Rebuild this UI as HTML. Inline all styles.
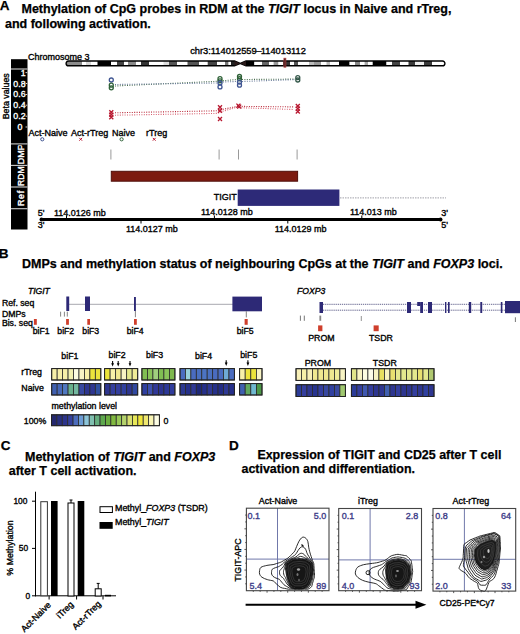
<!DOCTYPE html>
<html><head><meta charset="utf-8"><style>
html,body{margin:0;padding:0;background:#fff;}
body{width:520px;height:634px;overflow:hidden;}
svg{display:block;font-family:"Liberation Sans", sans-serif;}
</style></head><body>
<svg width="520" height="634" viewBox="0 0 520 634" font-family="Liberation Sans, sans-serif">
<rect width="520" height="634" fill="#fff"/>
<text x="-0.3" y="9.8" font-size="13.5" font-weight="bold" font-style="normal" fill="#000" stroke="#000" stroke-width="0.25" text-anchor="start" >A</text>
<text x="21.5" y="13" font-size="12.5" font-weight="bold" fill="#000" stroke="#000" stroke-width="0.25" text-anchor="start" ><tspan font-style="normal">Methylation of CpG probes in RDM at the </tspan><tspan font-style="italic">TIGIT</tspan><tspan font-style="normal"> locus in Naive and rTreg,</tspan></text>
<text x="5" y="28" font-size="12.5" font-weight="bold" font-style="normal" fill="#000" stroke="#000" stroke-width="0.25" text-anchor="start" >and following activation.</text>
<text x="28" y="59.6" font-size="9" font-weight="normal" font-style="normal" fill="#000" stroke="#000" stroke-width="0.35" text-anchor="start" >Chromosome 3</text>
<text x="190.2" y="54.3" font-size="9.3" fill="#000" stroke="#000" stroke-width="0.35">chr3:114012559<tspan dx="-0.5">–</tspan><tspan dx="-0.6">114013112</tspan></text>
<clipPath id="chr"><path d="M68.5,61.0 H234.5 L240.2,63.4 L246,61.0 H442.5 A2.4,2.4 0 0 1 442.5,65.8 H246 L240.2,63.4 L234.5,65.8 H68.5 A2.4,2.4 0 0 1 68.5,61.0 Z"/></clipPath>
<g clip-path="url(#chr)"><rect x="66" y="61.0" width="16.00" height="4.80" fill="#8c8c8c"/><rect x="82" y="61.0" width="4.00" height="4.80" fill="#fff"/><rect x="86" y="61.0" width="5.00" height="4.80" fill="#d8d8d8"/><rect x="91" y="61.0" width="6.50" height="4.80" fill="#fff"/><rect x="97.5" y="61.0" width="13.50" height="4.80" fill="#000"/><rect x="111" y="61.0" width="6.00" height="4.80" fill="#fff"/><rect x="117" y="61.0" width="7.00" height="4.80" fill="#444"/><rect x="124" y="61.0" width="4.00" height="4.80" fill="#fff"/><rect x="128" y="61.0" width="8.00" height="4.80" fill="#8a8a8a"/><rect x="136" y="61.0" width="5.00" height="4.80" fill="#fff"/><rect x="141" y="61.0" width="8.00" height="4.80" fill="#333"/><rect x="149" y="61.0" width="14.50" height="4.80" fill="#fff"/><rect x="163.5" y="61.0" width="5.50" height="4.80" fill="#ddd"/><rect x="169" y="61.0" width="8.00" height="4.80" fill="#555"/><rect x="177" y="61.0" width="10.50" height="4.80" fill="#fff"/><rect x="187.5" y="61.0" width="11.50" height="4.80" fill="#555"/><rect x="199" y="61.0" width="8.70" height="4.80" fill="#fff"/><rect x="207.7" y="61.0" width="9.30" height="4.80" fill="#444"/><rect x="217" y="61.0" width="8.00" height="4.80" fill="#fff"/><rect x="225" y="61.0" width="3.60" height="4.80" fill="#777"/><rect x="228.6" y="61.0" width="2.40" height="4.80" fill="#fff"/><rect x="231" y="61.0" width="4.00" height="4.80" fill="#222"/><rect x="246" y="61.0" width="8.40" height="4.80" fill="#000"/><rect x="254.4" y="61.0" width="7.60" height="4.80" fill="#fff"/><rect x="262" y="61.0" width="7.00" height="4.80" fill="#666"/><rect x="269" y="61.0" width="4.60" height="4.80" fill="#fff"/><rect x="273.6" y="61.0" width="4.90" height="4.80" fill="#999"/><rect x="278.5" y="61.0" width="4.50" height="4.80" fill="#fff"/><rect x="283" y="61.0" width="7.00" height="4.80" fill="#333"/><rect x="290" y="61.0" width="4.00" height="4.80" fill="#fff"/><rect x="294" y="61.0" width="4.00" height="4.80" fill="#555"/><rect x="298" y="61.0" width="11.00" height="4.80" fill="#fff"/><rect x="309" y="61.0" width="5.00" height="4.80" fill="#bbb"/><rect x="314" y="61.0" width="7.00" height="4.80" fill="#999"/><rect x="321" y="61.0" width="5.50" height="4.80" fill="#fff"/><rect x="326.5" y="61.0" width="3.50" height="4.80" fill="#bbb"/><rect x="330" y="61.0" width="9.00" height="4.80" fill="#fff"/><rect x="339" y="61.0" width="10.60" height="4.80" fill="#000"/><rect x="349.6" y="61.0" width="5.40" height="4.80" fill="#fff"/><rect x="355" y="61.0" width="5.00" height="4.80" fill="#888"/><rect x="360" y="61.0" width="4.60" height="4.80" fill="#fff"/><rect x="364.6" y="61.0" width="3.40" height="4.80" fill="#aaa"/><rect x="368" y="61.0" width="4.70" height="4.80" fill="#fff"/><rect x="372.7" y="61.0" width="13.80" height="4.80" fill="#000"/><rect x="386.5" y="61.0" width="5.50" height="4.80" fill="#fff"/><rect x="392" y="61.0" width="8.00" height="4.80" fill="#444"/><rect x="400" y="61.0" width="8.50" height="4.80" fill="#fff"/><rect x="408.5" y="61.0" width="6.50" height="4.80" fill="#3a3a3a"/><rect x="415" y="61.0" width="9.00" height="4.80" fill="#eee"/><rect x="424" y="61.0" width="8.00" height="4.80" fill="#3a3a3a"/><rect x="432" y="61.0" width="13.00" height="4.80" fill="#fff"/></g>
<path d="M68.5,61.0 H234.5 L246,65.8 H442.5 A2.4,2.4 0 0 0 442.5,61.0 H246 L234.5,65.8 H68.5 A2.4,2.4 0 0 1 68.5,61.0 Z" fill="none" stroke="#000" stroke-width="1.4"/>
<path d="M234.5,61.0 L240.2,63.4 L234.5,65.8 Z M246,61.0 L240.2,63.4 L246,65.8 Z" fill="#2a1a1a"/>
<rect x="283.9" y="58.2" width="2.0" height="9.0" fill="#4a2020" stroke="#b04040" stroke-width="0.7" />
<rect x="11" y="59.2" width="16.5" height="170.3" fill="#000" stroke="none" stroke-width="1" />
<text x="25.6" y="75.5" font-size="8.8" font-weight="normal" font-style="normal" fill="#fff" stroke="#fff" stroke-width="0.35" text-anchor="end" >1</text>
<text x="25.6" y="86.6" font-size="8.8" font-weight="normal" font-style="normal" fill="#fff" stroke="#fff" stroke-width="0.35" text-anchor="end" >0.8</text>
<text x="25.6" y="97.4" font-size="8.8" font-weight="normal" font-style="normal" fill="#fff" stroke="#fff" stroke-width="0.35" text-anchor="end" >0.6</text>
<text x="25.6" y="108.2" font-size="8.8" font-weight="normal" font-style="normal" fill="#fff" stroke="#fff" stroke-width="0.35" text-anchor="end" >0.4</text>
<text x="25.6" y="119" font-size="8.8" font-weight="normal" font-style="normal" fill="#fff" stroke="#fff" stroke-width="0.35" text-anchor="end" >0.2</text>
<text x="17.4" y="129.8" font-size="8.8" font-weight="normal" font-style="normal" fill="#fff" stroke="#fff" stroke-width="0.35" text-anchor="start" >0</text>
<line x1="25.5" y1="72.6" x2="27.2" y2="72.6" stroke="#fff" stroke-width="0.8" />
<line x1="25.5" y1="83.5" x2="27.2" y2="83.5" stroke="#fff" stroke-width="0.8" />
<line x1="25.5" y1="94.5" x2="27.2" y2="94.5" stroke="#fff" stroke-width="0.8" />
<line x1="25.5" y1="105.2" x2="27.2" y2="105.2" stroke="#fff" stroke-width="0.8" />
<line x1="25.5" y1="116.2" x2="27.2" y2="116.2" stroke="#fff" stroke-width="0.8" />
<line x1="25.5" y1="127" x2="27.2" y2="127" stroke="#fff" stroke-width="0.8" />
<clipPath id="dmpclip"><rect x="11" y="145.3" width="17" height="20"/></clipPath>
<g clip-path="url(#dmpclip)">
<text x="0" y="0" font-size="9.0" fill="#fff" font-weight="normal" stroke="#fff" stroke-width="0.35"  text-anchor="middle" transform="translate(24.4,154.2) rotate(-90)">DMP</text>
</g>
<text x="0" y="0" font-size="8.6" fill="#fff" font-weight="normal" stroke="#fff" stroke-width="0.35"  text-anchor="middle" transform="translate(24.4,176.2) rotate(-90)">RDM</text>
<text x="0" y="0" font-size="8.8" fill="#fff" font-weight="normal" stroke="#fff" stroke-width="0.35" letter-spacing="0.7" text-anchor="middle" transform="translate(24.0,198.1) rotate(-90)">Ref</text>
<text x="0" y="0" font-size="8.8" fill="#000" font-weight="normal" stroke="#000" stroke-width="0.35"  text-anchor="middle" transform="translate(9.1,96.3) rotate(-90)">Beta values</text>
<line x1="11" y1="69" x2="27.5" y2="69" stroke="#d0d0d0" stroke-width="1.1" />
<line x1="11" y1="143.9" x2="27.5" y2="143.9" stroke="#d0d0d0" stroke-width="1.1" />
<line x1="11" y1="165.4" x2="27.5" y2="165.4" stroke="#d0d0d0" stroke-width="1.1" />
<line x1="11" y1="187" x2="27.5" y2="187" stroke="#d0d0d0" stroke-width="1.1" />
<line x1="11" y1="208.7" x2="27.5" y2="208.7" stroke="#d0d0d0" stroke-width="1.1" />
<polyline points="115,86 217,81.3 222,80.8 237,79.5 242,79.5 295,79.1" fill="none" stroke="#4a6e50" stroke-width="1.1" stroke-dasharray="1 1.4"/>
<polyline points="115,84.5 217,83 222,82 237,81.5 242,81.5 295,79.6" fill="none" stroke="#6a7c9a" stroke-width="1.1" stroke-dasharray="1 1.4"/>
<polyline points="115,112.8 217,110.8 222,109.5 236,106.6 243,106.4 294,106.9" fill="none" stroke="#b82838" stroke-width="1.1" stroke-dasharray="1 1.4"/>
<polyline points="115,115.2 217,113.4 222,111.5 236,107.5 243,107.8 294,109.5" fill="none" stroke="#d86070" stroke-width="1.1" stroke-dasharray="1 1.4"/>
<circle cx="111.3" cy="80" r="2.0" fill="none" stroke="#3f5592" stroke-width="1.3"/>
<circle cx="111.3" cy="85.2" r="2.0" fill="none" stroke="#2f6238" stroke-width="1.3"/>
<circle cx="111.3" cy="87.8" r="2.0" fill="none" stroke="#2f6238" stroke-width="1.3"/>
<path d="M109.3,110.2 L113.3,114.2 M109.3,114.2 L113.3,110.2" stroke="#b81830" stroke-width="1.3" fill="none"/>
<path d="M109.3,112.6 L113.3,116.6 M109.3,116.6 L113.3,112.6" stroke="#b81830" stroke-width="1.3" fill="none"/>
<path d="M109.3,115.2 L113.3,119.2 M109.3,119.2 L113.3,115.2" stroke="#b81830" stroke-width="1.3" fill="none"/>
<circle cx="220" cy="78.7" r="2.0" fill="none" stroke="#2f6238" stroke-width="1.3"/>
<circle cx="220" cy="80.8" r="2.0" fill="none" stroke="#2f6238" stroke-width="1.3"/>
<circle cx="220" cy="83" r="2.0" fill="none" stroke="#3f5592" stroke-width="1.3"/>
<circle cx="220" cy="86.9" r="2.0" fill="none" stroke="#3f5592" stroke-width="1.3"/>
<path d="M218.0,105.3 L222.0,109.3 M218.0,109.3 L222.0,105.3" stroke="#b81830" stroke-width="1.3" fill="none"/>
<path d="M218.0,108.8 L222.0,112.8 M218.0,112.8 L222.0,108.8" stroke="#b81830" stroke-width="1.3" fill="none"/>
<path d="M218.0,117.0 L222.0,121.0 M218.0,121.0 L222.0,117.0" stroke="#b81830" stroke-width="1.3" fill="none"/>
<circle cx="239.5" cy="76.5" r="2.0" fill="none" stroke="#2f6238" stroke-width="1.3"/>
<circle cx="239.5" cy="78.7" r="2.0" fill="none" stroke="#2f6238" stroke-width="1.3"/>
<circle cx="239.5" cy="82.1" r="2.0" fill="none" stroke="#3f5592" stroke-width="1.3"/>
<circle cx="239.5" cy="85.2" r="2.0" fill="none" stroke="#3f5592" stroke-width="1.3"/>
<path d="M236.4,103.6 L240.4,107.6 M236.4,107.6 L240.4,103.6" stroke="#b81830" stroke-width="1.3" fill="none"/>
<path d="M237.2,104.6 L241.2,108.6 M237.2,108.6 L241.2,104.6" stroke="#b81830" stroke-width="1.3" fill="none"/>
<circle cx="297.8" cy="77.6" r="2.0" fill="none" stroke="#34584a" stroke-width="1.3"/>
<circle cx="297.8" cy="80" r="2.0" fill="none" stroke="#34584a" stroke-width="1.3"/>
<path d="M295.8,104.0 L299.8,108.0 M295.8,108.0 L299.8,104.0" stroke="#b81830" stroke-width="1.3" fill="none"/>
<path d="M295.8,106.6 L299.8,110.6 M295.8,110.6 L299.8,106.6" stroke="#b81830" stroke-width="1.3" fill="none"/>
<path d="M295.8,109.5 L299.8,113.5 M295.8,113.5 L299.8,109.5" stroke="#b81830" stroke-width="1.3" fill="none"/>
<text x="28.5" y="135.8" font-size="9" font-weight="normal" font-style="normal" fill="#000" stroke="#000" stroke-width="0.35" text-anchor="start" >Act-Naive</text>
<text x="71" y="135.8" font-size="9" font-weight="normal" font-style="normal" fill="#000" stroke="#000" stroke-width="0.35" text-anchor="start" >Act-rTreg</text>
<text x="112" y="135.8" font-size="9" font-weight="normal" font-style="normal" fill="#000" stroke="#000" stroke-width="0.35" text-anchor="start" >Naive</text>
<text x="146" y="135.8" font-size="9" font-weight="normal" font-style="normal" fill="#000" stroke="#000" stroke-width="0.35" text-anchor="start" >rTreg</text>
<circle cx="42.3" cy="139.3" r="1.6" fill="none" stroke="#3f5592" stroke-width="1"/>
<path d="M79.3,137.9 L82.10000000000001,140.70000000000002 M79.3,140.70000000000002 L82.10000000000001,137.9" stroke="#b81830" stroke-width="1" fill="none"/>
<circle cx="121.6" cy="139.3" r="1.6" fill="none" stroke="#2f6238" stroke-width="1"/>
<path d="M152.79999999999998,137.9 L155.6,140.70000000000002 M152.79999999999998,140.70000000000002 L155.6,137.9" stroke="#b81830" stroke-width="1" fill="none"/>
<line x1="110.9" y1="149.5" x2="110.9" y2="159.5" stroke="#999" stroke-width="1" />
<line x1="219.1" y1="149.5" x2="219.1" y2="159.5" stroke="#999" stroke-width="1" />
<line x1="238.5" y1="149.5" x2="238.5" y2="159.5" stroke="#999" stroke-width="1" />
<line x1="297.1" y1="149.5" x2="297.1" y2="159.5" stroke="#999" stroke-width="1" />
<rect x="111.3" y="171.3" width="186.3" height="9.9" fill="#7c1b10" stroke="#50100a" stroke-width="1" />
<text x="213.8" y="200.2" font-size="9" font-weight="normal" font-style="normal" fill="#000" stroke="#000" stroke-width="0.35" text-anchor="start" >TIGIT</text>
<rect x="237.7" y="189.5" width="101.7" height="16.4" fill="#2d2a78" stroke="none" stroke-width="1" />
<line x1="340" y1="197.9" x2="446" y2="197.9" stroke="#a0a0a8" stroke-width="1" stroke-dasharray="1.5 1"/>
<line x1="41" y1="219.5" x2="440.5" y2="219.5" stroke="#000" stroke-width="3" />
<circle cx="41.5" cy="219.5" r="2" fill="#000"/>
<circle cx="440.5" cy="219.5" r="2" fill="#000"/>
<line x1="66.5" y1="215.5" x2="66.5" y2="219" stroke="#000" stroke-width="1" />
<line x1="214.4" y1="215.5" x2="214.4" y2="219" stroke="#000" stroke-width="1" />
<line x1="361.8" y1="215.5" x2="361.8" y2="219" stroke="#000" stroke-width="1" />
<line x1="141" y1="220" x2="141" y2="223.5" stroke="#000" stroke-width="1" />
<line x1="287.8" y1="220" x2="287.8" y2="223.5" stroke="#000" stroke-width="1" />
<text x="37.7" y="216" font-size="9" font-weight="normal" font-style="normal" fill="#000" stroke="#000" stroke-width="0.35" text-anchor="start" >5'</text>
<text x="37.7" y="228" font-size="9" font-weight="normal" font-style="normal" fill="#000" stroke="#000" stroke-width="0.35" text-anchor="start" >3'</text>
<text x="441.2" y="216.3" font-size="9" font-weight="normal" font-style="normal" fill="#000" stroke="#000" stroke-width="0.35" text-anchor="start" >3'</text>
<text x="441.2" y="228" font-size="9" font-weight="normal" font-style="normal" fill="#000" stroke="#000" stroke-width="0.35" text-anchor="start" >5'</text>
<text x="54" y="216" font-size="9" font-weight="normal" font-style="normal" fill="#000" stroke="#000" stroke-width="0.35" text-anchor="start" >114.0126 mb</text>
<text x="201" y="214.5" font-size="9" font-weight="normal" font-style="normal" fill="#000" stroke="#000" stroke-width="0.35" text-anchor="start" >114.0128 mb</text>
<text x="350" y="214.5" font-size="9" font-weight="normal" font-style="normal" fill="#000" stroke="#000" stroke-width="0.35" text-anchor="start" >114.013 mb</text>
<text x="126" y="231.5" font-size="9" font-weight="normal" font-style="normal" fill="#000" stroke="#000" stroke-width="0.35" text-anchor="start" >114.0127 mb</text>
<text x="274.7" y="231.5" font-size="9" font-weight="normal" font-style="normal" fill="#000" stroke="#000" stroke-width="0.35" text-anchor="start" >114.0129 mb</text>
<text x="-1.2" y="258" font-size="13.5" font-weight="bold" font-style="normal" fill="#000" stroke="#000" stroke-width="0.25" text-anchor="start" >B</text>
<text x="22" y="267.5" font-size="12.5" font-weight="bold" fill="#000" stroke="#000" stroke-width="0.25" text-anchor="start" ><tspan font-style="normal">DMPs and methylation status of neighbouring CpGs at the </tspan><tspan font-style="italic">TIGIT</tspan><tspan font-style="normal"> and </tspan><tspan font-style="italic">FOXP3</tspan><tspan font-style="normal"> loci.</tspan></text>
<text x="27.9" y="293.8" font-size="8.6" font-weight="normal" font-style="italic" fill="#000" stroke="#000" stroke-width="0.35" text-anchor="start" >TIGIT</text>
<text x="1.9" y="306" font-size="8.7" font-weight="normal" font-style="normal" fill="#000" stroke="#000" stroke-width="0.35" text-anchor="start" >Ref. seq</text>
<text x="1.9" y="317" font-size="8.7" font-weight="normal" font-style="normal" fill="#000" stroke="#000" stroke-width="0.35" text-anchor="start" >DMPs</text>
<text x="1.9" y="326.2" font-size="8.7" font-weight="normal" font-style="normal" fill="#000" stroke="#000" stroke-width="0.35" text-anchor="start" >Bis. seq</text>
<line x1="68" y1="304.3" x2="233" y2="304.3" stroke="#a8a8b0" stroke-width="1" />
<rect x="66.3" y="296.5" width="2.9000000000000057" height="14.5" fill="#2d2976" stroke="none" stroke-width="1" />
<rect x="85" y="296.5" width="5" height="14.5" fill="#2d2976" stroke="none" stroke-width="1" />
<rect x="134" y="297" width="1.9000000000000057" height="14" fill="#2d2976" stroke="none" stroke-width="1" />
<rect x="232.4" y="296.6" width="29.599999999999994" height="14.699999999999989" fill="#2d2976" stroke="none" stroke-width="1" />
<line x1="60.6" y1="311.7" x2="60.6" y2="316.6" stroke="#777" stroke-width="0.9" />
<line x1="64.4" y1="311.7" x2="64.4" y2="316.6" stroke="#777" stroke-width="0.9" />
<line x1="67.3" y1="311.7" x2="67.3" y2="316.6" stroke="#777" stroke-width="0.9" />
<line x1="135.4" y1="311" x2="135.4" y2="317.2" stroke="#777" stroke-width="0.9" />
<line x1="246.3" y1="311.2" x2="246.3" y2="317.4" stroke="#777" stroke-width="0.9" />
<rect x="33.9" y="319" width="2.8999999999999986" height="5.8" fill="#cf3f2c" stroke="none" stroke-width="1" />
<rect x="66.1" y="319" width="2.8000000000000114" height="5.8" fill="#cf3f2c" stroke="none" stroke-width="1" />
<rect x="87.3" y="319" width="2.700000000000003" height="5.8" fill="#cf3f2c" stroke="none" stroke-width="1" />
<rect x="134" y="319" width="2.8000000000000114" height="5.8" fill="#cf3f2c" stroke="none" stroke-width="1" />
<rect x="244.6" y="319" width="3.0999999999999943" height="5.8" fill="#cf3f2c" stroke="none" stroke-width="1" />
<text x="32.7" y="333.6" font-size="8.7" font-weight="normal" font-style="normal" fill="#000" stroke="#000" stroke-width="0.35" text-anchor="start" >biF1</text>
<text x="57.3" y="333.6" font-size="8.7" font-weight="normal" font-style="normal" fill="#000" stroke="#000" stroke-width="0.35" text-anchor="start" >biF2</text>
<text x="82.3" y="333.6" font-size="8.7" font-weight="normal" font-style="normal" fill="#000" stroke="#000" stroke-width="0.35" text-anchor="start" >biF3</text>
<text x="126.7" y="333.6" font-size="8.7" font-weight="normal" font-style="normal" fill="#000" stroke="#000" stroke-width="0.35" text-anchor="start" >biF4</text>
<text x="236.7" y="333.6" font-size="8.7" font-weight="normal" font-style="normal" fill="#000" stroke="#000" stroke-width="0.35" text-anchor="start" >biF5</text>
<text x="297" y="294.3" font-size="8.6" font-weight="normal" font-style="italic" fill="#000" stroke="#000" stroke-width="0.35" text-anchor="start" >FOXP3</text>
<line x1="323" y1="304.3" x2="505" y2="304.3" stroke="#686890" stroke-width="1" stroke-dasharray="1.3 0.8"/>
<line x1="323" y1="310.2" x2="505" y2="310.2" stroke="#686890" stroke-width="1" stroke-dasharray="1.3 0.8"/>
<rect x="319.5" y="302" width="3.5" height="11" fill="#2d2976" stroke="none" stroke-width="1" />
<rect x="407" y="302" width="4" height="11" fill="#2d2976" stroke="none" stroke-width="1" />
<rect x="420.2" y="302" width="2.8000000000000114" height="11" fill="#2d2976" stroke="none" stroke-width="1" />
<rect x="428" y="302" width="4" height="11" fill="#2d2976" stroke="none" stroke-width="1" />
<rect x="445" y="302" width="1.3999999999999773" height="11" fill="#2d2976" stroke="none" stroke-width="1" />
<rect x="448" y="302" width="1.6000000000000227" height="11" fill="#2d2976" stroke="none" stroke-width="1" />
<rect x="468.8" y="302" width="2.3999999999999773" height="11" fill="#2d2976" stroke="none" stroke-width="1" />
<rect x="480.3" y="302" width="1.8999999999999773" height="11" fill="#2d2976" stroke="none" stroke-width="1" />
<rect x="500.8" y="302" width="1.599999999999966" height="11" fill="#2d2976" stroke="none" stroke-width="1" />
<rect x="417.2" y="302" width="3.2" height="4" fill="#2d2976" stroke="none" stroke-width="1" />
<rect x="505" y="301" width="15" height="12.2" fill="#2d2976" stroke="none" stroke-width="1" />
<line x1="300.4" y1="315.6" x2="300.4" y2="320.8" stroke="#666" stroke-width="0.9" />
<line x1="304.3" y1="315.6" x2="304.3" y2="320.8" stroke="#666" stroke-width="0.9" />
<line x1="320.3" y1="315.6" x2="320.3" y2="320.8" stroke="#888" stroke-width="1.8" />
<line x1="361.3" y1="316" x2="361.3" y2="321" stroke="#888" stroke-width="0.9" />
<line x1="515.4" y1="317.3" x2="515.4" y2="322" stroke="#666" stroke-width="0.9" />
<rect x="318.1" y="325.4" width="4.3" height="5.8" fill="#cf3f2c" stroke="none" stroke-width="1" />
<rect x="373.6" y="325.4" width="5.1" height="5.8" fill="#cf3f2c" stroke="none" stroke-width="1" />
<text x="308.2" y="341.2" font-size="8.8" font-weight="normal" font-style="normal" fill="#000" stroke="#000" stroke-width="0.35" text-anchor="start" >PROM</text>
<text x="369" y="341.2" font-size="8.8" font-weight="normal" font-style="normal" fill="#000" stroke="#000" stroke-width="0.35" text-anchor="start" >TSDR</text>
<rect x="51.70" y="368.6" width="5.46" height="11.40" fill="#f7f0a8" stroke="#2a2a2a" stroke-width="0.8"/><rect x="57.16" y="368.6" width="5.46" height="11.40" fill="#f7f0a8" stroke="#2a2a2a" stroke-width="0.8"/><rect x="62.61" y="368.6" width="5.46" height="11.40" fill="#f7f0a8" stroke="#2a2a2a" stroke-width="0.8"/><rect x="68.07" y="368.6" width="5.46" height="11.40" fill="#f2f0b0" stroke="#2a2a2a" stroke-width="0.8"/><rect x="73.52" y="368.6" width="5.46" height="11.40" fill="#fcfce2" stroke="#2a2a2a" stroke-width="0.8"/><rect x="78.98" y="368.6" width="5.46" height="11.40" fill="#f8f4c4" stroke="#2a2a2a" stroke-width="0.8"/><rect x="84.43" y="368.6" width="5.46" height="11.40" fill="#f7f0a8" stroke="#2a2a2a" stroke-width="0.8"/><rect x="89.89" y="368.6" width="5.46" height="11.40" fill="#ece43c" stroke="#2a2a2a" stroke-width="0.8"/><rect x="95.34" y="368.6" width="5.46" height="11.40" fill="#ece43c" stroke="#2a2a2a" stroke-width="0.8"/><rect x="51.7" y="368.6" width="49.10" height="11.40" fill="none" stroke="#222" stroke-width="1"/>
<rect x="51.70" y="383.6" width="5.46" height="11.40" fill="#4060b0" stroke="#2a2a2a" stroke-width="0.8"/><rect x="57.16" y="383.6" width="5.46" height="11.40" fill="#4668b8" stroke="#2a2a2a" stroke-width="0.8"/><rect x="62.61" y="383.6" width="5.46" height="11.40" fill="#5078c0" stroke="#2a2a2a" stroke-width="0.8"/><rect x="68.07" y="383.6" width="5.46" height="11.40" fill="#68b08c" stroke="#2a2a2a" stroke-width="0.8"/><rect x="73.52" y="383.6" width="5.46" height="11.40" fill="#74b8a0" stroke="#2a2a2a" stroke-width="0.8"/><rect x="78.98" y="383.6" width="5.46" height="11.40" fill="#3848a0" stroke="#2a2a2a" stroke-width="0.8"/><rect x="84.43" y="383.6" width="5.46" height="11.40" fill="#2e3690" stroke="#2a2a2a" stroke-width="0.8"/><rect x="89.89" y="383.6" width="5.46" height="11.40" fill="#2e3690" stroke="#2a2a2a" stroke-width="0.8"/><rect x="95.34" y="383.6" width="5.46" height="11.40" fill="#3050a0" stroke="#2a2a2a" stroke-width="0.8"/><rect x="51.7" y="383.6" width="49.10" height="11.40" fill="none" stroke="#222" stroke-width="1"/>
<rect x="104.60" y="368.6" width="5.52" height="11.40" fill="#ece43c" stroke="#2a2a2a" stroke-width="0.8"/><rect x="110.12" y="368.6" width="5.52" height="11.40" fill="#f7f0a8" stroke="#2a2a2a" stroke-width="0.8"/><rect x="115.63" y="368.6" width="5.52" height="11.40" fill="#f0e890" stroke="#2a2a2a" stroke-width="0.8"/><rect x="121.15" y="368.6" width="5.52" height="11.40" fill="#f8f4c4" stroke="#2a2a2a" stroke-width="0.8"/><rect x="126.67" y="368.6" width="5.52" height="11.40" fill="#e4e88e" stroke="#2a2a2a" stroke-width="0.8"/><rect x="132.18" y="368.6" width="5.52" height="11.40" fill="#f0ec98" stroke="#2a2a2a" stroke-width="0.8"/><rect x="104.6" y="368.6" width="33.10" height="11.40" fill="none" stroke="#222" stroke-width="1"/>
<rect x="104.60" y="383.6" width="5.52" height="11.40" fill="#2e3690" stroke="#2a2a2a" stroke-width="0.8"/><rect x="110.12" y="383.6" width="5.52" height="11.40" fill="#343e9e" stroke="#2a2a2a" stroke-width="0.8"/><rect x="115.63" y="383.6" width="5.52" height="11.40" fill="#343e9e" stroke="#2a2a2a" stroke-width="0.8"/><rect x="121.15" y="383.6" width="5.52" height="11.40" fill="#3040a0" stroke="#2a2a2a" stroke-width="0.8"/><rect x="126.67" y="383.6" width="5.52" height="11.40" fill="#2e3690" stroke="#2a2a2a" stroke-width="0.8"/><rect x="132.18" y="383.6" width="5.52" height="11.40" fill="#3048a0" stroke="#2a2a2a" stroke-width="0.8"/><rect x="104.6" y="383.6" width="33.10" height="11.40" fill="none" stroke="#222" stroke-width="1"/>
<rect x="141.90" y="368.6" width="5.50" height="11.40" fill="#80be52" stroke="#2a2a2a" stroke-width="0.8"/><rect x="147.40" y="368.6" width="5.50" height="11.40" fill="#8ac45a" stroke="#2a2a2a" stroke-width="0.8"/><rect x="152.90" y="368.6" width="5.50" height="11.40" fill="#a0cf7e" stroke="#2a2a2a" stroke-width="0.8"/><rect x="158.40" y="368.6" width="5.50" height="11.40" fill="#80be52" stroke="#2a2a2a" stroke-width="0.8"/><rect x="163.90" y="368.6" width="5.50" height="11.40" fill="#8ac45a" stroke="#2a2a2a" stroke-width="0.8"/><rect x="169.40" y="368.6" width="5.50" height="11.40" fill="#7eb84e" stroke="#2a2a2a" stroke-width="0.8"/><rect x="141.9" y="368.6" width="33.00" height="11.40" fill="none" stroke="#222" stroke-width="1"/>
<rect x="141.90" y="383.6" width="5.50" height="11.40" fill="#3040a0" stroke="#2a2a2a" stroke-width="0.8"/><rect x="147.40" y="383.6" width="5.50" height="11.40" fill="#3c50b0" stroke="#2a2a2a" stroke-width="0.8"/><rect x="152.90" y="383.6" width="5.50" height="11.40" fill="#303898" stroke="#2a2a2a" stroke-width="0.8"/><rect x="158.40" y="383.6" width="5.50" height="11.40" fill="#2c3490" stroke="#2a2a2a" stroke-width="0.8"/><rect x="163.90" y="383.6" width="5.50" height="11.40" fill="#2c3898" stroke="#2a2a2a" stroke-width="0.8"/><rect x="169.40" y="383.6" width="5.50" height="11.40" fill="#303c9c" stroke="#2a2a2a" stroke-width="0.8"/><rect x="141.9" y="383.6" width="33.00" height="11.40" fill="none" stroke="#222" stroke-width="1"/>
<rect x="180.00" y="368.6" width="5.44" height="11.40" fill="#4a6cc0" stroke="#2a2a2a" stroke-width="0.8"/><rect x="185.44" y="368.6" width="5.44" height="11.40" fill="#98d0dc" stroke="#2a2a2a" stroke-width="0.8"/><rect x="190.88" y="368.6" width="5.44" height="11.40" fill="#4a6cc0" stroke="#2a2a2a" stroke-width="0.8"/><rect x="196.32" y="368.6" width="5.44" height="11.40" fill="#4a70c0" stroke="#2a2a2a" stroke-width="0.8"/><rect x="201.76" y="368.6" width="5.44" height="11.40" fill="#4c74c2" stroke="#2a2a2a" stroke-width="0.8"/><rect x="207.20" y="368.6" width="5.44" height="11.40" fill="#4a70c0" stroke="#2a2a2a" stroke-width="0.8"/><rect x="212.64" y="368.6" width="5.44" height="11.40" fill="#4a6cc0" stroke="#2a2a2a" stroke-width="0.8"/><rect x="218.08" y="368.6" width="5.44" height="11.40" fill="#4a6cc0" stroke="#2a2a2a" stroke-width="0.8"/><rect x="223.52" y="368.6" width="5.44" height="11.40" fill="#6eaad6" stroke="#2a2a2a" stroke-width="0.8"/><rect x="228.96" y="368.6" width="5.44" height="11.40" fill="#4a6cc0" stroke="#2a2a2a" stroke-width="0.8"/><rect x="180" y="368.6" width="54.40" height="11.40" fill="none" stroke="#222" stroke-width="1"/>
<rect x="180.00" y="383.6" width="5.44" height="11.40" fill="#2c3890" stroke="#2a2a2a" stroke-width="0.8"/><rect x="185.44" y="383.6" width="5.44" height="11.40" fill="#26308a" stroke="#2a2a2a" stroke-width="0.8"/><rect x="190.88" y="383.6" width="5.44" height="11.40" fill="#2e3894" stroke="#2a2a2a" stroke-width="0.8"/><rect x="196.32" y="383.6" width="5.44" height="11.40" fill="#1e2878" stroke="#2a2a2a" stroke-width="0.8"/><rect x="201.76" y="383.6" width="5.44" height="11.40" fill="#26308a" stroke="#2a2a2a" stroke-width="0.8"/><rect x="207.20" y="383.6" width="5.44" height="11.40" fill="#2e3894" stroke="#2a2a2a" stroke-width="0.8"/><rect x="212.64" y="383.6" width="5.44" height="11.40" fill="#26308a" stroke="#2a2a2a" stroke-width="0.8"/><rect x="218.08" y="383.6" width="5.44" height="11.40" fill="#232c84" stroke="#2a2a2a" stroke-width="0.8"/><rect x="223.52" y="383.6" width="5.44" height="11.40" fill="#2e3894" stroke="#2a2a2a" stroke-width="0.8"/><rect x="228.96" y="383.6" width="5.44" height="11.40" fill="#26308a" stroke="#2a2a2a" stroke-width="0.8"/><rect x="180" y="383.6" width="54.40" height="11.40" fill="none" stroke="#222" stroke-width="1"/>
<rect x="239.60" y="368.6" width="5.60" height="11.40" fill="#f7f0a8" stroke="#2a2a2a" stroke-width="0.8"/><rect x="245.20" y="368.6" width="5.60" height="11.40" fill="#ece43c" stroke="#2a2a2a" stroke-width="0.8"/><rect x="250.80" y="368.6" width="5.60" height="11.40" fill="#ece43c" stroke="#2a2a2a" stroke-width="0.8"/><rect x="256.40" y="368.6" width="5.60" height="11.40" fill="#f8f4c4" stroke="#2a2a2a" stroke-width="0.8"/><rect x="239.6" y="368.6" width="22.40" height="11.40" fill="none" stroke="#222" stroke-width="1"/>
<rect x="239.60" y="383.6" width="5.60" height="11.40" fill="#4060b0" stroke="#2a2a2a" stroke-width="0.8"/><rect x="245.20" y="383.6" width="5.60" height="11.40" fill="#60a860" stroke="#2a2a2a" stroke-width="0.8"/><rect x="250.80" y="383.6" width="5.60" height="11.40" fill="#70b8d0" stroke="#2a2a2a" stroke-width="0.8"/><rect x="256.40" y="383.6" width="5.60" height="11.40" fill="#4c9848" stroke="#2a2a2a" stroke-width="0.8"/><rect x="239.6" y="383.6" width="22.40" height="11.40" fill="none" stroke="#222" stroke-width="1"/>
<rect x="296.00" y="368.7" width="5.49" height="11.70" fill="#f8f0b8" stroke="#2a2a2a" stroke-width="0.8"/><rect x="301.49" y="368.7" width="5.49" height="11.70" fill="#f7f0a8" stroke="#2a2a2a" stroke-width="0.8"/><rect x="306.98" y="368.7" width="5.49" height="11.70" fill="#f8f0b8" stroke="#2a2a2a" stroke-width="0.8"/><rect x="312.47" y="368.7" width="5.49" height="11.70" fill="#f0e890" stroke="#2a2a2a" stroke-width="0.8"/><rect x="317.96" y="368.7" width="5.49" height="11.70" fill="#f0e890" stroke="#2a2a2a" stroke-width="0.8"/><rect x="323.44" y="368.7" width="5.49" height="11.70" fill="#f0e890" stroke="#2a2a2a" stroke-width="0.8"/><rect x="328.93" y="368.7" width="5.49" height="11.70" fill="#f0e890" stroke="#2a2a2a" stroke-width="0.8"/><rect x="334.42" y="368.7" width="5.49" height="11.70" fill="#f0ec98" stroke="#2a2a2a" stroke-width="0.8"/><rect x="339.91" y="368.7" width="5.49" height="11.70" fill="#f8f4c4" stroke="#2a2a2a" stroke-width="0.8"/><rect x="296" y="368.7" width="49.40" height="11.70" fill="none" stroke="#222" stroke-width="1"/>
<rect x="296.00" y="384.7" width="5.49" height="11.80" fill="#2c3c98" stroke="#2a2a2a" stroke-width="0.8"/><rect x="301.49" y="384.7" width="5.49" height="11.80" fill="#343e9e" stroke="#2a2a2a" stroke-width="0.8"/><rect x="306.98" y="384.7" width="5.49" height="11.80" fill="#2e3690" stroke="#2a2a2a" stroke-width="0.8"/><rect x="312.47" y="384.7" width="5.49" height="11.80" fill="#283490" stroke="#2a2a2a" stroke-width="0.8"/><rect x="317.96" y="384.7" width="5.49" height="11.80" fill="#343e9e" stroke="#2a2a2a" stroke-width="0.8"/><rect x="323.44" y="384.7" width="5.49" height="11.80" fill="#3848a0" stroke="#2a2a2a" stroke-width="0.8"/><rect x="328.93" y="384.7" width="5.49" height="11.80" fill="#3040a0" stroke="#2a2a2a" stroke-width="0.8"/><rect x="334.42" y="384.7" width="5.49" height="11.80" fill="#3848a0" stroke="#2a2a2a" stroke-width="0.8"/><rect x="339.91" y="384.7" width="5.49" height="11.80" fill="#a0c870" stroke="#2a2a2a" stroke-width="0.8"/><rect x="296" y="384.7" width="49.40" height="11.80" fill="none" stroke="#222" stroke-width="1"/>
<rect x="351.40" y="368.7" width="5.51" height="11.70" fill="#e0e48a" stroke="#2a2a2a" stroke-width="0.8"/><rect x="356.91" y="368.7" width="5.51" height="11.70" fill="#f8f4c4" stroke="#2a2a2a" stroke-width="0.8"/><rect x="362.41" y="368.7" width="5.51" height="11.70" fill="#fcfce2" stroke="#2a2a2a" stroke-width="0.8"/><rect x="367.92" y="368.7" width="5.51" height="11.70" fill="#fcfce8" stroke="#2a2a2a" stroke-width="0.8"/><rect x="373.43" y="368.7" width="5.51" height="11.70" fill="#f8f4c4" stroke="#2a2a2a" stroke-width="0.8"/><rect x="378.93" y="368.7" width="5.51" height="11.70" fill="#e8e060" stroke="#2a2a2a" stroke-width="0.8"/><rect x="384.44" y="368.7" width="5.51" height="11.70" fill="#f8f4c0" stroke="#2a2a2a" stroke-width="0.8"/><rect x="389.95" y="368.7" width="5.51" height="11.70" fill="#e8e070" stroke="#2a2a2a" stroke-width="0.8"/><rect x="395.45" y="368.7" width="5.51" height="11.70" fill="#e4e88e" stroke="#2a2a2a" stroke-width="0.8"/><rect x="400.96" y="368.7" width="5.51" height="11.70" fill="#e4e88e" stroke="#2a2a2a" stroke-width="0.8"/><rect x="406.47" y="368.7" width="5.51" height="11.70" fill="#e4e88e" stroke="#2a2a2a" stroke-width="0.8"/><rect x="411.97" y="368.7" width="5.51" height="11.70" fill="#e4e88e" stroke="#2a2a2a" stroke-width="0.8"/><rect x="417.48" y="368.7" width="5.51" height="11.70" fill="#e8e070" stroke="#2a2a2a" stroke-width="0.8"/><rect x="422.99" y="368.7" width="5.51" height="11.70" fill="#e4e88e" stroke="#2a2a2a" stroke-width="0.8"/><rect x="428.49" y="368.7" width="5.51" height="11.70" fill="#b0c870" stroke="#2a2a2a" stroke-width="0.8"/><rect x="351.4" y="368.7" width="82.60" height="11.70" fill="none" stroke="#222" stroke-width="1"/>
<rect x="351.40" y="384.7" width="5.51" height="11.80" fill="#2c3c98" stroke="#2a2a2a" stroke-width="0.8"/><rect x="356.91" y="384.7" width="5.51" height="11.80" fill="#343e9e" stroke="#2a2a2a" stroke-width="0.8"/><rect x="362.41" y="384.7" width="5.51" height="11.80" fill="#4058b0" stroke="#2a2a2a" stroke-width="0.8"/><rect x="367.92" y="384.7" width="5.51" height="11.80" fill="#343e9e" stroke="#2a2a2a" stroke-width="0.8"/><rect x="373.43" y="384.7" width="5.51" height="11.80" fill="#2e3690" stroke="#2a2a2a" stroke-width="0.8"/><rect x="378.93" y="384.7" width="5.51" height="11.80" fill="#2e3690" stroke="#2a2a2a" stroke-width="0.8"/><rect x="384.44" y="384.7" width="5.51" height="11.80" fill="#4060b0" stroke="#2a2a2a" stroke-width="0.8"/><rect x="389.95" y="384.7" width="5.51" height="11.80" fill="#2e3690" stroke="#2a2a2a" stroke-width="0.8"/><rect x="395.45" y="384.7" width="5.51" height="11.80" fill="#343e9e" stroke="#2a2a2a" stroke-width="0.8"/><rect x="400.96" y="384.7" width="5.51" height="11.80" fill="#2e3690" stroke="#2a2a2a" stroke-width="0.8"/><rect x="406.47" y="384.7" width="5.51" height="11.80" fill="#2e3690" stroke="#2a2a2a" stroke-width="0.8"/><rect x="411.97" y="384.7" width="5.51" height="11.80" fill="#343e9e" stroke="#2a2a2a" stroke-width="0.8"/><rect x="417.48" y="384.7" width="5.51" height="11.80" fill="#2e3690" stroke="#2a2a2a" stroke-width="0.8"/><rect x="422.99" y="384.7" width="5.51" height="11.80" fill="#3040a0" stroke="#2a2a2a" stroke-width="0.8"/><rect x="428.49" y="384.7" width="5.51" height="11.80" fill="#2e3690" stroke="#2a2a2a" stroke-width="0.8"/><rect x="351.4" y="384.7" width="82.60" height="11.80" fill="none" stroke="#222" stroke-width="1"/>
<text x="61.3" y="358.6" font-size="8.8" font-weight="normal" font-style="normal" fill="#000" stroke="#000" stroke-width="0.35" text-anchor="start" >biF1</text>
<text x="108.5" y="358.3" font-size="8.8" font-weight="normal" font-style="normal" fill="#000" stroke="#000" stroke-width="0.35" text-anchor="start" >biF2</text>
<text x="146" y="358.3" font-size="8.8" font-weight="normal" font-style="normal" fill="#000" stroke="#000" stroke-width="0.35" text-anchor="start" >biF3</text>
<text x="195" y="358.6" font-size="8.8" font-weight="normal" font-style="normal" fill="#000" stroke="#000" stroke-width="0.35" text-anchor="start" >biF4</text>
<text x="240.2" y="357.6" font-size="8.8" font-weight="normal" font-style="normal" fill="#000" stroke="#000" stroke-width="0.35" text-anchor="start" >biF5</text>
<text x="304.7" y="366.1" font-size="8.8" font-weight="normal" font-style="normal" fill="#000" stroke="#000" stroke-width="0.35" text-anchor="start" >PROM</text>
<text x="372.8" y="365.6" font-size="8.8" font-weight="normal" font-style="normal" fill="#000" stroke="#000" stroke-width="0.35" text-anchor="start" >TSDR</text>
<text x="21.3" y="375" font-size="8.8" font-weight="normal" font-style="normal" fill="#000" stroke="#000" stroke-width="0.35" text-anchor="start" >rTreg</text>
<text x="21.3" y="391.3" font-size="8.8" font-weight="normal" font-style="normal" fill="#000" stroke="#000" stroke-width="0.35" text-anchor="start" >Naive</text>
<path d="M112.6,361 V364.1" stroke="#000" stroke-width="1.1"/><path d="M111.19999999999999,363.20000000000005 L114.0,363.20000000000005 L112.6,366.6 Z" fill="#000"/>
<path d="M118.2,361 V364.1" stroke="#000" stroke-width="1.1"/><path d="M116.8,363.20000000000005 L119.60000000000001,363.20000000000005 L118.2,366.6 Z" fill="#000"/>
<path d="M130,361 V364.1" stroke="#000" stroke-width="1.1"/><path d="M128.6,363.20000000000005 L131.4,363.20000000000005 L130,366.6 Z" fill="#000"/>
<path d="M226.2,360.2 V363.5" stroke="#000" stroke-width="1.1"/><path d="M224.79999999999998,362.6 L227.6,362.6 L226.2,366 Z" fill="#000"/>
<path d="M247.9,360.2 V363.5" stroke="#000" stroke-width="1.1"/><path d="M246.5,362.6 L249.3,362.6 L247.9,366 Z" fill="#000"/>
<text x="51.5" y="409.2" font-size="8.8" font-weight="normal" font-style="normal" fill="#000" stroke="#000" stroke-width="0.35" text-anchor="start" >methylation level</text>
<text x="23.8" y="423.6" font-size="8.8" font-weight="normal" font-style="normal" fill="#000" stroke="#000" stroke-width="0.35" text-anchor="start" >100%</text>
<text x="163.6" y="423.6" font-size="8.8" font-weight="normal" font-style="normal" fill="#000" stroke="#000" stroke-width="0.35" text-anchor="start" >0</text>
<rect x="51.50" y="414.8" width="5.40" height="10.90" fill="#24286e" stroke="#2a2a2a" stroke-width="0.8"/><rect x="56.90" y="414.8" width="5.40" height="10.90" fill="#283080" stroke="#2a2a2a" stroke-width="0.8"/><rect x="62.29" y="414.8" width="5.40" height="10.90" fill="#2c348c" stroke="#2a2a2a" stroke-width="0.8"/><rect x="67.69" y="414.8" width="5.40" height="10.90" fill="#34409c" stroke="#2a2a2a" stroke-width="0.8"/><rect x="73.08" y="414.8" width="5.40" height="10.90" fill="#4c6cbc" stroke="#2a2a2a" stroke-width="0.8"/><rect x="78.47" y="414.8" width="5.40" height="10.90" fill="#6c9cd4" stroke="#2a2a2a" stroke-width="0.8"/><rect x="83.87" y="414.8" width="5.40" height="10.90" fill="#8cc4d8" stroke="#2a2a2a" stroke-width="0.8"/><rect x="89.27" y="414.8" width="5.40" height="10.90" fill="#80c0b0" stroke="#2a2a2a" stroke-width="0.8"/><rect x="94.66" y="414.8" width="5.40" height="10.90" fill="#66ae80" stroke="#2a2a2a" stroke-width="0.8"/><rect x="100.06" y="414.8" width="5.40" height="10.90" fill="#5ea84e" stroke="#2a2a2a" stroke-width="0.8"/><rect x="105.45" y="414.8" width="5.40" height="10.90" fill="#6cae40" stroke="#2a2a2a" stroke-width="0.8"/><rect x="110.84" y="414.8" width="5.40" height="10.90" fill="#80b840" stroke="#2a2a2a" stroke-width="0.8"/><rect x="116.24" y="414.8" width="5.40" height="10.90" fill="#98c858" stroke="#2a2a2a" stroke-width="0.8"/><rect x="121.64" y="414.8" width="5.40" height="10.90" fill="#b4d26c" stroke="#2a2a2a" stroke-width="0.8"/><rect x="127.03" y="414.8" width="5.40" height="10.90" fill="#d8e070" stroke="#2a2a2a" stroke-width="0.8"/><rect x="132.43" y="414.8" width="5.40" height="10.90" fill="#e8e858" stroke="#2a2a2a" stroke-width="0.8"/><rect x="137.82" y="414.8" width="5.40" height="10.90" fill="#f0e63c" stroke="#2a2a2a" stroke-width="0.8"/><rect x="143.22" y="414.8" width="5.40" height="10.90" fill="#f0e870" stroke="#2a2a2a" stroke-width="0.8"/><rect x="148.61" y="414.8" width="5.40" height="10.90" fill="#f8f4b4" stroke="#2a2a2a" stroke-width="0.8"/><rect x="154.00" y="414.8" width="5.40" height="10.90" fill="#fcfce4" stroke="#2a2a2a" stroke-width="0.8"/><rect x="51.5" y="414.8" width="107.90" height="10.90" fill="none" stroke="#222" stroke-width="1"/>
<text x="0.65" y="450.1" font-size="13.5" font-weight="bold" font-style="normal" fill="#000" stroke="#000" stroke-width="0.25" text-anchor="start" >C</text>
<text x="25" y="460.5" font-size="12.5" font-weight="bold" fill="#000" stroke="#000" stroke-width="0.25" text-anchor="start" ><tspan font-style="normal">Methylation of </tspan><tspan font-style="italic">TIGIT</tspan><tspan font-style="normal"> and </tspan><tspan font-style="italic">FOXP3</tspan></text>
<text x="8.75" y="475" font-size="12.5" font-weight="bold" font-style="normal" fill="#000" stroke="#000" stroke-width="0.25" text-anchor="start" >after T cell activation.</text>
<line x1="35.5" y1="491.7" x2="35.5" y2="596.3" stroke="#000" stroke-width="1" />
<line x1="35" y1="595.8" x2="116" y2="595.8" stroke="#000" stroke-width="1" />
<line x1="32" y1="501.2" x2="35.5" y2="501.2" stroke="#000" stroke-width="1" />
<line x1="32" y1="548.4" x2="35.5" y2="548.4" stroke="#000" stroke-width="1" />
<line x1="32" y1="595.8" x2="35.5" y2="595.8" stroke="#000" stroke-width="1" />
<text x="13.4" y="503.8" font-size="8.4" font-weight="normal" font-style="normal" fill="#000" stroke="#000" stroke-width="0.35" text-anchor="start" >100</text>
<text x="18.8" y="551.2" font-size="8.4" font-weight="normal" font-style="normal" fill="#000" stroke="#000" stroke-width="0.35" text-anchor="start" >50</text>
<text x="25.5" y="598.6" font-size="8.4" font-weight="normal" font-style="normal" fill="#000" stroke="#000" stroke-width="0.35" text-anchor="start" >0</text>
<line x1="49.1" y1="596" x2="49.1" y2="599.5" stroke="#000" stroke-width="1" />
<line x1="76.6" y1="596" x2="76.6" y2="599.5" stroke="#000" stroke-width="1" />
<line x1="103" y1="596" x2="103" y2="599.5" stroke="#000" stroke-width="1" />
<rect x="40.8" y="501.7" width="6.6" height="94.1" fill="#fff" stroke="#333" stroke-width="1" />
<rect x="51" y="501" width="6.6" height="95" fill="#000" stroke="none" stroke-width="1" />
<rect x="68" y="503" width="6" height="93" fill="#fff" stroke="#000" stroke-width="1" />
<line x1="71" y1="503" x2="71" y2="500" stroke="#000" stroke-width="1" />
<line x1="69.5" y1="500" x2="72.5" y2="500" stroke="#000" stroke-width="1" />
<rect x="77.7" y="501" width="6.6" height="95" fill="#000" stroke="none" stroke-width="1" />
<rect x="95.2" y="588.8" width="6" height="7.2" fill="#fff" stroke="#000" stroke-width="1" />
<line x1="98.2" y1="588.8" x2="98.2" y2="583.4" stroke="#000" stroke-width="1" />
<line x1="96.7" y1="583.4" x2="99.7" y2="583.4" stroke="#000" stroke-width="1" />
<rect x="105" y="594.8" width="6" height="1.6" fill="#000" stroke="none" stroke-width="1" />
<text x="0" y="0" font-size="8.8" stroke="#000" stroke-width="0.35" text-anchor="end" transform="translate(51.5,605.5) rotate(-45)">Act-Naive</text>
<text x="0" y="0" font-size="8.8" stroke="#000" stroke-width="0.35" text-anchor="end" transform="translate(74,605) rotate(-45)">iTreg</text>
<text x="0" y="0" font-size="8.8" stroke="#000" stroke-width="0.35" text-anchor="end" transform="translate(101.5,604.5) rotate(-45)">Act-rTreg</text>
<text x="0" y="0" font-size="8.8" fill="#000" font-weight="normal" stroke="#000" stroke-width="0.35"  text-anchor="middle" transform="translate(13.2,548) rotate(-90)">% Methylation</text>
<rect x="100" y="506.7" width="12.4" height="5.8" fill="#fff" stroke="#000" stroke-width="1" />
<rect x="99.5" y="522" width="13.2" height="6.8" fill="#000" stroke="none" stroke-width="1" />
<text x="115" y="511.3" font-size="8.9" font-weight="normal" fill="#000" stroke="#000" stroke-width="0.35" text-anchor="start" ><tspan font-style="normal">Methyl_</tspan><tspan font-style="italic">FOXP3</tspan><tspan font-style="normal"> (TSDR)</tspan></text>
<text x="115" y="525.0" font-size="8.9" font-weight="normal" fill="#000" stroke="#000" stroke-width="0.35" text-anchor="start" ><tspan font-style="normal">Methyl_</tspan><tspan font-style="italic">TIGIT</tspan></text>
<text x="228.9" y="449.8" font-size="13.5" font-weight="bold" font-style="normal" fill="#000" stroke="#000" stroke-width="0.25" text-anchor="start" >D</text>
<text x="257.4" y="459.2" font-size="12.45" font-weight="bold" font-style="normal" fill="#000" stroke="#000" stroke-width="0.25" text-anchor="start" >Expression of TIGIT and CD25 after T cell</text>
<text x="241.5" y="473.2" font-size="12.45" font-weight="bold" font-style="normal" fill="#000" stroke="#000" stroke-width="0.25" text-anchor="start" >activation and differentiation.</text>
<line x1="277.5" y1="508.2" x2="277.5" y2="590.7" stroke="#7078aa" stroke-width="1" />
<line x1="246.4" y1="559.1" x2="329.0" y2="559.1" stroke="#7078aa" stroke-width="1" />
<path d="M314.5,574.0C314.5,574.5 314.5,574.9 314.5,575.4C314.5,575.8 314.5,576.3 314.4,576.7C314.4,577.2 314.2,577.6 314.1,578.0C313.9,578.5 313.8,578.9 313.7,579.3C313.6,579.8 313.4,580.2 313.3,580.7C313.2,581.1 313.0,581.6 312.9,582.0C312.8,582.5 312.6,583.0 312.5,583.5C312.4,583.9 312.2,584.4 312.1,585.0C311.9,585.5 311.9,586.1 311.6,586.6C311.3,587.0 310.9,587.3 310.5,587.7C310.1,588.0 309.7,588.4 309.2,588.6C308.8,588.9 308.3,589.1 307.8,589.2C307.2,589.3 306.6,589.2 306.1,589.2C305.5,589.2 305.0,589.2 304.5,589.2C304.0,589.2 303.5,589.2 303.1,589.2C302.6,589.2 302.1,589.2 301.7,589.2C301.2,589.2 300.8,589.2 300.3,589.2C299.9,589.2 299.4,589.2 299.0,589.2C298.6,589.2 298.1,589.2 297.7,589.2C297.2,589.2 296.8,589.2 296.3,589.2C295.9,589.2 295.4,589.2 294.9,589.2C294.5,589.2 294.0,589.2 293.5,589.2C293.0,589.2 292.5,589.2 291.9,589.2C291.4,589.2 290.8,589.2 290.2,589.2C289.6,589.2 289.0,589.2 288.4,589.2C287.8,589.1 287.2,588.9 286.6,588.8C285.9,588.7 285.3,588.6 284.6,588.4C283.9,588.3 283.0,588.2 282.3,588.0C281.6,587.8 280.8,587.5 280.2,587.2C279.6,586.8 279.2,586.2 278.6,585.8C278.1,585.3 277.5,584.8 276.9,584.3C276.4,583.8 275.8,583.2 275.1,582.7C274.5,582.1 274.5,581.4 273.1,580.9C271.8,580.4 269.1,580.2 267.3,579.6C265.4,579.0 263.2,578.2 261.9,577.2C260.6,576.3 260.0,575.1 259.6,574.0C259.2,572.9 259.4,571.7 259.6,570.6C259.8,569.4 259.8,568.2 261.0,567.3C262.2,566.4 264.9,565.9 266.9,565.4C268.9,564.9 271.5,564.9 273.1,564.6C274.7,564.3 275.5,563.9 276.6,563.5C277.6,563.2 278.6,563.0 279.4,562.7C280.3,562.4 281.0,562.1 281.6,561.8C282.2,561.5 282.7,561.1 283.3,560.8C283.8,560.5 284.4,560.2 284.9,559.9C285.4,559.6 285.9,559.3 286.4,559.0C286.9,558.7 287.4,558.4 287.9,558.1C288.3,557.8 288.8,557.4 289.2,557.0C289.6,556.6 290.0,556.1 290.5,555.7C290.9,555.3 291.4,554.8 291.8,554.3C292.3,553.8 292.8,553.4 293.3,552.8C293.8,552.2 294.4,551.8 294.9,550.8C295.4,549.7 295.9,548.1 296.6,546.5C297.3,545.0 298.1,542.8 299.0,541.2C299.9,539.7 301.1,538.0 302.2,537.4C303.3,536.8 304.4,537.2 305.4,537.9C306.3,538.5 307.2,539.7 307.8,541.3C308.3,542.8 308.4,545.5 308.7,547.2C309.0,548.9 309.3,550.1 309.6,551.3C309.9,552.5 310.2,553.3 310.4,554.2C310.7,555.1 310.9,555.9 311.2,556.6C311.4,557.4 311.6,558.0 311.9,558.7C312.1,559.3 312.3,559.9 312.5,560.5C312.8,561.0 313.0,561.6 313.2,562.1C313.4,562.6 313.6,563.1 313.8,563.7C313.9,564.2 313.9,564.8 313.9,565.4C313.9,566.0 314.0,566.5 314.0,567.0C314.0,567.5 314.1,568.0 314.1,568.5C314.1,569.0 314.2,569.5 314.2,569.9C314.2,570.4 314.3,570.9 314.3,571.3C314.3,571.8 314.3,572.2 314.4,572.7C314.4,573.1 314.4,573.5 314.5,574.0Z" fill="none" stroke="#151515" stroke-width="0.9"/>
<path d="M313.3,574.0C313.3,574.4 313.3,574.8 313.2,575.2C313.2,575.7 313.2,576.1 313.1,576.5C313.0,576.9 312.9,577.3 312.8,577.7C312.7,578.1 312.6,578.5 312.5,578.9C312.4,579.3 312.3,579.7 312.2,580.1C312.0,580.5 311.9,580.9 311.8,581.4C311.6,581.8 311.5,582.2 311.3,582.6C311.2,583.1 311.0,583.5 310.9,584.0C310.7,584.4 310.6,584.9 310.4,585.4C310.2,585.8 309.8,586.2 309.5,586.5C309.2,586.9 308.9,587.3 308.5,587.5C308.1,587.8 307.6,587.9 307.1,588.1C306.7,588.2 306.1,588.2 305.7,588.3C305.2,588.4 304.7,588.4 304.3,588.5C303.8,588.6 303.4,588.7 302.9,588.7C302.5,588.8 302.1,588.9 301.6,588.9C301.2,588.9 300.7,588.9 300.3,588.9C299.9,588.9 299.4,588.9 299.0,588.9C298.6,588.9 298.1,588.9 297.7,588.9C297.3,588.9 296.8,588.9 296.4,588.9C295.9,588.9 295.5,588.9 295.0,588.9C294.5,588.9 294.1,588.9 293.6,588.8C293.1,588.8 292.7,588.6 292.2,588.5C291.8,588.4 291.3,588.3 290.8,588.2C290.3,588.1 289.8,588.0 289.3,587.9C288.8,587.7 288.4,587.4 288.0,587.2C287.5,586.9 287.1,586.6 286.6,586.4C286.2,586.1 285.7,585.9 285.2,585.6C284.7,585.3 284.2,585.0 283.8,584.6C283.4,584.2 283.2,583.8 282.8,583.4C282.4,582.9 282.1,582.5 281.7,582.1C281.3,581.6 280.9,581.2 280.5,580.7C280.1,580.3 280.1,579.7 279.3,579.3C278.6,578.8 277.1,578.6 276.0,578.1C275.0,577.6 273.7,577.0 273.0,576.3C272.2,575.6 271.9,574.8 271.6,574.0C271.4,573.2 271.5,572.4 271.6,571.6C271.7,570.8 271.6,569.9 272.2,569.3C272.9,568.6 274.3,568.1 275.4,567.7C276.5,567.2 277.8,567.0 278.7,566.6C279.6,566.2 280.0,565.8 280.6,565.4C281.2,565.1 281.8,564.7 282.3,564.3C282.7,564.0 283.1,563.6 283.5,563.2C283.9,562.7 284.1,562.2 284.5,561.8C284.9,561.5 285.5,561.2 285.9,560.9C286.4,560.7 286.9,560.4 287.3,560.1C287.8,559.8 288.3,559.6 288.7,559.3C289.2,559.0 289.6,558.7 290.0,558.4C290.4,558.1 290.8,557.7 291.3,557.4C291.7,557.1 292.2,556.8 292.7,556.6C293.1,556.3 293.6,556.0 294.1,555.6C294.6,555.3 295.1,555.0 295.6,554.4C296.1,553.8 296.5,552.9 297.1,552.1C297.7,551.2 298.3,549.9 299.0,549.1C299.7,548.2 300.6,547.2 301.4,546.9C302.2,546.6 303.0,546.9 303.7,547.3C304.4,547.6 305.1,548.3 305.6,549.2C306.2,550.1 306.4,551.6 306.8,552.6C307.2,553.5 307.5,554.2 307.9,554.9C308.3,555.6 308.7,556.1 309.0,556.7C309.4,557.2 309.6,557.8 310.0,558.4C310.3,558.9 310.6,559.4 310.9,559.8C311.2,560.3 311.5,560.7 311.8,561.2C312.1,561.7 312.3,562.2 312.5,562.7C312.7,563.2 312.8,563.7 312.9,564.3C313.0,564.8 313.0,565.4 313.1,565.9C313.1,566.4 313.2,566.9 313.2,567.4C313.2,567.9 313.3,568.3 313.3,568.8C313.4,569.2 313.4,569.7 313.4,570.1C313.4,570.6 313.4,571.0 313.4,571.5C313.3,571.9 313.3,572.3 313.3,572.7C313.3,573.2 313.3,573.6 313.3,574.0Z" fill="none" stroke="#151515" stroke-width="0.9"/>
<path d="M312.5,574.0C312.4,574.4 312.4,574.8 312.4,575.2C312.3,575.6 312.3,575.9 312.2,576.3C312.1,576.7 312.1,577.1 312.0,577.5C311.9,577.9 311.8,578.3 311.7,578.6C311.7,579.0 311.5,579.4 311.4,579.8C311.3,580.2 311.1,580.5 311.0,580.9C310.8,581.3 310.7,581.7 310.5,582.1C310.4,582.5 310.2,582.9 310.1,583.3C309.9,583.7 309.8,584.2 309.6,584.6C309.4,585.0 309.2,585.4 308.9,585.8C308.6,586.2 308.3,586.5 308.0,586.8C307.6,587.1 307.1,587.2 306.7,587.3C306.3,587.5 305.8,587.6 305.4,587.7C305.0,587.8 304.5,587.9 304.1,588.1C303.7,588.2 303.3,588.3 302.9,588.4C302.4,588.5 302.0,588.6 301.6,588.7C301.2,588.7 300.7,588.7 300.3,588.7C299.9,588.7 299.4,588.7 299.0,588.7C298.6,588.7 298.1,588.7 297.7,588.7C297.3,588.7 296.9,588.7 296.4,588.7C296.0,588.7 295.5,588.7 295.1,588.7C294.6,588.7 294.1,588.7 293.7,588.6C293.3,588.5 292.9,588.2 292.5,588.0C292.0,587.9 291.6,587.7 291.2,587.5C290.8,587.3 290.3,587.2 289.9,587.0C289.5,586.7 289.2,586.4 288.9,586.0C288.6,585.7 288.3,585.3 288.0,585.0C287.7,584.6 287.4,584.3 287.1,584.0C286.8,583.6 286.5,583.3 286.3,582.9C286.0,582.5 285.8,582.1 285.6,581.7C285.3,581.4 285.1,581.0 284.9,580.6C284.6,580.2 284.4,579.8 284.1,579.4C283.9,579.0 283.8,578.6 283.4,578.2C283.1,577.8 282.4,577.4 281.8,577.0C281.3,576.6 280.7,576.1 280.4,575.6C280.0,575.1 279.8,574.6 279.7,574.0C279.5,573.4 279.5,572.9 279.5,572.3C279.5,571.7 279.5,571.1 279.7,570.6C280.0,570.1 280.6,569.6 281.0,569.2C281.5,568.7 282.0,568.4 282.4,568.0C282.8,567.5 283.1,567.1 283.3,566.7C283.6,566.3 283.9,565.9 284.1,565.4C284.4,565.0 284.6,564.5 284.8,564.0C285.0,563.6 285.0,562.9 285.3,562.5C285.6,562.1 286.2,561.9 286.7,561.7C287.1,561.4 287.6,561.1 288.0,560.9C288.4,560.6 288.9,560.4 289.3,560.1C289.7,559.9 290.1,559.6 290.5,559.3C290.9,559.1 291.3,558.7 291.8,558.5C292.2,558.3 292.7,558.2 293.2,558.0C293.7,557.9 294.1,557.7 294.6,557.5C295.1,557.4 295.5,557.2 296.0,556.9C296.5,556.6 296.9,556.2 297.4,555.7C297.9,555.3 298.4,554.7 299.0,554.3C299.6,553.9 300.2,553.4 300.8,553.3C301.4,553.1 302.0,553.3 302.6,553.5C303.2,553.7 303.7,554.1 304.2,554.5C304.7,555.0 305.1,555.7 305.5,556.2C305.9,556.6 306.3,557.0 306.8,557.3C307.2,557.7 307.7,557.9 308.1,558.3C308.5,558.7 308.8,559.1 309.1,559.5C309.5,559.9 309.9,560.3 310.2,560.6C310.6,561.0 311.0,561.3 311.3,561.7C311.6,562.1 311.8,562.6 312.0,563.1C312.2,563.6 312.2,564.2 312.3,564.7C312.4,565.2 312.4,565.7 312.5,566.2C312.6,566.7 312.6,567.2 312.7,567.6C312.7,568.1 312.8,568.5 312.8,569.0C312.8,569.4 312.9,569.8 312.9,570.3C312.9,570.7 312.8,571.2 312.7,571.6C312.7,572.0 312.7,572.4 312.6,572.8C312.6,573.2 312.5,573.6 312.5,574.0Z" fill="none" stroke="#151515" stroke-width="0.9"/>
<path d="M312.1,574.0C312.0,574.4 312.0,574.8 311.9,575.1C311.9,575.5 311.8,575.9 311.8,576.3C311.7,576.6 311.6,577.0 311.6,577.4C311.5,577.7 311.4,578.1 311.4,578.5C311.3,578.9 311.2,579.2 311.0,579.6C310.9,580.0 310.7,580.3 310.6,580.7C310.4,581.1 310.3,581.4 310.1,581.8C310.0,582.2 309.8,582.6 309.7,583.0C309.5,583.3 309.4,583.8 309.2,584.2C309.0,584.6 308.8,585.0 308.6,585.4C308.3,585.8 308.1,586.2 307.7,586.4C307.4,586.7 306.9,586.8 306.5,586.9C306.1,587.1 305.7,587.2 305.2,587.4C304.8,587.5 304.4,587.7 304.0,587.8C303.6,588.0 303.2,588.1 302.8,588.3C302.4,588.4 302.0,588.5 301.6,588.6C301.1,588.6 300.7,588.6 300.3,588.6C299.8,588.6 299.4,588.6 299.0,588.6C298.6,588.6 298.2,588.6 297.7,588.6C297.3,588.6 296.9,588.6 296.4,588.6C296.0,588.6 295.5,588.6 295.1,588.6C294.6,588.5 294.2,588.6 293.7,588.4C293.3,588.3 293.0,588.0 292.6,587.8C292.2,587.6 291.8,587.4 291.4,587.2C291.0,587.0 290.6,586.8 290.2,586.6C289.9,586.3 289.6,585.9 289.4,585.5C289.1,585.1 288.9,584.7 288.7,584.3C288.5,583.9 288.3,583.5 288.1,583.2C287.9,582.8 287.7,582.4 287.5,582.1C287.3,581.7 287.1,581.3 287.0,580.9C286.8,580.6 286.6,580.2 286.5,579.9C286.3,579.5 286.1,579.1 285.9,578.8C285.8,578.4 285.7,578.0 285.5,577.6C285.3,577.2 285.0,576.9 284.8,576.5C284.5,576.1 284.2,575.7 284.1,575.3C283.9,574.9 283.8,574.4 283.7,574.0C283.6,573.6 283.5,573.1 283.5,572.6C283.5,572.2 283.4,571.7 283.5,571.3C283.5,570.8 283.7,570.4 283.9,569.9C284.0,569.5 284.1,569.1 284.3,568.6C284.4,568.2 284.6,567.8 284.7,567.3C284.8,566.9 285.0,566.4 285.1,566.0C285.2,565.5 285.3,565.0 285.4,564.5C285.5,564.0 285.5,563.3 285.7,562.9C286.0,562.4 286.6,562.3 287.0,562.0C287.5,561.8 287.9,561.5 288.3,561.3C288.7,561.0 289.2,560.8 289.6,560.5C290.0,560.3 290.4,560.0 290.8,559.8C291.2,559.5 291.6,559.3 292.0,559.1C292.5,558.9 293.0,558.9 293.5,558.8C293.9,558.7 294.4,558.6 294.8,558.5C295.3,558.4 295.7,558.3 296.2,558.1C296.7,558.0 297.1,557.8 297.6,557.6C298.0,557.4 298.5,557.1 299.0,556.9C299.5,556.7 300.0,556.5 300.5,556.4C301.0,556.4 301.6,556.5 302.1,556.7C302.6,556.8 303.0,557.0 303.5,557.2C304.0,557.4 304.4,557.7 304.8,557.9C305.3,558.2 305.8,558.3 306.2,558.5C306.7,558.7 307.2,558.9 307.6,559.1C308.0,559.4 308.4,559.8 308.7,560.1C309.1,560.4 309.5,560.7 309.9,561.0C310.3,561.3 310.8,561.6 311.1,561.9C311.4,562.3 311.6,562.8 311.8,563.3C311.9,563.8 312.0,564.4 312.0,564.9C312.1,565.4 312.2,565.9 312.2,566.4C312.3,566.8 312.3,567.3 312.4,567.8C312.4,568.2 312.5,568.6 312.6,569.1C312.6,569.5 312.6,569.9 312.6,570.4C312.6,570.8 312.5,571.2 312.4,571.6C312.4,572.0 312.3,572.4 312.3,572.8C312.2,573.2 312.1,573.6 312.1,574.0Z" fill="none" stroke="#151515" stroke-width="0.9"/>
<path d="M311.8,574.0C311.8,574.4 311.7,574.7 311.6,575.1C311.6,575.5 311.5,575.8 311.5,576.2C311.4,576.6 311.3,576.9 311.3,577.3C311.2,577.7 311.2,578.0 311.1,578.4C311.0,578.8 310.9,579.1 310.8,579.5C310.7,579.9 310.5,580.2 310.3,580.5C310.2,580.9 310.0,581.3 309.9,581.6C309.7,582.0 309.6,582.3 309.4,582.7C309.2,583.1 309.1,583.5 308.9,583.9C308.7,584.3 308.6,584.8 308.4,585.2C308.1,585.5 307.9,585.9 307.5,586.2C307.2,586.4 306.7,586.5 306.3,586.7C305.9,586.9 305.5,587.0 305.1,587.2C304.8,587.4 304.4,587.5 304.0,587.7C303.6,587.8 303.2,588.0 302.8,588.2C302.4,588.3 302.0,588.4 301.6,588.5C301.1,588.6 300.7,588.5 300.3,588.5C299.8,588.5 299.4,588.5 299.0,588.5C298.6,588.5 298.2,588.5 297.7,588.5C297.3,588.5 296.9,588.5 296.4,588.5C296.0,588.5 295.6,588.5 295.1,588.5C294.7,588.5 294.2,588.5 293.8,588.4C293.4,588.2 293.0,587.9 292.6,587.6C292.3,587.4 291.9,587.2 291.5,587.0C291.2,586.7 290.7,586.6 290.4,586.3C290.1,586.0 289.9,585.5 289.7,585.1C289.5,584.7 289.3,584.2 289.2,583.8C289.0,583.4 288.9,583.0 288.7,582.6C288.6,582.2 288.4,581.9 288.3,581.5C288.2,581.1 288.0,580.8 287.9,580.4C287.8,580.1 287.6,579.7 287.5,579.4C287.4,579.0 287.2,578.7 287.1,578.3C287.0,578.0 286.9,577.6 286.9,577.2C286.8,576.9 286.8,576.5 286.7,576.2C286.6,575.8 286.6,575.5 286.5,575.1C286.5,574.7 286.4,574.4 286.3,574.0C286.3,573.6 286.2,573.3 286.1,572.9C286.1,572.5 286.0,572.1 285.9,571.7C285.9,571.3 285.8,570.9 285.7,570.4C285.7,570.0 285.5,569.5 285.5,569.1C285.5,568.6 285.6,568.2 285.6,567.8C285.6,567.3 285.7,566.8 285.7,566.3C285.8,565.8 285.8,565.3 285.9,564.8C285.9,564.3 285.8,563.5 286.0,563.1C286.2,562.7 286.8,562.5 287.3,562.3C287.7,562.0 288.1,561.8 288.5,561.5C288.9,561.3 289.4,561.0 289.8,560.8C290.2,560.6 290.6,560.3 291.0,560.1C291.4,559.9 291.8,559.6 292.2,559.5C292.7,559.3 293.2,559.4 293.6,559.3C294.1,559.2 294.6,559.2 295.0,559.1C295.5,559.1 295.9,559.0 296.3,559.0C296.8,558.9 297.2,558.8 297.7,558.8C298.1,558.7 298.6,558.7 299.0,558.6C299.4,558.6 299.9,558.5 300.4,558.6C300.8,558.6 301.2,558.7 301.7,558.7C302.1,558.8 302.6,558.9 303.0,558.9C303.5,559.0 303.9,559.1 304.4,559.1C304.9,559.2 305.4,559.2 305.8,559.3C306.3,559.4 306.8,559.5 307.3,559.7C307.7,559.9 308.1,560.2 308.5,560.5C308.9,560.7 309.3,561.0 309.7,561.3C310.1,561.6 310.6,561.7 310.9,562.1C311.2,562.5 311.5,562.9 311.6,563.4C311.8,563.9 311.8,564.5 311.8,565.0C311.9,565.5 312.0,566.0 312.0,566.5C312.1,566.9 312.2,567.4 312.2,567.8C312.3,568.3 312.3,568.7 312.4,569.1C312.4,569.6 312.5,570.0 312.4,570.4C312.4,570.8 312.3,571.3 312.2,571.7C312.2,572.1 312.1,572.5 312.0,572.9C312.0,573.2 311.9,573.6 311.8,574.0Z" fill="none" stroke="#151515" stroke-width="0.9"/>
<path d="M311.3,574.0C311.3,574.4 311.2,574.7 311.1,575.1C311.1,575.4 311.0,575.8 311.0,576.1C310.9,576.5 310.9,576.8 310.8,577.2C310.7,577.5 310.7,577.9 310.6,578.2C310.5,578.6 310.4,578.9 310.3,579.3C310.2,579.6 310.0,579.9 309.9,580.3C309.7,580.6 309.6,581.0 309.4,581.3C309.3,581.7 309.1,582.0 309.0,582.4C308.8,582.7 308.7,583.1 308.5,583.5C308.3,583.9 308.2,584.3 308.0,584.7C307.8,585.1 307.5,585.5 307.2,585.7C306.9,586.0 306.4,586.0 306.0,586.2C305.7,586.3 305.3,586.5 304.9,586.7C304.5,586.8 304.2,587.0 303.8,587.1C303.4,587.3 303.0,587.5 302.6,587.6C302.3,587.7 301.9,587.9 301.5,587.9C301.1,588.0 300.6,587.9 300.2,587.9C299.8,587.9 299.4,587.9 299.0,587.9C298.6,587.9 298.2,587.9 297.8,587.9C297.4,587.9 297.0,587.9 296.5,587.9C296.1,587.9 295.7,587.9 295.3,587.9C294.8,587.9 294.4,587.9 294.0,587.8C293.6,587.6 293.3,587.3 292.9,587.1C292.5,586.9 292.2,586.7 291.8,586.4C291.5,586.2 291.1,586.1 290.8,585.8C290.5,585.5 290.2,585.1 290.0,584.7C289.8,584.3 289.7,583.8 289.6,583.4C289.4,583.0 289.3,582.6 289.1,582.3C289.0,581.9 288.9,581.5 288.7,581.2C288.6,580.8 288.5,580.5 288.3,580.2C288.2,579.8 288.1,579.5 288.0,579.1C287.8,578.8 287.7,578.5 287.6,578.2C287.5,577.8 287.4,577.5 287.4,577.1C287.3,576.8 287.2,576.4 287.2,576.1C287.1,575.7 287.1,575.4 287.0,575.0C287.0,574.7 286.9,574.4 286.8,574.0C286.8,573.6 286.7,573.3 286.7,572.9C286.6,572.6 286.5,572.2 286.5,571.8C286.4,571.4 286.3,571.0 286.3,570.6C286.2,570.2 286.1,569.7 286.1,569.3C286.0,568.9 286.1,568.4 286.1,568.0C286.2,567.6 286.2,567.1 286.3,566.6C286.3,566.2 286.3,565.7 286.4,565.2C286.4,564.6 286.3,563.9 286.5,563.5C286.7,563.1 287.3,563.0 287.7,562.7C288.1,562.5 288.6,562.3 288.9,562.0C289.3,561.8 289.7,561.6 290.1,561.3C290.5,561.1 290.9,560.9 291.3,560.7C291.7,560.4 292.1,560.2 292.5,560.1C292.9,559.9 293.4,559.9 293.9,559.9C294.3,559.8 294.7,559.8 295.2,559.7C295.6,559.7 296.0,559.6 296.5,559.6C296.9,559.5 297.3,559.5 297.7,559.4C298.1,559.3 298.6,559.3 299.0,559.2C299.4,559.2 299.9,559.1 300.3,559.2C300.7,559.2 301.2,559.3 301.6,559.4C302.0,559.4 302.4,559.5 302.9,559.5C303.3,559.6 303.7,559.7 304.2,559.7C304.6,559.8 305.1,559.8 305.6,559.9C306.0,560.0 306.5,560.1 306.9,560.3C307.4,560.4 307.7,560.8 308.1,561.0C308.5,561.3 308.9,561.5 309.2,561.8C309.6,562.0 310.1,562.2 310.4,562.6C310.7,562.9 311.0,563.4 311.1,563.8C311.3,564.3 311.3,564.9 311.3,565.4C311.4,565.9 311.4,566.3 311.5,566.8C311.6,567.2 311.6,567.7 311.7,568.1C311.7,568.5 311.8,568.9 311.8,569.3C311.9,569.7 311.9,570.1 311.9,570.5C311.9,571.0 311.8,571.4 311.7,571.8C311.6,572.2 311.6,572.5 311.5,572.9C311.4,573.3 311.4,573.6 311.3,574.0Z" fill="#161616" stroke="#111" stroke-width="0.9"/>
<path d="M309.5,574.0C309.4,574.3 309.4,574.6 309.3,574.9C309.3,575.2 309.2,575.5 309.2,575.8C309.1,576.1 309.1,576.4 309.0,576.7C309.0,577.0 308.9,577.3 308.9,577.6C308.8,577.9 308.7,578.2 308.6,578.5C308.5,578.8 308.4,579.1 308.3,579.3C308.1,579.6 308.0,579.9 307.9,580.2C307.7,580.5 307.6,580.8 307.5,581.1C307.4,581.4 307.2,581.7 307.1,582.1C306.9,582.4 306.8,582.8 306.6,583.1C306.5,583.4 306.2,583.7 306.0,583.9C305.7,584.2 305.3,584.2 305.0,584.4C304.7,584.5 304.3,584.6 304.0,584.8C303.7,584.9 303.4,585.0 303.1,585.2C302.7,585.3 302.4,585.4 302.1,585.6C301.8,585.7 301.4,585.8 301.1,585.8C300.7,585.9 300.4,585.8 300.0,585.8C299.7,585.8 299.3,585.8 299.0,585.8C298.7,585.8 298.3,585.8 298.0,585.8C297.6,585.8 297.3,585.8 296.9,585.8C296.6,585.8 296.2,585.9 295.8,585.8C295.5,585.8 295.1,585.8 294.7,585.7C294.4,585.6 294.1,585.3 293.8,585.1C293.5,584.9 293.2,584.8 292.9,584.6C292.6,584.4 292.2,584.3 292.0,584.0C291.7,583.8 291.6,583.4 291.4,583.1C291.2,582.7 291.1,582.4 291.0,582.0C290.9,581.7 290.7,581.3 290.6,581.0C290.5,580.7 290.4,580.4 290.3,580.1C290.2,579.8 290.1,579.5 289.9,579.2C289.8,578.9 289.7,578.7 289.6,578.4C289.5,578.1 289.4,577.8 289.3,577.5C289.2,577.2 289.2,576.9 289.1,576.7C289.0,576.4 289.0,576.1 289.0,575.8C288.9,575.5 288.9,575.2 288.8,574.9C288.8,574.6 288.7,574.3 288.7,574.0C288.6,573.7 288.6,573.4 288.5,573.1C288.5,572.8 288.4,572.5 288.4,572.1C288.3,571.8 288.2,571.5 288.2,571.1C288.1,570.7 288.0,570.4 288.0,570.0C288.0,569.6 288.0,569.3 288.1,568.9C288.1,568.5 288.1,568.1 288.2,567.7C288.2,567.3 288.2,566.9 288.3,566.5C288.3,566.0 288.2,565.4 288.4,565.1C288.6,564.7 289.1,564.6 289.4,564.4C289.8,564.2 290.1,564.0 290.5,563.8C290.8,563.6 291.1,563.4 291.5,563.2C291.8,563.0 292.1,562.8 292.5,562.7C292.8,562.5 293.1,562.3 293.5,562.1C293.8,562.0 294.3,562.0 294.6,562.0C295.0,562.0 295.4,561.9 295.7,561.9C296.1,561.8 296.5,561.8 296.8,561.7C297.2,561.7 297.6,561.6 297.9,561.6C298.3,561.5 298.6,561.5 299.0,561.5C299.4,561.4 299.7,561.4 300.1,561.4C300.5,561.4 300.8,561.5 301.2,561.5C301.6,561.6 301.9,561.7 302.3,561.7C302.7,561.8 303.0,561.8 303.4,561.9C303.8,561.9 304.2,562.0 304.6,562.0C305.0,562.1 305.4,562.2 305.7,562.3C306.1,562.5 306.4,562.7 306.7,563.0C307.1,563.2 307.4,563.4 307.7,563.6C308.0,563.8 308.4,564.0 308.7,564.3C309.0,564.6 309.2,565.0 309.3,565.4C309.4,565.8 309.4,566.2 309.5,566.7C309.5,567.1 309.6,567.5 309.6,567.9C309.7,568.2 309.7,568.6 309.8,569.0C309.8,569.3 309.9,569.7 309.9,570.0C310.0,570.4 310.0,570.7 310.0,571.1C309.9,571.4 309.8,571.8 309.8,572.1C309.7,572.4 309.7,572.8 309.6,573.1C309.6,573.4 309.5,573.7 309.5,574.0Z" fill="none" stroke="#555" stroke-width="0.5"/>
<path d="M307.6,574.0C307.6,574.3 307.5,574.5 307.5,574.7C307.5,575.0 307.4,575.2 307.4,575.5C307.3,575.7 307.3,576.0 307.3,576.2C307.2,576.5 307.2,576.7 307.1,577.0C307.1,577.2 307.0,577.5 306.9,577.7C306.8,577.9 306.7,578.2 306.6,578.4C306.5,578.6 306.4,578.9 306.3,579.1C306.2,579.4 306.1,579.6 306.0,579.9C305.9,580.1 305.8,580.4 305.7,580.7C305.5,580.9 305.4,581.2 305.3,581.5C305.1,581.8 305.0,582.0 304.7,582.2C304.5,582.4 304.2,582.4 303.9,582.5C303.7,582.6 303.4,582.8 303.1,582.9C302.9,583.0 302.6,583.1 302.3,583.2C302.1,583.3 301.8,583.4 301.6,583.5C301.3,583.6 301.0,583.7 300.7,583.7C300.4,583.8 300.1,583.7 299.9,583.7C299.6,583.7 299.3,583.7 299.0,583.7C298.7,583.7 298.4,583.7 298.1,583.7C297.9,583.7 297.6,583.7 297.3,583.7C297.0,583.7 296.7,583.8 296.4,583.7C296.1,583.7 295.8,583.7 295.5,583.6C295.2,583.6 295.0,583.3 294.7,583.2C294.5,583.0 294.2,582.9 294.0,582.7C293.7,582.5 293.4,582.4 293.2,582.2C293.0,582.0 292.9,581.7 292.7,581.5C292.6,581.2 292.5,580.9 292.4,580.6C292.3,580.3 292.2,580.1 292.1,579.8C292.0,579.5 291.9,579.3 291.8,579.0C291.7,578.8 291.6,578.5 291.5,578.3C291.5,578.1 291.4,577.8 291.3,577.6C291.2,577.4 291.1,577.1 291.0,576.9C290.9,576.7 290.9,576.4 290.9,576.2C290.8,575.9 290.8,575.7 290.7,575.5C290.7,575.2 290.7,575.0 290.6,574.7C290.6,574.5 290.5,574.2 290.5,574.0C290.4,573.8 290.4,573.5 290.4,573.2C290.3,573.0 290.3,572.7 290.2,572.5C290.2,572.2 290.1,571.9 290.1,571.6C290.0,571.3 290.0,571.0 289.9,570.7C289.9,570.4 290.0,570.1 290.0,569.8C290.0,569.5 290.0,569.2 290.1,568.8C290.1,568.5 290.1,568.2 290.2,567.8C290.2,567.4 290.1,566.9 290.3,566.7C290.4,566.4 290.8,566.3 291.1,566.1C291.4,565.9 291.7,565.8 292.0,565.6C292.2,565.5 292.5,565.3 292.8,565.1C293.1,565.0 293.3,564.8 293.6,564.7C293.9,564.5 294.1,564.3 294.4,564.2C294.7,564.1 295.1,564.2 295.4,564.1C295.7,564.1 296.0,564.0 296.3,564.0C296.6,564.0 296.9,563.9 297.2,563.9C297.5,563.9 297.8,563.8 298.1,563.8C298.4,563.7 298.7,563.7 299.0,563.7C299.3,563.6 299.6,563.6 299.9,563.6C300.2,563.6 300.5,563.7 300.8,563.7C301.1,563.8 301.4,563.8 301.7,563.9C302.0,563.9 302.3,564.0 302.6,564.0C303.0,564.1 303.3,564.1 303.6,564.1C303.9,564.2 304.3,564.2 304.6,564.4C304.9,564.5 305.1,564.7 305.4,564.9C305.6,565.1 305.9,565.3 306.2,565.5C306.4,565.6 306.8,565.8 307.0,566.0C307.2,566.2 307.4,566.6 307.5,566.9C307.6,567.2 307.6,567.6 307.6,568.0C307.7,568.3 307.7,568.6 307.8,568.9C307.8,569.3 307.8,569.6 307.9,569.9C307.9,570.2 308.0,570.4 308.0,570.7C308.0,571.0 308.0,571.3 308.0,571.6C308.0,571.9 307.9,572.2 307.9,572.4C307.8,572.7 307.8,573.0 307.8,573.2C307.7,573.5 307.7,573.7 307.6,574.0Z" fill="none" stroke="#555" stroke-width="0.5"/>
<path d="M305.8,574.0C305.7,574.2 305.7,574.4 305.7,574.6C305.6,574.8 305.6,575.0 305.6,575.2C305.6,575.4 305.5,575.5 305.5,575.7C305.5,575.9 305.4,576.1 305.4,576.3C305.3,576.5 305.3,576.7 305.2,576.9C305.2,577.1 305.1,577.3 305.0,577.5C304.9,577.6 304.8,577.8 304.7,578.0C304.7,578.2 304.6,578.4 304.5,578.6C304.4,578.8 304.3,579.0 304.2,579.2C304.1,579.4 304.1,579.7 303.9,579.9C303.8,580.1 303.7,580.3 303.5,580.4C303.3,580.6 303.1,580.6 302.9,580.7C302.7,580.8 302.5,580.9 302.2,581.0C302.0,581.0 301.8,581.1 301.6,581.2C301.4,581.3 301.2,581.4 301.0,581.5C300.8,581.6 300.6,581.6 300.3,581.7C300.1,581.7 299.9,581.7 299.7,581.7C299.4,581.7 299.2,581.7 299.0,581.7C298.8,581.7 298.6,581.7 298.3,581.7C298.1,581.7 297.9,581.7 297.7,581.7C297.4,581.7 297.2,581.7 296.9,581.7C296.7,581.6 296.5,581.7 296.2,581.6C296.0,581.5 295.8,581.3 295.6,581.2C295.4,581.1 295.2,581.0 295.1,580.8C294.9,580.7 294.6,580.6 294.5,580.5C294.3,580.3 294.2,580.1 294.1,579.9C294.0,579.7 293.9,579.4 293.8,579.2C293.7,579.0 293.7,578.8 293.6,578.5C293.5,578.3 293.4,578.1 293.4,578.0C293.3,577.8 293.2,577.6 293.1,577.4C293.1,577.2 293.0,577.0 292.9,576.8C292.9,576.6 292.8,576.5 292.7,576.3C292.7,576.1 292.6,575.9 292.6,575.7C292.6,575.5 292.5,575.3 292.5,575.1C292.5,575.0 292.4,574.8 292.4,574.6C292.4,574.4 292.3,574.2 292.3,574.0C292.3,573.8 292.2,573.6 292.2,573.4C292.2,573.2 292.1,573.0 292.1,572.8C292.1,572.6 292.0,572.4 292.0,572.1C292.0,571.9 291.9,571.6 291.9,571.4C291.9,571.2 291.9,570.9 291.9,570.7C291.9,570.5 292.0,570.2 292.0,570.0C292.0,569.7 292.0,569.4 292.1,569.1C292.1,568.9 292.0,568.5 292.1,568.2C292.3,568.0 292.6,567.9 292.8,567.8C293.0,567.7 293.3,567.5 293.5,567.4C293.7,567.3 293.9,567.2 294.1,567.0C294.3,566.9 294.5,566.8 294.8,566.7C295.0,566.5 295.2,566.4 295.4,566.3C295.7,566.3 295.9,566.3 296.2,566.2C296.4,566.2 296.7,566.2 296.9,566.1C297.1,566.1 297.4,566.1 297.6,566.1C297.8,566.0 298.1,566.0 298.3,566.0C298.5,565.9 298.8,565.9 299.0,565.9C299.2,565.9 299.5,565.8 299.7,565.8C300.0,565.9 300.2,565.9 300.4,565.9C300.7,566.0 300.9,566.0 301.1,566.0C301.4,566.1 301.6,566.1 301.9,566.1C302.1,566.2 302.4,566.2 302.6,566.3C302.9,566.3 303.1,566.3 303.4,566.4C303.6,566.5 303.8,566.7 304.0,566.9C304.2,567.0 304.4,567.1 304.6,567.3C304.8,567.4 305.1,567.5 305.3,567.7C305.5,567.9 305.6,568.2 305.7,568.4C305.7,568.7 305.7,569.0 305.8,569.3C305.8,569.5 305.8,569.8 305.9,570.0C305.9,570.3 305.9,570.5 306.0,570.7C306.0,571.0 306.0,571.2 306.1,571.4C306.1,571.7 306.1,571.9 306.1,572.1C306.1,572.3 306.0,572.6 306.0,572.8C305.9,573.0 305.9,573.2 305.9,573.4C305.8,573.6 305.8,573.8 305.8,574.0Z" fill="none" stroke="#555" stroke-width="0.5"/>
<path d="M301.5,544.5 L303.5,546.5" stroke="#111" stroke-width="1.2"/>
<ellipse cx="298.5" cy="569.5" rx="1.6" ry="1.2" fill="#aaa"/>
<ellipse cx="297.5" cy="574.5" rx="1.0" ry="1.6" fill="#777"/>
<ellipse cx="299" cy="580" rx="0.8" ry="1.2" fill="#666"/>
<rect x="246.4" y="508.2" width="82.60" height="82.50" fill="none" stroke="#444" stroke-width="1.1"/>
<line x1="245.20000000000002" y1="515.075" x2="246.4" y2="515.075" stroke="#333" stroke-width="0.8" />
<line x1="245.20000000000002" y1="521.95" x2="246.4" y2="521.95" stroke="#333" stroke-width="0.8" />
<line x1="244.4" y1="528.825" x2="246.4" y2="528.825" stroke="#333" stroke-width="0.8" />
<line x1="245.20000000000002" y1="535.7" x2="246.4" y2="535.7" stroke="#333" stroke-width="0.8" />
<line x1="245.20000000000002" y1="542.575" x2="246.4" y2="542.575" stroke="#333" stroke-width="0.8" />
<line x1="244.4" y1="549.45" x2="246.4" y2="549.45" stroke="#333" stroke-width="0.8" />
<line x1="245.20000000000002" y1="556.325" x2="246.4" y2="556.325" stroke="#333" stroke-width="0.8" />
<line x1="245.20000000000002" y1="563.2" x2="246.4" y2="563.2" stroke="#333" stroke-width="0.8" />
<line x1="244.4" y1="570.075" x2="246.4" y2="570.075" stroke="#333" stroke-width="0.8" />
<line x1="245.20000000000002" y1="576.95" x2="246.4" y2="576.95" stroke="#333" stroke-width="0.8" />
<line x1="245.20000000000002" y1="583.825" x2="246.4" y2="583.825" stroke="#333" stroke-width="0.8" />
<line x1="253.28333333333333" y1="590.7" x2="253.28333333333333" y2="591.9000000000001" stroke="#333" stroke-width="0.8" />
<line x1="260.1666666666667" y1="590.7" x2="260.1666666666667" y2="591.9000000000001" stroke="#333" stroke-width="0.8" />
<line x1="267.05" y1="590.7" x2="267.05" y2="592.7" stroke="#333" stroke-width="0.8" />
<line x1="273.93333333333334" y1="590.7" x2="273.93333333333334" y2="591.9000000000001" stroke="#333" stroke-width="0.8" />
<line x1="280.81666666666666" y1="590.7" x2="280.81666666666666" y2="591.9000000000001" stroke="#333" stroke-width="0.8" />
<line x1="287.7" y1="590.7" x2="287.7" y2="592.7" stroke="#333" stroke-width="0.8" />
<line x1="294.5833333333333" y1="590.7" x2="294.5833333333333" y2="591.9000000000001" stroke="#333" stroke-width="0.8" />
<line x1="301.4666666666667" y1="590.7" x2="301.4666666666667" y2="591.9000000000001" stroke="#333" stroke-width="0.8" />
<line x1="308.35" y1="590.7" x2="308.35" y2="592.7" stroke="#333" stroke-width="0.8" />
<line x1="315.23333333333335" y1="590.7" x2="315.23333333333335" y2="591.9000000000001" stroke="#333" stroke-width="0.8" />
<line x1="322.1166666666667" y1="590.7" x2="322.1166666666667" y2="591.9000000000001" stroke="#333" stroke-width="0.8" />
<text x="258.8" y="503.8" font-size="8.9" font-weight="normal" font-style="normal" fill="#000" stroke="#000" stroke-width="0.35" text-anchor="start" >Act-Naive</text>
<text x="247.5" y="519" font-size="9" font-weight="normal" font-style="normal" fill="#3c3c88" stroke="#3c3c88" stroke-width="0.35" text-anchor="start" >0.1</text>
<text x="326.3" y="519" font-size="9" font-weight="normal" font-style="normal" fill="#3c3c88" stroke="#3c3c88" stroke-width="0.35" text-anchor="end" >5.0</text>
<text x="249.5" y="588.8" font-size="9" font-weight="normal" font-style="normal" fill="#3c3c88" stroke="#3c3c88" stroke-width="0.35" text-anchor="start" >5.4</text>
<text x="326.3" y="588.8" font-size="9" font-weight="normal" font-style="normal" fill="#3c3c88" stroke="#3c3c88" stroke-width="0.35" text-anchor="end" >89</text>
<line x1="370.1" y1="508.5" x2="370.1" y2="590.7" stroke="#7078aa" stroke-width="1" />
<line x1="338.7" y1="559.9" x2="421.5" y2="559.9" stroke="#7078aa" stroke-width="1" />
<path d="M412.3,574.0C412.2,574.4 412.2,574.8 412.1,575.2C412.1,575.6 412.0,576.1 412.0,576.5C411.9,576.9 411.8,577.3 411.8,577.7C411.7,578.1 411.7,578.5 411.6,579.0C411.6,579.4 411.5,579.8 411.4,580.3C411.4,580.7 411.4,581.2 411.2,581.6C411.1,582.1 410.8,582.4 410.6,582.8C410.4,583.2 410.2,583.6 409.9,584.0C409.7,584.4 409.4,584.8 409.2,585.2C408.9,585.6 408.7,586.0 408.4,586.4C408.2,586.9 407.9,587.3 407.6,587.8C407.3,588.2 407.1,588.8 406.8,589.2C406.4,589.5 405.9,589.6 405.4,589.8C404.9,589.9 404.3,590.0 403.8,590.1C403.3,590.1 402.9,590.2 402.4,590.3C401.9,590.4 401.4,590.5 400.9,590.6C400.4,590.7 400.0,590.7 399.5,590.8C399.0,590.9 398.5,591.0 398.0,591.1C397.5,591.1 397.0,591.2 396.5,591.1C396.0,591.1 395.5,591.1 395.0,591.0C394.5,591.0 394.0,591.0 393.5,591.0C392.9,590.9 392.4,590.9 391.9,590.8C391.3,590.8 390.8,590.8 390.2,590.7C389.6,590.7 389.0,590.7 388.4,590.6C387.8,590.6 387.1,590.6 386.5,590.5C385.8,590.4 385.1,590.3 384.5,590.0C384.0,589.8 383.6,589.3 383.1,588.9C382.6,588.6 382.1,588.2 381.5,587.8C381.0,587.4 380.5,587.0 380.0,586.6C379.4,586.2 378.9,585.8 378.3,585.4C377.7,584.9 377.3,584.4 376.5,584.0C375.7,583.6 374.7,583.3 373.2,583.0C371.8,582.7 369.9,582.5 368.1,582.0C366.3,581.6 364.2,581.0 362.5,580.3C360.8,579.5 359.0,578.6 357.9,577.5C356.7,576.5 355.8,575.2 355.4,574.0C355.1,572.8 355.4,571.5 355.8,570.3C356.2,569.1 356.7,567.9 358.0,566.9C359.3,566.0 361.5,565.3 363.5,564.7C365.4,564.2 367.9,564.0 369.8,563.7C371.6,563.4 373.2,563.3 374.5,563.1C375.9,562.9 377.1,562.7 378.0,562.5C379.0,562.3 379.7,562.0 380.5,561.7C381.3,561.5 382.0,561.3 382.6,561.1C383.3,560.9 384.0,560.8 384.5,560.5C385.1,560.3 385.5,560.0 386.0,559.7C386.4,559.4 386.9,559.0 387.3,558.7C387.7,558.4 388.2,558.1 388.6,557.7C389.0,557.4 389.5,557.1 389.9,556.7C390.4,556.4 390.9,556.0 391.4,555.8C391.9,555.5 392.5,555.5 393.0,555.3C393.5,555.2 394.1,555.0 394.6,554.9C395.2,554.8 395.7,554.6 396.3,554.5C396.9,554.4 397.4,554.3 398.0,554.3C398.6,554.3 399.1,554.5 399.7,554.6C400.3,554.7 400.8,554.8 401.4,554.9C401.9,555.0 402.5,555.1 403.0,555.2C403.6,555.3 404.2,555.4 404.7,555.5C405.3,555.6 406.0,555.5 406.5,555.8C407.0,556.1 407.4,556.6 407.8,557.1C408.2,557.5 408.6,557.9 409.0,558.3C409.4,558.7 409.8,559.0 410.2,559.4C410.6,559.9 411.0,560.2 411.2,560.8C411.5,561.3 411.4,562.1 411.5,562.7C411.6,563.3 411.7,563.8 411.8,564.4C411.8,564.9 411.9,565.4 412.0,565.9C412.0,566.4 412.1,566.9 412.2,567.4C412.2,567.9 412.3,568.3 412.4,568.8C412.4,569.2 412.5,569.7 412.5,570.1C412.6,570.5 412.7,571.0 412.7,571.4C412.7,571.9 412.5,572.3 412.5,572.7C412.4,573.2 412.4,573.6 412.3,574.0Z" fill="none" stroke="#151515" stroke-width="0.9"/>
<path d="M411.3,574.0C411.2,574.4 411.1,574.8 411.1,575.1C411.0,575.5 410.9,575.9 410.9,576.3C410.8,576.6 410.7,577.0 410.6,577.4C410.6,577.8 410.5,578.1 410.4,578.5C410.4,578.9 410.3,579.3 410.2,579.7C410.1,580.1 410.1,580.5 410.0,580.9C409.9,581.3 409.7,581.7 409.5,582.1C409.4,582.5 409.2,582.8 409.0,583.2C408.7,583.6 408.5,583.9 408.2,584.2C408.0,584.6 407.7,584.9 407.5,585.3C407.2,585.6 406.9,586.0 406.7,586.4C406.4,586.8 406.2,587.3 405.8,587.6C405.5,587.9 405.1,588.1 404.7,588.3C404.3,588.6 403.9,588.8 403.4,588.9C403.0,589.0 402.5,589.1 402.1,589.1C401.6,589.2 401.2,589.3 400.7,589.4C400.3,589.4 399.8,589.5 399.4,589.6C398.9,589.6 398.5,589.7 398.0,589.8C397.5,589.8 397.1,589.9 396.6,589.9C396.1,589.9 395.7,589.9 395.2,589.8C394.8,589.7 394.3,589.6 393.8,589.5C393.4,589.4 392.9,589.3 392.4,589.3C392.0,589.2 391.5,589.1 391.0,589.0C390.5,588.9 390.0,588.8 389.5,588.7C389.0,588.6 388.4,588.5 388.0,588.3C387.5,588.1 387.0,587.8 386.6,587.5C386.2,587.2 385.9,586.8 385.6,586.4C385.2,586.0 384.9,585.7 384.5,585.3C384.2,585.0 383.8,584.6 383.4,584.2C383.0,583.8 382.7,583.5 382.3,583.1C381.9,582.7 381.6,582.3 381.1,581.9C380.5,581.5 380.0,581.2 379.2,580.9C378.4,580.5 377.3,580.2 376.3,579.8C375.3,579.4 374.1,579.0 373.2,578.4C372.2,577.8 371.2,577.1 370.6,576.4C369.9,575.7 369.4,574.8 369.2,574.0C369.0,573.2 369.1,572.3 369.3,571.5C369.5,570.7 369.8,569.8 370.5,569.1C371.2,568.5 372.3,567.9 373.4,567.4C374.5,566.9 375.9,566.7 376.9,566.3C377.9,566.0 378.8,565.7 379.6,565.4C380.4,565.1 381.1,564.9 381.7,564.6C382.3,564.3 382.7,563.9 383.1,563.6C383.6,563.3 384.0,563.0 384.5,562.6C384.9,562.3 385.2,561.9 385.6,561.6C386.1,561.4 386.6,561.2 387.0,560.9C387.5,560.7 387.9,560.4 388.3,560.2C388.7,559.9 389.1,559.7 389.6,559.4C390.0,559.1 390.4,558.9 390.8,558.6C391.3,558.4 391.7,558.1 392.1,557.9C392.6,557.7 393.1,557.7 393.6,557.6C394.1,557.5 394.6,557.4 395.1,557.3C395.5,557.2 396.0,557.1 396.5,557.1C397.0,557.0 397.5,556.9 398.0,556.9C398.5,556.9 399.0,557.0 399.5,557.1C400.0,557.1 400.5,557.2 401.0,557.3C401.4,557.4 401.9,557.5 402.4,557.6C402.9,557.7 403.4,557.8 403.8,557.9C404.3,558.0 404.9,558.1 405.3,558.3C405.8,558.5 406.2,558.8 406.6,559.1C407.0,559.4 407.4,559.7 407.8,560.1C408.1,560.4 408.4,560.8 408.8,561.2C409.1,561.6 409.4,561.9 409.7,562.3C409.9,562.8 410.0,563.3 410.1,563.8C410.3,564.3 410.4,564.8 410.5,565.2C410.6,565.7 410.7,566.2 410.7,566.7C410.8,567.1 410.8,567.6 410.9,568.0C411.0,568.4 411.0,568.8 411.1,569.2C411.1,569.7 411.2,570.1 411.2,570.5C411.3,570.9 411.3,571.2 411.4,571.6C411.4,572.0 411.3,572.4 411.3,572.8C411.3,573.2 411.3,573.6 411.3,574.0Z" fill="none" stroke="#151515" stroke-width="0.9"/>
<path d="M410.6,574.0C410.5,574.4 410.4,574.7 410.3,575.1C410.3,575.4 410.2,575.8 410.1,576.1C410.0,576.5 410.0,576.8 409.9,577.2C409.8,577.5 409.7,577.9 409.7,578.2C409.6,578.6 409.5,579.0 409.4,579.3C409.3,579.7 409.3,580.1 409.2,580.5C409.1,580.8 409.0,581.2 408.8,581.6C408.7,581.9 408.5,582.3 408.3,582.7C408.1,583.0 407.8,583.3 407.6,583.6C407.3,583.9 407.1,584.2 406.8,584.5C406.6,584.8 406.3,585.2 406.0,585.5C405.8,585.8 405.5,586.2 405.2,586.5C404.9,586.8 404.6,587.1 404.2,587.4C403.9,587.6 403.5,588.0 403.1,588.1C402.8,588.3 402.3,588.3 401.8,588.3C401.4,588.4 401.0,588.5 400.6,588.5C400.1,588.6 399.7,588.7 399.3,588.7C398.9,588.8 398.4,588.9 398.0,588.9C397.6,589.0 397.1,589.1 396.7,589.1C396.2,589.1 395.8,589.1 395.4,589.0C394.9,588.9 394.5,588.7 394.1,588.6C393.7,588.5 393.3,588.3 392.8,588.2C392.4,588.1 392.0,587.9 391.6,587.8C391.1,587.7 390.7,587.6 390.2,587.4C389.8,587.3 389.4,587.1 389.0,586.9C388.6,586.6 388.3,586.2 388.1,585.9C387.8,585.5 387.5,585.1 387.3,584.7C387.0,584.4 386.7,584.0 386.5,583.7C386.2,583.3 386.0,583.0 385.7,582.6C385.5,582.3 385.2,581.9 384.9,581.5C384.7,581.2 384.4,580.8 384.1,580.5C383.8,580.1 383.5,579.8 383.1,579.4C382.7,579.1 382.2,578.7 381.7,578.4C381.3,578.0 380.7,577.6 380.3,577.1C379.8,576.7 379.3,576.2 379.0,575.7C378.7,575.1 378.4,574.6 378.3,574.0C378.2,573.4 378.2,572.8 378.3,572.3C378.4,571.7 378.5,571.1 378.8,570.6C379.1,570.1 379.6,569.6 380.0,569.2C380.5,568.8 381.2,568.4 381.7,568.0C382.1,567.7 382.6,567.4 383.0,567.0C383.4,566.7 383.8,566.3 384.1,566.0C384.4,565.6 384.7,565.2 384.9,564.8C385.2,564.5 385.4,564.1 385.7,563.7C385.9,563.2 386.0,562.7 386.4,562.4C386.7,562.1 387.3,562.0 387.7,561.8C388.2,561.5 388.6,561.3 389.0,561.1C389.4,560.9 389.8,560.7 390.2,560.5C390.6,560.3 391.0,560.1 391.4,559.9C391.8,559.7 392.2,559.4 392.7,559.3C393.1,559.2 393.6,559.2 394.0,559.1C394.5,559.1 394.9,559.0 395.3,559.0C395.8,558.9 396.2,558.8 396.7,558.8C397.1,558.7 397.6,558.7 398.0,558.7C398.4,558.7 398.9,558.7 399.3,558.7C399.8,558.7 400.2,558.8 400.7,558.8C401.1,558.9 401.5,559.1 402.0,559.2C402.4,559.3 402.8,559.4 403.3,559.6C403.7,559.7 404.1,559.8 404.6,559.9C405.0,560.1 405.4,560.3 405.8,560.5C406.2,560.8 406.6,561.0 406.9,561.3C407.2,561.6 407.5,562.0 407.8,562.3C408.1,562.7 408.4,563.0 408.6,563.4C408.8,563.8 409.0,564.2 409.2,564.6C409.4,565.0 409.6,565.4 409.7,565.8C409.8,566.2 409.8,566.7 409.9,567.1C409.9,567.6 410.0,568.0 410.0,568.4C410.1,568.8 410.1,569.2 410.2,569.6C410.2,569.9 410.3,570.3 410.3,570.7C410.4,571.1 410.4,571.4 410.5,571.8C410.5,572.2 410.5,572.5 410.5,572.9C410.5,573.3 410.6,573.6 410.6,574.0Z" fill="none" stroke="#151515" stroke-width="0.9"/>
<path d="M410.2,574.0C410.2,574.4 410.1,574.7 410.0,575.0C409.9,575.4 409.8,575.7 409.7,576.1C409.7,576.4 409.6,576.7 409.5,577.1C409.4,577.4 409.3,577.8 409.3,578.1C409.2,578.4 409.1,578.8 409.0,579.1C408.9,579.5 408.9,579.8 408.8,580.2C408.7,580.6 408.6,581.0 408.5,581.3C408.3,581.7 408.2,582.1 408.0,582.4C407.8,582.7 407.5,583.0 407.3,583.3C407.0,583.6 406.8,583.8 406.5,584.1C406.2,584.4 406.0,584.7 405.7,585.0C405.5,585.3 405.2,585.7 404.9,586.0C404.6,586.3 404.3,586.6 404.0,586.9C403.7,587.2 403.4,587.6 403.0,587.8C402.6,587.9 402.2,587.9 401.7,588.0C401.3,588.0 400.9,588.1 400.5,588.1C400.1,588.2 399.7,588.3 399.3,588.3C398.8,588.4 398.4,588.4 398.0,588.5C397.6,588.6 397.1,588.7 396.7,588.7C396.3,588.7 395.8,588.7 395.4,588.6C395.0,588.5 394.6,588.3 394.2,588.1C393.8,588.0 393.4,587.8 393.0,587.7C392.6,587.5 392.2,587.4 391.8,587.2C391.4,587.1 391.0,587.0 390.6,586.8C390.2,586.6 389.8,586.4 389.5,586.1C389.2,585.9 389.0,585.4 388.8,585.0C388.5,584.6 388.3,584.3 388.1,583.9C387.9,583.5 387.7,583.2 387.5,582.8C387.3,582.5 387.1,582.1 386.9,581.8C386.7,581.5 386.5,581.1 386.3,580.8C386.0,580.4 385.8,580.1 385.6,579.8C385.4,579.4 385.3,579.1 385.1,578.7C384.9,578.3 384.7,578.0 384.5,577.6C384.3,577.3 384.0,576.9 383.8,576.5C383.6,576.1 383.4,575.7 383.2,575.3C383.1,574.9 383.0,574.4 382.9,574.0C382.8,573.6 382.8,573.1 382.8,572.7C382.8,572.2 382.8,571.8 382.9,571.3C383.0,570.9 383.2,570.5 383.4,570.1C383.5,569.7 383.8,569.3 384.0,568.9C384.3,568.5 384.5,568.2 384.7,567.8C384.9,567.4 385.1,567.1 385.3,566.7C385.5,566.3 385.6,565.9 385.8,565.5C386.0,565.0 386.1,564.6 386.3,564.2C386.4,563.7 386.5,563.1 386.8,562.8C387.1,562.4 387.6,562.4 388.1,562.2C388.5,562.0 388.9,561.8 389.3,561.6C389.7,561.4 390.1,561.2 390.5,561.1C390.9,560.9 391.3,560.7 391.7,560.5C392.1,560.4 392.5,560.1 392.9,560.0C393.3,559.9 393.8,559.9 394.2,559.9C394.7,559.9 395.1,559.8 395.5,559.8C395.9,559.7 396.3,559.7 396.7,559.7C397.2,559.6 397.6,559.6 398.0,559.6C398.4,559.5 398.8,559.5 399.3,559.5C399.7,559.5 400.1,559.5 400.5,559.6C400.9,559.7 401.3,559.9 401.8,560.0C402.2,560.1 402.6,560.3 403.0,560.4C403.4,560.5 403.8,560.6 404.2,560.8C404.6,560.9 405.0,561.0 405.4,561.2C405.8,561.4 406.2,561.6 406.5,561.9C406.8,562.2 407.0,562.6 407.3,562.9C407.6,563.3 407.8,563.6 408.1,563.9C408.3,564.3 408.5,564.6 408.7,565.0C408.9,565.3 409.2,565.7 409.3,566.1C409.4,566.5 409.4,567.0 409.5,567.4C409.5,567.8 409.6,568.2 409.6,568.6C409.7,569.0 409.7,569.3 409.8,569.7C409.8,570.1 409.9,570.5 409.9,570.8C409.9,571.2 410.0,571.5 410.0,571.9C410.1,572.2 410.1,572.6 410.1,572.9C410.2,573.3 410.3,573.6 410.2,574.0Z" fill="none" stroke="#151515" stroke-width="0.9"/>
<path d="M410.0,574.0C410.0,574.3 409.8,574.7 409.7,575.0C409.7,575.4 409.6,575.7 409.5,576.0C409.4,576.4 409.3,576.7 409.2,577.0C409.2,577.3 409.1,577.7 409.0,578.0C408.9,578.3 408.8,578.7 408.7,579.0C408.7,579.4 408.6,579.7 408.5,580.1C408.4,580.4 408.3,580.8 408.2,581.2C408.1,581.5 408.0,581.9 407.8,582.2C407.6,582.5 407.3,582.8 407.0,583.0C406.8,583.3 406.5,583.6 406.3,583.9C406.0,584.2 405.8,584.4 405.5,584.7C405.3,585.0 405.0,585.3 404.7,585.6C404.4,585.9 404.2,586.2 403.9,586.6C403.6,586.9 403.3,587.3 402.9,587.5C402.6,587.7 402.1,587.6 401.7,587.7C401.3,587.7 400.9,587.8 400.4,587.9C400.0,587.9 399.6,588.0 399.2,588.0C398.8,588.1 398.4,588.2 398.0,588.2C397.6,588.3 397.2,588.4 396.7,588.4C396.3,588.4 395.9,588.4 395.5,588.3C395.1,588.2 394.7,588.0 394.3,587.8C393.9,587.6 393.5,587.5 393.2,587.3C392.8,587.2 392.4,587.0 392.0,586.8C391.6,586.7 391.2,586.6 390.9,586.4C390.5,586.2 390.1,586.0 389.8,585.7C389.6,585.3 389.4,584.8 389.2,584.5C389.0,584.1 388.8,583.7 388.7,583.3C388.5,583.0 388.3,582.6 388.1,582.3C388.0,581.9 387.8,581.6 387.6,581.3C387.5,580.9 387.3,580.6 387.1,580.3C387.0,579.9 386.8,579.6 386.6,579.3C386.5,579.0 386.5,578.6 386.4,578.2C386.4,577.9 386.3,577.5 386.3,577.1C386.3,576.8 386.2,576.4 386.2,576.1C386.1,575.7 386.1,575.4 386.1,575.0C386.0,574.7 386.0,574.4 385.9,574.0C385.9,573.6 385.9,573.3 385.8,572.9C385.8,572.6 385.7,572.2 385.7,571.8C385.7,571.5 385.6,571.1 385.6,570.7C385.6,570.3 385.6,569.9 385.6,569.5C385.7,569.1 385.8,568.7 385.9,568.3C385.9,567.9 386.0,567.5 386.1,567.1C386.2,566.7 386.3,566.3 386.4,565.9C386.5,565.4 386.6,565.0 386.7,564.5C386.8,564.0 386.7,563.3 387.0,563.0C387.3,562.7 387.9,562.6 388.3,562.5C388.7,562.3 389.1,562.1 389.6,561.9C390.0,561.8 390.4,561.6 390.7,561.4C391.1,561.3 391.5,561.1 391.9,561.0C392.3,560.8 392.7,560.6 393.1,560.5C393.5,560.4 393.9,560.4 394.4,560.4C394.8,560.4 395.2,560.3 395.6,560.3C396.0,560.3 396.4,560.3 396.8,560.2C397.2,560.2 397.6,560.2 398.0,560.1C398.4,560.1 398.8,560.1 399.2,560.1C399.6,560.1 400.0,560.1 400.4,560.1C400.8,560.2 401.2,560.4 401.6,560.5C402.0,560.7 402.4,560.8 402.8,560.9C403.1,561.0 403.5,561.2 403.9,561.3C404.3,561.4 404.7,561.5 405.1,561.7C405.5,561.9 405.9,562.0 406.2,562.3C406.5,562.5 406.7,563.0 407.0,563.3C407.2,563.6 407.5,564.0 407.7,564.3C408.0,564.6 408.2,564.9 408.4,565.2C408.7,565.6 408.9,565.9 409.0,566.3C409.2,566.7 409.1,567.1 409.2,567.5C409.2,567.9 409.3,568.3 409.3,568.7C409.4,569.1 409.4,569.5 409.5,569.8C409.5,570.2 409.6,570.5 409.6,570.9C409.7,571.2 409.7,571.6 409.7,571.9C409.8,572.3 409.8,572.6 409.9,573.0C409.9,573.3 410.0,573.7 410.0,574.0Z" fill="none" stroke="#151515" stroke-width="0.9"/>
<path d="M409.5,574.0C409.5,574.3 409.4,574.7 409.3,575.0C409.2,575.3 409.1,575.6 409.0,575.9C409.0,576.3 408.9,576.6 408.8,576.9C408.7,577.2 408.6,577.5 408.6,577.8C408.5,578.2 408.4,578.5 408.3,578.8C408.2,579.1 408.2,579.5 408.1,579.8C408.0,580.2 407.9,580.5 407.8,580.9C407.7,581.2 407.6,581.6 407.4,581.9C407.2,582.2 406.9,582.4 406.7,582.7C406.4,583.0 406.2,583.2 406.0,583.5C405.7,583.8 405.5,584.0 405.2,584.3C405.0,584.6 404.7,584.9 404.4,585.2C404.2,585.4 403.9,585.8 403.6,586.1C403.3,586.4 403.1,586.8 402.7,587.0C402.4,587.2 401.9,587.1 401.5,587.1C401.1,587.2 400.7,587.3 400.3,587.3C400.0,587.4 399.6,587.4 399.2,587.5C398.8,587.5 398.4,587.6 398.0,587.6C397.6,587.7 397.2,587.8 396.8,587.8C396.4,587.8 396.0,587.8 395.6,587.7C395.2,587.6 394.8,587.4 394.5,587.2C394.1,587.1 393.7,586.9 393.3,586.8C393.0,586.6 392.6,586.5 392.3,586.3C391.9,586.2 391.5,586.1 391.1,585.9C390.8,585.7 390.4,585.5 390.2,585.2C389.9,584.9 389.8,584.4 389.6,584.0C389.4,583.7 389.2,583.3 389.0,583.0C388.9,582.6 388.7,582.3 388.5,581.9C388.4,581.6 388.2,581.3 388.0,581.0C387.9,580.6 387.7,580.3 387.6,580.0C387.4,579.7 387.2,579.4 387.1,579.1C387.0,578.8 386.9,578.4 386.9,578.0C386.8,577.7 386.8,577.4 386.8,577.0C386.7,576.7 386.7,576.3 386.6,576.0C386.6,575.7 386.6,575.3 386.5,575.0C386.5,574.7 386.5,574.3 386.4,574.0C386.4,573.7 386.4,573.3 386.3,573.0C386.3,572.6 386.2,572.3 386.2,571.9C386.2,571.6 386.1,571.2 386.1,570.8C386.1,570.4 386.1,570.0 386.1,569.7C386.1,569.3 386.3,568.9 386.3,568.6C386.4,568.2 386.5,567.8 386.6,567.4C386.7,567.0 386.8,566.6 386.9,566.2C386.9,565.8 387.0,565.3 387.1,564.9C387.2,564.4 387.2,563.8 387.4,563.4C387.7,563.1 388.3,563.1 388.7,562.9C389.1,562.7 389.5,562.6 389.9,562.4C390.3,562.3 390.7,562.1 391.0,561.9C391.4,561.8 391.8,561.6 392.2,561.5C392.5,561.3 392.9,561.1 393.3,561.0C393.7,560.9 394.1,561.0 394.5,560.9C394.9,560.9 395.3,560.9 395.7,560.9C396.1,560.8 396.5,560.8 396.8,560.8C397.2,560.8 397.6,560.7 398.0,560.7C398.4,560.7 398.8,560.6 399.2,560.6C399.6,560.6 400.0,560.6 400.3,560.7C400.7,560.8 401.1,561.0 401.5,561.1C401.8,561.2 402.2,561.3 402.6,561.4C402.9,561.6 403.3,561.7 403.7,561.8C404.1,561.9 404.5,562.0 404.8,562.2C405.2,562.3 405.6,562.5 405.9,562.7C406.2,563.0 406.4,563.4 406.6,563.7C406.9,564.1 407.1,564.4 407.3,564.7C407.6,565.0 407.8,565.3 408.0,565.6C408.2,565.9 408.5,566.2 408.6,566.6C408.7,566.9 408.7,567.4 408.7,567.8C408.8,568.2 408.8,568.6 408.9,568.9C408.9,569.3 409.0,569.6 409.0,570.0C409.1,570.3 409.1,570.7 409.1,571.0C409.2,571.4 409.2,571.7 409.3,572.0C409.3,572.3 409.4,572.7 409.4,573.0C409.4,573.3 409.5,573.7 409.5,574.0Z" fill="#161616" stroke="#111" stroke-width="0.9"/>
<path d="M407.8,574.0C407.8,574.3 407.7,574.6 407.6,574.8C407.5,575.1 407.4,575.4 407.4,575.7C407.3,575.9 407.2,576.2 407.2,576.5C407.1,576.7 407.0,577.0 407.0,577.3C406.9,577.5 406.8,577.8 406.8,578.1C406.7,578.4 406.6,578.6 406.6,578.9C406.5,579.2 406.4,579.5 406.3,579.8C406.2,580.1 406.2,580.5 406.0,580.7C405.8,581.0 405.6,581.2 405.4,581.4C405.2,581.6 405.0,581.8 404.8,582.1C404.6,582.3 404.3,582.5 404.1,582.8C403.9,583.0 403.7,583.2 403.5,583.5C403.2,583.7 403.0,584.0 402.8,584.2C402.5,584.5 402.3,584.9 402.0,585.0C401.7,585.2 401.3,585.1 401.0,585.2C400.7,585.2 400.3,585.3 400.0,585.3C399.7,585.4 399.3,585.4 399.0,585.5C398.7,585.5 398.3,585.6 398.0,585.6C397.7,585.6 397.3,585.7 397.0,585.7C396.6,585.8 396.3,585.7 395.9,585.7C395.6,585.6 395.3,585.4 395.0,585.3C394.7,585.1 394.4,585.0 394.0,584.9C393.7,584.7 393.4,584.6 393.1,584.5C392.8,584.3 392.5,584.2 392.2,584.1C391.9,583.9 391.6,583.8 391.3,583.5C391.1,583.3 391.0,582.8 390.8,582.5C390.7,582.2 390.5,581.9 390.4,581.6C390.2,581.3 390.1,581.0 390.0,580.8C389.8,580.5 389.7,580.2 389.5,579.9C389.4,579.7 389.3,579.4 389.1,579.1C389.0,578.9 388.8,578.6 388.7,578.3C388.6,578.0 388.6,577.7 388.5,577.4C388.5,577.1 388.5,576.8 388.4,576.6C388.4,576.3 388.4,576.0 388.4,575.7C388.3,575.4 388.3,575.1 388.3,574.9C388.2,574.6 388.2,574.3 388.2,574.0C388.1,573.7 388.1,573.4 388.1,573.1C388.0,572.8 388.0,572.5 388.0,572.2C387.9,571.9 387.9,571.6 387.9,571.3C387.8,571.0 387.9,570.6 387.9,570.3C387.9,570.0 388.0,569.7 388.1,569.4C388.2,569.1 388.2,568.7 388.3,568.4C388.4,568.1 388.4,567.7 388.5,567.4C388.6,567.0 388.7,566.6 388.8,566.2C388.8,565.9 388.8,565.3 389.0,565.0C389.2,564.7 389.7,564.7 390.1,564.6C390.4,564.4 390.8,564.3 391.1,564.2C391.4,564.0 391.8,563.9 392.1,563.7C392.4,563.6 392.7,563.5 393.0,563.4C393.4,563.2 393.7,563.1 394.0,563.0C394.3,562.9 394.7,562.9 395.0,562.9C395.4,562.9 395.7,562.9 396.0,562.8C396.4,562.8 396.7,562.8 397.0,562.8C397.3,562.7 397.7,562.7 398.0,562.7C398.3,562.7 398.7,562.6 399.0,562.6C399.3,562.6 399.7,562.6 400.0,562.7C400.3,562.8 400.6,562.9 400.9,563.0C401.3,563.1 401.6,563.2 401.9,563.3C402.2,563.4 402.5,563.5 402.8,563.6C403.1,563.7 403.5,563.8 403.8,564.0C404.1,564.1 404.4,564.2 404.7,564.4C405.0,564.7 405.1,565.0 405.3,565.3C405.5,565.5 405.7,565.8 405.9,566.1C406.1,566.3 406.3,566.6 406.5,566.9C406.7,567.1 406.9,567.4 407.0,567.7C407.1,568.0 407.1,568.4 407.1,568.7C407.2,569.1 407.2,569.4 407.3,569.7C407.3,570.0 407.3,570.3 407.4,570.6C407.4,570.9 407.4,571.2 407.5,571.5C407.5,571.7 407.5,572.0 407.6,572.3C407.6,572.6 407.7,572.9 407.7,573.2C407.7,573.4 407.8,573.7 407.8,574.0Z" fill="none" stroke="#555" stroke-width="0.5"/>
<path d="M406.1,574.0C406.0,574.2 405.9,574.5 405.9,574.7C405.8,574.9 405.8,575.1 405.7,575.4C405.7,575.6 405.6,575.8 405.6,576.0C405.5,576.2 405.4,576.5 405.4,576.7C405.3,576.9 405.3,577.1 405.2,577.4C405.2,577.6 405.1,577.8 405.0,578.1C405.0,578.3 404.9,578.6 404.9,578.8C404.8,579.0 404.7,579.3 404.6,579.5C404.5,579.7 404.2,579.9 404.1,580.1C403.9,580.3 403.7,580.5 403.6,580.6C403.4,580.8 403.2,581.0 403.1,581.2C402.9,581.4 402.7,581.6 402.5,581.8C402.3,582.0 402.1,582.2 401.9,582.4C401.7,582.7 401.5,583.0 401.3,583.1C401.1,583.2 400.7,583.2 400.5,583.2C400.2,583.2 399.9,583.3 399.6,583.3C399.4,583.4 399.1,583.4 398.8,583.4C398.6,583.5 398.3,583.5 398.0,583.6C397.7,583.6 397.4,583.7 397.2,583.7C396.9,583.7 396.6,583.7 396.3,583.6C396.0,583.5 395.8,583.4 395.5,583.3C395.3,583.2 395.0,583.1 394.7,582.9C394.5,582.8 394.2,582.7 394.0,582.6C393.7,582.5 393.4,582.4 393.2,582.3C393.0,582.2 392.7,582.1 392.5,581.8C392.3,581.6 392.2,581.3 392.1,581.0C392.0,580.8 391.9,580.5 391.7,580.3C391.6,580.0 391.5,579.8 391.4,579.6C391.3,579.3 391.1,579.1 391.0,578.9C390.9,578.7 390.8,578.4 390.7,578.2C390.6,578.0 390.5,577.8 390.4,577.6C390.3,577.3 390.3,577.1 390.2,576.8C390.2,576.6 390.2,576.3 390.1,576.1C390.1,575.9 390.1,575.6 390.1,575.4C390.0,575.2 390.0,574.9 390.0,574.7C390.0,574.5 389.9,574.2 389.9,574.0C389.9,573.8 389.8,573.5 389.8,573.3C389.8,573.0 389.8,572.8 389.7,572.5C389.7,572.3 389.7,572.0 389.7,571.8C389.6,571.5 389.6,571.2 389.7,571.0C389.7,570.7 389.8,570.5 389.8,570.2C389.9,569.9 390.0,569.7 390.0,569.4C390.1,569.1 390.1,568.8 390.2,568.5C390.3,568.2 390.3,567.9 390.4,567.6C390.5,567.3 390.4,566.8 390.6,566.6C390.8,566.4 391.2,566.4 391.5,566.2C391.8,566.1 392.1,566.0 392.3,565.9C392.6,565.8 392.9,565.7 393.1,565.6C393.4,565.4 393.6,565.3 393.9,565.2C394.2,565.1 394.4,565.0 394.7,564.9C395.0,564.9 395.3,564.9 395.6,564.9C395.8,564.8 396.1,564.8 396.4,564.8C396.7,564.8 396.9,564.8 397.2,564.7C397.5,564.7 397.7,564.7 398.0,564.7C398.3,564.7 398.5,564.6 398.8,564.6C399.1,564.6 399.4,564.6 399.6,564.7C399.9,564.7 400.2,564.9 400.4,565.0C400.7,565.0 400.9,565.1 401.2,565.2C401.5,565.3 401.7,565.4 402.0,565.5C402.2,565.6 402.5,565.6 402.8,565.7C403.0,565.8 403.3,565.9 403.5,566.1C403.7,566.3 403.9,566.6 404.0,566.8C404.2,567.0 404.4,567.3 404.5,567.5C404.7,567.7 404.9,567.9 405.0,568.1C405.2,568.3 405.3,568.6 405.4,568.8C405.5,569.1 405.5,569.4 405.5,569.7C405.6,569.9 405.6,570.2 405.6,570.4C405.7,570.7 405.7,570.9 405.7,571.2C405.7,571.4 405.8,571.7 405.8,571.9C405.8,572.1 405.9,572.4 405.9,572.6C405.9,572.8 405.9,573.1 406.0,573.3C406.0,573.5 406.1,573.8 406.1,574.0Z" fill="none" stroke="#555" stroke-width="0.5"/>
<path d="M404.3,574.0C404.3,574.2 404.2,574.4 404.2,574.5C404.2,574.7 404.1,574.9 404.1,575.1C404.0,575.2 404.0,575.4 403.9,575.6C403.9,575.8 403.9,575.9 403.8,576.1C403.8,576.3 403.7,576.5 403.7,576.6C403.6,576.8 403.6,577.0 403.5,577.2C403.5,577.4 403.5,577.6 403.4,577.8C403.3,578.0 403.3,578.2 403.2,578.3C403.1,578.5 402.9,578.6 402.8,578.8C402.6,578.9 402.5,579.1 402.4,579.2C402.2,579.4 402.1,579.5 402.0,579.7C401.8,579.8 401.7,580.0 401.5,580.1C401.4,580.3 401.2,580.5 401.1,580.6C400.9,580.8 400.8,581.0 400.6,581.1C400.4,581.2 400.2,581.2 399.9,581.2C399.7,581.3 399.5,581.3 399.3,581.3C399.1,581.4 398.9,581.4 398.6,581.4C398.4,581.4 398.2,581.5 398.0,581.5C397.8,581.5 397.6,581.6 397.3,581.6C397.1,581.6 396.9,581.6 396.7,581.5C396.5,581.5 396.3,581.4 396.0,581.3C395.8,581.2 395.6,581.1 395.4,581.0C395.2,580.9 395.0,580.9 394.8,580.8C394.6,580.7 394.4,580.6 394.2,580.5C394.0,580.4 393.8,580.3 393.7,580.2C393.5,580.0 393.5,579.7 393.4,579.5C393.3,579.3 393.2,579.1 393.1,578.9C393.0,578.7 392.9,578.6 392.8,578.4C392.7,578.2 392.6,578.0 392.5,577.8C392.4,577.7 392.4,577.5 392.3,577.3C392.2,577.1 392.1,577.0 392.0,576.8C391.9,576.6 391.9,576.4 391.9,576.2C391.9,576.0 391.8,575.8 391.8,575.7C391.8,575.5 391.8,575.3 391.8,575.1C391.7,574.9 391.7,574.7 391.7,574.6C391.7,574.4 391.7,574.2 391.6,574.0C391.6,573.8 391.6,573.6 391.6,573.4C391.6,573.2 391.5,573.1 391.5,572.9C391.5,572.7 391.4,572.4 391.4,572.2C391.4,572.0 391.4,571.8 391.5,571.6C391.5,571.4 391.5,571.2 391.6,571.0C391.6,570.8 391.7,570.6 391.7,570.4C391.8,570.2 391.8,569.9 391.9,569.7C391.9,569.5 392.0,569.2 392.0,569.0C392.1,568.7 392.0,568.4 392.2,568.2C392.3,568.0 392.7,568.0 392.9,567.9C393.1,567.8 393.3,567.7 393.5,567.6C393.8,567.5 394.0,567.5 394.2,567.4C394.4,567.3 394.6,567.2 394.8,567.1C395.0,567.0 395.2,566.9 395.4,566.9C395.6,566.8 395.9,566.8 396.1,566.8C396.3,566.8 396.5,566.8 396.7,566.8C396.9,566.8 397.2,566.7 397.4,566.7C397.6,566.7 397.8,566.7 398.0,566.7C398.2,566.7 398.4,566.6 398.6,566.6C398.9,566.6 399.1,566.6 399.3,566.7C399.5,566.7 399.7,566.8 399.9,566.9C400.1,567.0 400.3,567.0 400.5,567.1C400.7,567.2 400.9,567.2 401.1,567.3C401.3,567.4 401.5,567.4 401.7,567.5C402.0,567.6 402.2,567.7 402.3,567.8C402.5,568.0 402.6,568.2 402.7,568.4C402.9,568.5 403.0,568.7 403.1,568.9C403.3,569.0 403.4,569.2 403.5,569.4C403.6,569.6 403.8,569.7 403.8,569.9C403.9,570.1 403.9,570.4 403.9,570.6C403.9,570.8 404.0,571.0 404.0,571.2C404.0,571.4 404.0,571.6 404.1,571.8C404.1,572.0 404.1,572.2 404.1,572.4C404.2,572.5 404.2,572.7 404.2,572.9C404.2,573.1 404.2,573.3 404.3,573.5C404.3,573.6 404.3,573.8 404.3,574.0Z" fill="none" stroke="#555" stroke-width="0.5"/>
<circle cx="368" cy="572.7" r="2" fill="none" stroke="#111" stroke-width="0.9"/>
<ellipse cx="397.5" cy="571" rx="1.4" ry="1.0" fill="#999"/>
<ellipse cx="396" cy="576" rx="0.9" ry="1.4" fill="#666"/>
<rect x="338.7" y="508.5" width="82.80" height="82.20" fill="none" stroke="#444" stroke-width="1.1"/>
<line x1="337.5" y1="515.35" x2="338.7" y2="515.35" stroke="#333" stroke-width="0.8" />
<line x1="337.5" y1="522.2" x2="338.7" y2="522.2" stroke="#333" stroke-width="0.8" />
<line x1="336.7" y1="529.05" x2="338.7" y2="529.05" stroke="#333" stroke-width="0.8" />
<line x1="337.5" y1="535.9" x2="338.7" y2="535.9" stroke="#333" stroke-width="0.8" />
<line x1="337.5" y1="542.75" x2="338.7" y2="542.75" stroke="#333" stroke-width="0.8" />
<line x1="336.7" y1="549.6" x2="338.7" y2="549.6" stroke="#333" stroke-width="0.8" />
<line x1="337.5" y1="556.45" x2="338.7" y2="556.45" stroke="#333" stroke-width="0.8" />
<line x1="337.5" y1="563.3000000000001" x2="338.7" y2="563.3000000000001" stroke="#333" stroke-width="0.8" />
<line x1="336.7" y1="570.1500000000001" x2="338.7" y2="570.1500000000001" stroke="#333" stroke-width="0.8" />
<line x1="337.5" y1="577.0" x2="338.7" y2="577.0" stroke="#333" stroke-width="0.8" />
<line x1="337.5" y1="583.85" x2="338.7" y2="583.85" stroke="#333" stroke-width="0.8" />
<line x1="345.59999999999997" y1="590.7" x2="345.59999999999997" y2="591.9000000000001" stroke="#333" stroke-width="0.8" />
<line x1="352.5" y1="590.7" x2="352.5" y2="591.9000000000001" stroke="#333" stroke-width="0.8" />
<line x1="359.4" y1="590.7" x2="359.4" y2="592.7" stroke="#333" stroke-width="0.8" />
<line x1="366.3" y1="590.7" x2="366.3" y2="591.9000000000001" stroke="#333" stroke-width="0.8" />
<line x1="373.2" y1="590.7" x2="373.2" y2="591.9000000000001" stroke="#333" stroke-width="0.8" />
<line x1="380.1" y1="590.7" x2="380.1" y2="592.7" stroke="#333" stroke-width="0.8" />
<line x1="387.0" y1="590.7" x2="387.0" y2="591.9000000000001" stroke="#333" stroke-width="0.8" />
<line x1="393.9" y1="590.7" x2="393.9" y2="591.9000000000001" stroke="#333" stroke-width="0.8" />
<line x1="400.8" y1="590.7" x2="400.8" y2="592.7" stroke="#333" stroke-width="0.8" />
<line x1="407.7" y1="590.7" x2="407.7" y2="591.9000000000001" stroke="#333" stroke-width="0.8" />
<line x1="414.6" y1="590.7" x2="414.6" y2="591.9000000000001" stroke="#333" stroke-width="0.8" />
<text x="358" y="503.8" font-size="8.9" font-weight="normal" font-style="normal" fill="#000" stroke="#000" stroke-width="0.35" text-anchor="start" >iTreg</text>
<text x="341.8" y="519" font-size="9" font-weight="normal" font-style="normal" fill="#3c3c88" stroke="#3c3c88" stroke-width="0.35" text-anchor="start" >0.1</text>
<text x="418.2" y="519" font-size="9" font-weight="normal" font-style="normal" fill="#3c3c88" stroke="#3c3c88" stroke-width="0.35" text-anchor="end" >2.8</text>
<text x="341.8" y="588.8" font-size="9" font-weight="normal" font-style="normal" fill="#3c3c88" stroke="#3c3c88" stroke-width="0.35" text-anchor="start" >4.0</text>
<text x="419.6" y="588.8" font-size="9" font-weight="normal" font-style="normal" fill="#3c3c88" stroke="#3c3c88" stroke-width="0.35" text-anchor="end" >93</text>
<line x1="464.4" y1="508.5" x2="464.4" y2="591.1" stroke="#7078aa" stroke-width="1" />
<line x1="433.0" y1="559.3" x2="515.7" y2="559.3" stroke="#7078aa" stroke-width="1" />
<path d="M500.2,551.0C500.2,551.3 500.1,551.6 500.1,552.0C500.1,552.3 500.0,552.6 500.0,552.9C500.0,553.3 500.0,553.6 499.9,553.9C499.9,554.3 499.9,554.6 499.8,554.9C499.8,555.3 499.8,555.6 499.7,556.0C499.7,556.4 499.6,556.7 499.6,557.1C499.6,557.5 499.5,557.9 499.5,558.3C499.4,558.8 499.4,559.2 499.4,559.7C499.3,560.2 499.3,560.7 499.2,561.2C499.2,561.8 499.1,562.4 499.0,563.0C498.9,563.5 498.8,564.1 498.6,564.7C498.4,565.3 498.2,565.9 498.0,566.6C497.8,567.3 497.6,568.1 497.4,568.9C497.1,569.8 496.9,570.7 496.5,571.7C496.2,572.8 496.0,574.2 495.5,575.3C495.1,576.4 494.5,577.6 493.8,578.5C493.2,579.3 492.4,579.7 491.6,580.3C490.8,581.0 490.0,580.6 489.0,582.4C488.0,584.1 486.7,589.3 485.5,590.7C484.4,592.1 483.1,591.0 482.0,590.7C480.9,590.4 479.6,590.1 478.9,588.8C478.1,587.6 478.0,584.4 477.3,583.2C476.6,582.0 475.6,582.1 474.7,581.6C473.9,581.0 473.1,580.5 472.3,580.0C471.5,579.4 470.6,579.0 469.8,578.4C469.1,577.7 468.4,577.0 467.8,576.2C467.2,575.5 466.9,574.5 466.2,573.8C465.6,573.1 464.7,572.6 463.9,572.1C463.0,571.5 462.0,571.1 461.2,570.5C460.4,569.8 459.2,569.3 459.1,568.3C459.0,567.2 460.1,565.5 460.6,564.2C461.2,563.0 461.8,561.8 462.2,560.8C462.6,559.7 462.9,558.8 463.1,557.9C463.3,557.1 463.2,556.3 463.2,555.5C463.3,554.8 463.4,554.0 463.4,553.2C463.5,552.5 463.5,551.7 463.5,551.0C463.6,550.3 463.6,549.5 463.6,548.8C463.7,548.0 463.6,547.3 463.7,546.5C463.8,545.8 463.6,545.0 464.1,544.3C464.5,543.7 465.6,543.2 466.3,542.7C466.9,542.2 467.6,541.8 468.2,541.3C468.8,540.9 469.3,540.4 470.0,540.0C470.6,539.7 471.4,539.4 472.1,539.2C472.8,538.9 473.4,538.6 474.0,538.4C474.6,538.2 475.2,537.9 475.7,537.7C476.3,537.5 476.8,537.3 477.3,537.1C477.8,536.9 478.3,536.7 478.8,536.5C479.3,536.3 479.8,536.1 480.3,535.9C480.8,535.8 481.3,535.7 481.8,535.6C482.3,535.4 482.8,535.3 483.2,535.2C483.7,535.1 484.2,535.0 484.7,534.8C485.1,534.7 485.6,534.6 486.1,534.5C486.6,534.4 487.0,534.2 487.5,534.1C488.0,534.0 488.5,533.9 489.0,533.8C489.5,533.6 490.0,533.5 490.5,533.4C491.1,533.2 491.6,533.1 492.2,533.0C492.8,532.8 493.4,532.5 494.0,532.5C494.5,532.5 495.1,532.6 495.6,532.9C496.1,533.1 496.5,533.5 497.0,533.9C497.5,534.2 497.9,534.5 498.3,534.8C498.8,535.1 499.4,535.2 499.7,535.7C500.0,536.3 499.9,537.2 500.0,537.9C500.1,538.6 500.1,539.3 500.1,539.9C500.1,540.5 500.2,541.1 500.2,541.6C500.2,542.2 500.2,542.6 500.3,543.1C500.3,543.6 500.3,544.0 500.3,544.5C500.3,544.9 500.4,545.3 500.4,545.7C500.4,546.1 500.4,546.5 500.4,546.8C500.5,547.2 500.5,547.6 500.5,547.9C500.5,548.3 500.4,548.6 500.4,549.0C500.4,549.3 500.3,549.7 500.3,550.0C500.3,550.3 500.2,550.7 500.2,551.0Z" fill="none" stroke="#151515" stroke-width="0.9"/>
<path d="M499.5,551.0C499.5,551.3 499.4,551.6 499.4,551.9C499.4,552.2 499.3,552.5 499.3,552.8C499.3,553.1 499.2,553.4 499.2,553.7C499.2,554.0 499.1,554.4 499.1,554.7C499.1,555.0 499.0,555.3 499.0,555.7C498.9,556.0 498.9,556.3 498.9,556.7C498.8,557.1 498.8,557.4 498.7,557.8C498.7,558.2 498.6,558.6 498.6,559.1C498.6,559.5 498.5,560.0 498.4,560.4C498.4,560.9 498.3,561.4 498.2,561.9C498.0,562.4 497.9,562.9 497.7,563.4C497.6,564.0 497.4,564.5 497.2,565.2C497.0,565.8 496.8,566.4 496.6,567.2C496.3,567.9 496.1,568.7 495.8,569.7C495.5,570.6 495.2,571.8 494.8,572.7C494.4,573.7 493.9,574.7 493.3,575.5C492.7,576.3 492.0,576.8 491.3,577.6C490.6,578.3 489.9,578.9 489.0,580.1C488.1,581.3 487.0,583.9 486.0,584.8C485.0,585.6 484.0,585.2 483.0,585.2C482.0,585.2 480.8,585.4 480.0,584.8C479.1,584.1 478.7,582.3 477.9,581.5C477.2,580.7 476.3,580.5 475.5,580.0C474.7,579.5 473.9,579.1 473.1,578.5C472.4,577.9 471.8,577.2 471.2,576.5C470.5,575.8 470.0,575.1 469.4,574.3C468.9,573.6 468.5,572.8 467.9,572.1C467.4,571.4 466.8,570.8 466.2,570.1C465.7,569.4 465.2,568.7 464.7,568.0C464.2,567.3 463.5,566.7 463.4,565.8C463.2,564.9 463.6,563.7 463.7,562.8C463.9,561.8 464.0,560.9 464.2,560.0C464.3,559.2 464.6,558.3 464.7,557.5C464.8,556.7 464.8,556.0 464.8,555.3C464.9,554.5 464.9,553.8 464.9,553.1C465.0,552.4 465.0,551.7 465.1,551.0C465.1,550.3 465.1,549.6 465.2,548.9C465.3,548.2 465.5,547.5 465.7,546.9C466.0,546.3 466.3,545.6 466.8,545.0C467.3,544.5 468.0,544.0 468.6,543.6C469.2,543.1 469.7,542.7 470.2,542.2C470.7,541.8 471.2,541.4 471.7,541.0C472.2,540.7 472.8,540.3 473.4,540.1C473.9,539.8 474.6,539.6 475.1,539.3C475.6,539.1 476.2,538.9 476.7,538.7C477.2,538.5 477.7,538.2 478.1,538.0C478.6,537.8 479.1,537.6 479.5,537.5C480.0,537.3 480.4,537.1 480.9,536.9C481.3,536.7 481.8,536.6 482.2,536.4C482.7,536.3 483.1,536.1 483.5,536.0C484.0,535.8 484.4,535.7 484.9,535.6C485.3,535.5 485.8,535.4 486.2,535.2C486.7,535.1 487.1,535.0 487.6,534.9C488.1,534.8 488.5,534.6 489.0,534.5C489.5,534.4 490.0,534.3 490.5,534.1C491.0,534.0 491.5,533.9 492.0,533.7C492.6,533.6 493.2,533.3 493.7,533.3C494.3,533.3 494.8,533.5 495.3,533.7C495.8,533.8 496.3,534.2 496.7,534.5C497.2,534.7 497.7,534.9 498.1,535.2C498.5,535.6 499.0,535.8 499.2,536.4C499.4,537.0 499.4,537.9 499.4,538.6C499.5,539.3 499.5,539.9 499.5,540.5C499.5,541.1 499.5,541.6 499.6,542.1C499.6,542.6 499.6,543.1 499.6,543.6C499.7,544.0 499.7,544.4 499.7,544.8C499.7,545.2 499.7,545.6 499.7,546.0C499.8,546.4 499.8,546.7 499.8,547.1C499.8,547.4 499.8,547.8 499.8,548.1C499.8,548.4 499.7,548.8 499.7,549.1C499.7,549.4 499.6,549.8 499.6,550.1C499.6,550.4 499.5,550.7 499.5,551.0Z" fill="none" stroke="#151515" stroke-width="0.9"/>
<path d="M498.9,551.0C498.9,551.3 498.9,551.6 498.8,551.9C498.8,552.1 498.7,552.4 498.7,552.7C498.7,553.0 498.6,553.3 498.6,553.6C498.6,553.9 498.5,554.2 498.5,554.5C498.5,554.8 498.4,555.1 498.4,555.4C498.3,555.7 498.3,556.0 498.3,556.3C498.2,556.7 498.2,557.0 498.1,557.4C498.1,557.8 498.0,558.1 498.0,558.5C497.9,558.9 497.9,559.4 497.8,559.8C497.7,560.2 497.6,560.6 497.4,561.1C497.3,561.5 497.2,561.9 497.0,562.4C496.8,562.9 496.7,563.4 496.5,564.0C496.3,564.5 496.1,565.1 495.9,565.8C495.7,566.4 495.4,567.1 495.2,568.0C494.9,568.8 494.7,569.8 494.3,570.7C493.9,571.5 493.4,572.2 492.9,573.0C492.4,573.8 491.8,574.5 491.1,575.3C490.5,576.2 489.8,577.4 489.0,578.2C488.2,578.9 487.3,579.5 486.5,579.9C485.6,580.4 484.7,580.5 483.8,580.7C482.8,581.0 481.7,581.5 480.9,581.4C480.0,581.3 479.2,580.5 478.4,580.0C477.6,579.6 476.9,579.2 476.1,578.7C475.3,578.2 474.5,577.9 473.8,577.3C473.2,576.6 472.8,575.7 472.2,574.9C471.7,574.2 471.2,573.5 470.7,572.8C470.3,572.1 469.7,571.4 469.3,570.7C468.9,570.0 468.5,569.2 468.2,568.5C467.9,567.7 467.7,566.8 467.5,566.0C467.3,565.3 467.1,564.5 466.9,563.8C466.7,563.0 466.4,562.3 466.3,561.6C466.1,560.9 465.9,560.2 465.8,559.4C465.8,558.7 465.9,557.9 466.0,557.2C466.0,556.4 466.0,555.7 466.1,555.0C466.1,554.3 466.2,553.7 466.2,553.0C466.2,552.3 466.3,551.7 466.3,551.0C466.4,550.3 466.3,549.7 466.4,549.0C466.6,548.4 466.9,547.7 467.4,547.2C467.8,546.6 468.5,546.1 469.0,545.6C469.5,545.2 470.0,544.7 470.5,544.3C471.0,543.8 471.4,543.4 471.9,543.0C472.3,542.6 472.7,542.2 473.1,541.8C473.5,541.5 474.0,541.1 474.4,540.8C474.9,540.5 475.5,540.3 476.0,540.1C476.5,539.9 477.0,539.7 477.4,539.4C477.9,539.2 478.4,539.0 478.8,538.8C479.2,538.6 479.7,538.5 480.1,538.3C480.5,538.1 480.9,537.9 481.3,537.7C481.7,537.5 482.1,537.3 482.5,537.2C483.0,537.0 483.3,536.8 483.8,536.6C484.2,536.5 484.6,536.3 485.0,536.2C485.5,536.1 485.9,536.0 486.3,535.9C486.8,535.8 487.2,535.6 487.6,535.5C488.1,535.4 488.5,535.3 489.0,535.1C489.5,535.0 489.9,534.9 490.4,534.8C490.9,534.6 491.4,534.5 491.9,534.4C492.5,534.2 493.1,533.9 493.6,533.9C494.1,533.9 494.6,534.1 495.1,534.3C495.6,534.5 496.0,534.7 496.5,534.9C497.0,535.2 497.5,535.3 497.9,535.6C498.3,535.9 498.7,536.4 498.8,536.9C499.0,537.5 498.9,538.5 498.9,539.2C499.0,539.8 499.0,540.4 499.0,541.0C499.0,541.6 499.1,542.1 499.1,542.5C499.1,543.0 499.1,543.5 499.1,543.9C499.1,544.3 499.2,544.7 499.2,545.1C499.2,545.5 499.2,545.9 499.2,546.2C499.2,546.6 499.3,546.9 499.3,547.3C499.3,547.6 499.3,547.9 499.3,548.2C499.2,548.6 499.2,548.9 499.1,549.2C499.1,549.5 499.1,549.8 499.0,550.1C499.0,550.4 499.0,550.7 498.9,551.0Z" fill="none" stroke="#151515" stroke-width="0.9"/>
<path d="M498.1,551.0C498.1,551.3 498.1,551.5 498.0,551.8C498.0,552.1 498.0,552.3 497.9,552.6C497.9,552.8 497.9,553.1 497.8,553.4C497.8,553.6 497.8,553.9 497.7,554.2C497.7,554.5 497.7,554.7 497.6,555.0C497.6,555.3 497.6,555.6 497.5,555.9C497.5,556.2 497.4,556.5 497.4,556.9C497.4,557.2 497.3,557.6 497.3,557.9C497.2,558.3 497.2,558.7 497.1,559.1C497.0,559.5 496.9,559.9 496.8,560.3C496.6,560.7 496.5,561.1 496.4,561.5C496.2,562.0 496.1,562.4 495.9,562.9C495.7,563.4 495.5,564.0 495.3,564.6C495.1,565.2 494.9,565.8 494.7,566.6C494.4,567.4 494.2,568.3 493.9,569.1C493.5,569.9 493.1,570.5 492.6,571.2C492.1,571.9 491.6,572.6 491.0,573.4C490.4,574.2 489.7,575.3 489.0,576.0C488.3,576.7 487.5,577.2 486.7,577.6C485.9,578.0 485.0,578.1 484.2,578.3C483.3,578.6 482.3,579.1 481.5,579.0C480.7,578.9 480.0,578.1 479.3,577.7C478.5,577.3 477.8,576.9 477.1,576.5C476.4,576.1 475.6,575.7 475.1,575.2C474.5,574.6 474.1,573.7 473.6,573.0C473.1,572.3 472.7,571.7 472.2,571.0C471.8,570.4 471.3,569.8 470.9,569.1C470.5,568.4 470.1,567.8 469.9,567.1C469.6,566.3 469.4,565.6 469.2,564.8C469.0,564.1 468.8,563.4 468.6,562.8C468.4,562.1 468.2,561.4 468.1,560.8C467.9,560.1 467.7,559.4 467.7,558.8C467.6,558.1 467.8,557.4 467.8,556.7C467.8,556.0 467.9,555.4 467.9,554.7C468.0,554.1 468.0,553.5 468.0,552.8C468.1,552.2 468.1,551.6 468.1,551.0C468.2,550.4 468.1,549.8 468.2,549.2C468.4,548.6 468.7,548.0 469.1,547.5C469.5,547.0 470.1,546.5 470.6,546.1C471.1,545.6 471.5,545.2 472.0,544.8C472.4,544.4 472.8,544.0 473.2,543.6C473.6,543.3 474.0,542.9 474.4,542.6C474.8,542.2 475.2,541.9 475.6,541.6C476.0,541.4 476.6,541.2 477.0,541.0C477.5,540.8 477.9,540.6 478.4,540.4C478.8,540.2 479.2,540.0 479.6,539.8C480.0,539.6 480.4,539.5 480.8,539.3C481.2,539.1 481.6,538.9 481.9,538.8C482.3,538.6 482.7,538.4 483.1,538.3C483.4,538.1 483.8,537.9 484.2,537.8C484.6,537.6 485.0,537.5 485.4,537.4C485.8,537.3 486.1,537.2 486.5,537.1C486.9,537.0 487.3,536.9 487.8,536.8C488.2,536.6 488.6,536.5 489.0,536.4C489.4,536.3 489.9,536.2 490.3,536.1C490.8,535.9 491.2,535.8 491.7,535.7C492.2,535.6 492.7,535.3 493.2,535.3C493.7,535.3 494.1,535.5 494.6,535.6C495.0,535.8 495.5,536.0 495.9,536.2C496.3,536.4 496.8,536.5 497.2,536.8C497.5,537.1 497.9,537.5 498.1,538.1C498.2,538.6 498.1,539.5 498.1,540.1C498.2,540.7 498.2,541.3 498.2,541.8C498.2,542.3 498.2,542.8 498.3,543.2C498.3,543.7 498.3,544.1 498.3,544.5C498.3,544.9 498.4,545.2 498.4,545.6C498.4,545.9 498.4,546.3 498.4,546.6C498.4,546.9 498.4,547.3 498.4,547.6C498.5,547.9 498.5,548.2 498.4,548.5C498.4,548.8 498.4,549.1 498.3,549.4C498.3,549.6 498.3,549.9 498.2,550.2C498.2,550.5 498.2,550.7 498.1,551.0Z" fill="none" stroke="#151515" stroke-width="0.9"/>
<path d="M497.4,551.0C497.4,551.2 497.4,551.5 497.3,551.7C497.3,552.0 497.3,552.2 497.3,552.5C497.2,552.7 497.2,552.9 497.2,553.2C497.1,553.4 497.1,553.7 497.1,553.9C497.0,554.2 497.0,554.4 497.0,554.7C496.9,555.0 496.9,555.3 496.9,555.5C496.8,555.8 496.8,556.1 496.8,556.4C496.7,556.7 496.7,557.1 496.6,557.4C496.6,557.8 496.6,558.1 496.5,558.5C496.4,558.9 496.3,559.2 496.2,559.6C496.1,559.9 495.9,560.3 495.8,560.7C495.7,561.1 495.5,561.5 495.4,562.0C495.2,562.5 495.0,563.0 494.9,563.6C494.7,564.1 494.5,564.7 494.2,565.4C494.0,566.1 493.8,567.0 493.5,567.7C493.2,568.4 492.7,569.0 492.3,569.7C491.9,570.4 491.4,570.9 490.8,571.7C490.3,572.4 489.7,573.4 489.0,574.1C488.3,574.7 487.6,575.2 486.8,575.6C486.1,576.0 485.3,576.0 484.5,576.3C483.8,576.5 482.8,576.9 482.1,576.9C481.3,576.8 480.7,576.1 480.0,575.7C479.3,575.3 478.7,574.9 478.0,574.5C477.4,574.1 476.7,573.9 476.1,573.3C475.6,572.8 475.2,572.0 474.8,571.3C474.3,570.7 473.9,570.1 473.5,569.5C473.1,568.9 472.6,568.3 472.3,567.7C471.9,567.1 471.6,566.5 471.3,565.8C471.1,565.2 470.9,564.4 470.7,563.8C470.6,563.1 470.4,562.5 470.2,561.9C470.0,561.2 469.8,560.6 469.7,560.0C469.5,559.4 469.3,558.8 469.3,558.2C469.3,557.5 469.4,556.9 469.4,556.2C469.5,555.6 469.5,555.0 469.5,554.4C469.6,553.8 469.6,553.3 469.6,552.7C469.7,552.1 469.7,551.6 469.7,551.0C469.8,550.4 469.7,549.9 469.8,549.3C470.0,548.8 470.3,548.2 470.6,547.8C471.0,547.3 471.6,546.9 472.0,546.4C472.5,546.0 472.9,545.7 473.3,545.3C473.7,544.9 474.1,544.5 474.4,544.2C474.8,543.9 475.1,543.5 475.5,543.2C475.9,542.9 476.2,542.6 476.6,542.3C477.0,542.1 477.5,541.9 478.0,541.7C478.4,541.5 478.8,541.4 479.2,541.2C479.6,541.0 480.0,540.8 480.3,540.7C480.7,540.5 481.1,540.3 481.4,540.2C481.8,540.0 482.1,539.9 482.5,539.7C482.8,539.5 483.2,539.4 483.5,539.2C483.9,539.1 484.2,538.9 484.5,538.8C484.9,538.6 485.3,538.5 485.6,538.4C486.0,538.3 486.4,538.2 486.7,538.1C487.1,538.0 487.5,537.9 487.8,537.8C488.2,537.7 488.6,537.6 489.0,537.5C489.4,537.4 489.8,537.3 490.2,537.2C490.6,537.1 491.0,537.0 491.5,536.9C491.9,536.7 492.4,536.5 492.9,536.5C493.3,536.5 493.8,536.7 494.2,536.8C494.6,536.9 495.0,537.2 495.4,537.3C495.8,537.5 496.2,537.6 496.6,537.9C496.9,538.2 497.2,538.5 497.4,539.1C497.5,539.6 497.4,540.4 497.4,540.9C497.5,541.5 497.5,542.0 497.5,542.5C497.5,543.0 497.5,543.4 497.6,543.8C497.6,544.2 497.6,544.6 497.6,545.0C497.6,545.3 497.6,545.7 497.7,546.0C497.7,546.3 497.7,546.6 497.7,546.9C497.7,547.2 497.7,547.5 497.7,547.8C497.7,548.1 497.7,548.4 497.7,548.7C497.7,548.9 497.7,549.2 497.6,549.5C497.6,549.7 497.6,550.0 497.5,550.3C497.5,550.5 497.5,550.8 497.4,551.0Z" fill="none" stroke="#151515" stroke-width="0.9"/>
<path d="M496.7,551.0C496.7,551.2 496.7,551.4 496.7,551.7C496.6,551.9 496.6,552.1 496.6,552.3C496.5,552.6 496.5,552.8 496.5,553.0C496.5,553.2 496.4,553.5 496.4,553.7C496.4,553.9 496.3,554.2 496.3,554.4C496.3,554.7 496.3,554.9 496.2,555.2C496.2,555.4 496.2,555.7 496.1,556.0C496.1,556.3 496.0,556.6 496.0,556.9C496.0,557.2 496.0,557.6 495.9,557.9C495.8,558.2 495.7,558.5 495.6,558.9C495.5,559.2 495.4,559.5 495.2,559.9C495.1,560.3 495.0,560.7 494.8,561.1C494.7,561.6 494.5,562.0 494.4,562.5C494.2,563.0 494.0,563.6 493.8,564.2C493.6,564.9 493.4,565.7 493.1,566.3C492.8,567.0 492.4,567.6 492.0,568.2C491.6,568.8 491.2,569.3 490.7,570.0C490.2,570.6 489.6,571.6 489.0,572.2C488.4,572.8 487.7,573.2 487.0,573.6C486.3,573.9 485.6,574.0 484.9,574.2C484.2,574.4 483.3,574.8 482.6,574.7C482.0,574.6 481.4,574.0 480.8,573.6C480.1,573.3 479.5,573.0 478.9,572.6C478.3,572.2 477.7,572.0 477.2,571.5C476.7,571.0 476.3,570.3 475.9,569.7C475.5,569.1 475.1,568.5 474.8,568.0C474.4,567.4 474.0,566.9 473.6,566.4C473.3,565.8 473.0,565.2 472.8,564.6C472.5,564.0 472.4,563.3 472.2,562.7C472.1,562.1 471.9,561.5 471.7,561.0C471.6,560.4 471.4,559.8 471.3,559.3C471.1,558.7 471.0,558.2 470.9,557.6C470.9,557.0 471.0,556.4 471.0,555.8C471.1,555.2 471.1,554.7 471.1,554.2C471.2,553.6 471.2,553.1 471.2,552.6C471.3,552.0 471.3,551.5 471.3,551.0C471.3,550.5 471.3,550.0 471.4,549.5C471.5,549.0 471.8,548.5 472.1,548.0C472.5,547.6 473.0,547.2 473.4,546.8C473.8,546.4 474.2,546.1 474.6,545.7C474.9,545.4 475.3,545.1 475.6,544.8C476.0,544.4 476.3,544.1 476.6,543.8C476.9,543.6 477.3,543.3 477.6,543.0C478.0,542.8 478.5,542.7 478.9,542.5C479.3,542.3 479.6,542.2 480.0,542.0C480.4,541.8 480.7,541.7 481.0,541.5C481.4,541.4 481.7,541.2 482.0,541.1C482.4,540.9 482.7,540.8 483.0,540.6C483.3,540.5 483.6,540.3 484.0,540.2C484.3,540.1 484.6,539.9 484.9,539.8C485.2,539.7 485.6,539.6 485.9,539.5C486.2,539.4 486.6,539.3 486.9,539.2C487.3,539.1 487.6,539.0 487.9,538.9C488.3,538.8 488.6,538.7 489.0,538.6C489.4,538.5 489.7,538.4 490.1,538.3C490.5,538.2 490.9,538.1 491.3,538.0C491.7,537.9 492.2,537.7 492.6,537.7C493.0,537.7 493.4,537.8 493.7,538.0C494.1,538.1 494.5,538.3 494.8,538.5C495.2,538.6 495.6,538.7 495.9,539.0C496.2,539.2 496.5,539.6 496.7,540.0C496.8,540.5 496.7,541.2 496.7,541.8C496.8,542.3 496.8,542.8 496.8,543.2C496.8,543.6 496.8,544.0 496.9,544.4C496.9,544.8 496.9,545.1 496.9,545.5C496.9,545.8 496.9,546.1 496.9,546.4C497.0,546.7 497.0,547.0 497.0,547.3C497.0,547.6 497.0,547.8 497.0,548.1C497.0,548.3 497.0,548.6 497.0,548.9C497.0,549.1 496.9,549.4 496.9,549.6C496.9,549.8 496.9,550.1 496.8,550.3C496.8,550.5 496.8,550.8 496.7,551.0Z" fill="none" stroke="#151515" stroke-width="0.9"/>
<path d="M496.1,551.0C496.1,551.2 496.1,551.4 496.1,551.6C496.0,551.8 496.0,552.0 496.0,552.2C496.0,552.4 495.9,552.6 495.9,552.9C495.9,553.1 495.9,553.3 495.8,553.5C495.8,553.7 495.8,553.9 495.8,554.1C495.7,554.4 495.7,554.6 495.7,554.8C495.6,555.1 495.6,555.3 495.6,555.6C495.5,555.9 495.5,556.1 495.5,556.4C495.4,556.7 495.4,557.0 495.4,557.4C495.3,557.7 495.2,557.9 495.1,558.2C495.0,558.6 494.9,558.9 494.8,559.2C494.6,559.6 494.5,559.9 494.4,560.3C494.3,560.7 494.1,561.2 494.0,561.6C493.8,562.1 493.6,562.6 493.4,563.2C493.2,563.8 493.1,564.6 492.8,565.2C492.5,565.8 492.2,566.3 491.8,566.8C491.4,567.4 491.0,567.9 490.5,568.5C490.1,569.1 489.6,570.0 489.0,570.6C488.4,571.1 487.8,571.5 487.2,571.8C486.5,572.1 485.9,572.2 485.2,572.4C484.6,572.6 483.8,573.0 483.1,572.9C482.5,572.8 482.0,572.2 481.4,571.9C480.8,571.6 480.3,571.3 479.7,570.9C479.2,570.6 478.5,570.4 478.1,569.9C477.6,569.5 477.3,568.8 476.9,568.2C476.6,567.7 476.2,567.2 475.9,566.7C475.5,566.2 475.1,565.7 474.8,565.2C474.5,564.7 474.2,564.1 474.0,563.6C473.8,563.0 473.7,562.4 473.5,561.8C473.4,561.3 473.2,560.7 473.1,560.2C472.9,559.7 472.7,559.2 472.6,558.6C472.5,558.1 472.4,557.6 472.3,557.1C472.3,556.5 472.4,556.0 472.4,555.4C472.4,554.9 472.5,554.4 472.5,553.9C472.5,553.4 472.6,552.9 472.6,552.4C472.6,552.0 472.6,551.5 472.7,551.0C472.7,550.5 472.6,550.0 472.8,549.6C472.9,549.1 473.1,548.7 473.4,548.3C473.7,547.8 474.2,547.5 474.6,547.1C475.0,546.8 475.3,546.5 475.7,546.2C476.0,545.8 476.3,545.5 476.7,545.2C477.0,545.0 477.3,544.7 477.6,544.4C477.9,544.1 478.2,543.9 478.5,543.7C478.9,543.5 479.3,543.3 479.6,543.1C480.0,543.0 480.3,542.8 480.7,542.7C481.0,542.5 481.3,542.4 481.7,542.2C482.0,542.1 482.3,542.0 482.6,541.8C482.9,541.7 483.2,541.6 483.5,541.4C483.8,541.3 484.1,541.2 484.4,541.0C484.6,540.9 484.9,540.7 485.2,540.6C485.5,540.5 485.8,540.4 486.1,540.4C486.5,540.3 486.8,540.2 487.1,540.1C487.4,540.0 487.7,539.9 488.0,539.9C488.3,539.8 488.7,539.7 489.0,539.6C489.3,539.5 489.7,539.4 490.0,539.3C490.4,539.2 490.7,539.1 491.1,539.0C491.5,538.9 491.9,538.7 492.3,538.7C492.7,538.7 493.0,538.8 493.4,539.0C493.7,539.1 494.1,539.3 494.4,539.4C494.7,539.6 495.1,539.7 495.4,539.9C495.7,540.1 496.0,540.5 496.1,540.9C496.2,541.3 496.1,542.0 496.2,542.5C496.2,543.0 496.2,543.4 496.2,543.8C496.2,544.2 496.2,544.6 496.3,544.9C496.3,545.3 496.3,545.6 496.3,545.9C496.3,546.2 496.3,546.5 496.3,546.8C496.3,547.0 496.4,547.3 496.4,547.6C496.4,547.8 496.4,548.1 496.4,548.3C496.4,548.6 496.4,548.8 496.4,549.0C496.4,549.3 496.3,549.5 496.3,549.7C496.3,549.9 496.3,550.2 496.2,550.4C496.2,550.6 496.2,550.8 496.1,551.0Z" fill="none" stroke="#151515" stroke-width="0.9"/>
<path d="M495.6,551.0C495.5,551.2 495.5,551.4 495.5,551.6C495.5,551.8 495.4,551.9 495.4,552.1C495.4,552.3 495.4,552.5 495.3,552.7C495.3,552.9 495.3,553.1 495.3,553.3C495.2,553.5 495.2,553.7 495.2,553.9C495.2,554.1 495.1,554.3 495.1,554.5C495.1,554.7 495.1,555.0 495.0,555.2C495.0,555.5 495.0,555.7 494.9,556.0C494.9,556.2 494.9,556.5 494.8,556.8C494.8,557.1 494.7,557.4 494.6,557.6C494.5,557.9 494.4,558.2 494.3,558.5C494.2,558.9 494.1,559.2 493.9,559.6C493.8,559.9 493.7,560.3 493.5,560.8C493.4,561.2 493.3,561.7 493.1,562.2C492.9,562.7 492.7,563.4 492.5,564.0C492.2,564.5 491.9,565.0 491.6,565.5C491.2,566.0 490.8,566.5 490.4,567.1C490.0,567.6 489.5,568.4 489.0,568.9C488.5,569.4 487.9,569.8 487.3,570.1C486.8,570.4 486.2,570.4 485.5,570.6C484.9,570.8 484.2,571.1 483.6,571.1C483.0,571.0 482.5,570.5 482.0,570.2C481.5,569.9 481.0,569.6 480.5,569.3C480.0,569.0 479.4,568.7 479.0,568.3C478.6,567.9 478.3,567.3 477.9,566.8C477.6,566.3 477.3,565.8 476.9,565.4C476.6,564.9 476.3,564.5 476.0,564.0C475.7,563.5 475.5,563.0 475.3,562.5C475.1,562.0 475.0,561.4 474.8,560.9C474.7,560.4 474.5,559.9 474.4,559.4C474.3,558.9 474.1,558.5 474.0,558.0C473.9,557.5 473.7,557.1 473.7,556.6C473.7,556.1 473.8,555.6 473.8,555.1C473.8,554.6 473.9,554.1 473.9,553.7C473.9,553.2 473.9,552.8 474.0,552.3C474.0,551.9 474.0,551.4 474.0,551.0C474.1,550.6 474.0,550.1 474.1,549.7C474.2,549.3 474.4,548.9 474.7,548.5C475.0,548.1 475.5,547.8 475.8,547.5C476.2,547.1 476.5,546.8 476.8,546.6C477.1,546.3 477.4,546.0 477.7,545.7C478.0,545.5 478.2,545.2 478.5,544.9C478.8,544.7 479.1,544.5 479.4,544.3C479.7,544.1 480.1,544.0 480.4,543.8C480.8,543.7 481.1,543.5 481.4,543.4C481.7,543.2 482.0,543.1 482.3,543.0C482.6,542.8 482.8,542.7 483.1,542.6C483.4,542.5 483.7,542.3 483.9,542.2C484.2,542.1 484.5,542.0 484.7,541.9C485.0,541.7 485.3,541.6 485.5,541.5C485.8,541.4 486.1,541.3 486.4,541.2C486.7,541.2 487.0,541.1 487.2,541.0C487.5,540.9 487.8,540.9 488.1,540.8C488.4,540.7 488.7,540.6 489.0,540.5C489.3,540.5 489.6,540.4 489.9,540.3C490.3,540.2 490.6,540.1 490.9,540.0C491.3,539.9 491.7,539.7 492.0,539.7C492.4,539.7 492.7,539.9 493.0,540.0C493.3,540.1 493.6,540.3 493.9,540.4C494.3,540.5 494.6,540.6 494.9,540.8C495.1,541.0 495.4,541.3 495.5,541.7C495.6,542.1 495.5,542.7 495.6,543.2C495.6,543.6 495.6,544.0 495.6,544.4C495.6,544.8 495.6,545.1 495.6,545.4C495.7,545.7 495.7,546.0 495.7,546.3C495.7,546.6 495.7,546.9 495.7,547.1C495.7,547.4 495.7,547.6 495.7,547.9C495.8,548.1 495.8,548.3 495.8,548.5C495.8,548.8 495.8,549.0 495.8,549.2C495.8,549.4 495.7,549.6 495.7,549.8C495.7,550.0 495.6,550.2 495.6,550.4C495.6,550.6 495.6,550.8 495.6,551.0Z" fill="none" stroke="#151515" stroke-width="0.9"/>
<path d="M495.0,551.0C494.9,551.2 494.9,551.3 494.9,551.5C494.9,551.7 494.8,551.9 494.8,552.0C494.8,552.2 494.8,552.4 494.8,552.5C494.7,552.7 494.7,552.9 494.7,553.1C494.7,553.3 494.7,553.4 494.6,553.6C494.6,553.8 494.6,554.0 494.6,554.2C494.5,554.4 494.5,554.6 494.5,554.8C494.4,555.1 494.4,555.3 494.4,555.5C494.4,555.8 494.3,556.0 494.3,556.3C494.2,556.5 494.2,556.8 494.1,557.0C494.0,557.3 493.9,557.6 493.8,557.9C493.7,558.1 493.6,558.4 493.5,558.8C493.4,559.1 493.3,559.5 493.1,559.9C493.0,560.3 492.9,560.7 492.7,561.2C492.5,561.7 492.4,562.3 492.2,562.8C491.9,563.3 491.6,563.7 491.3,564.2C491.0,564.7 490.7,565.1 490.3,565.6C489.9,566.1 489.5,566.8 489.0,567.3C488.5,567.8 488.0,568.1 487.5,568.4C487.0,568.6 486.4,568.7 485.9,568.8C485.3,569.0 484.6,569.3 484.1,569.2C483.6,569.2 483.1,568.7 482.7,568.4C482.2,568.1 481.7,567.9 481.3,567.6C480.8,567.3 480.3,567.1 479.9,566.8C479.5,566.4 479.3,565.8 478.9,565.4C478.6,564.9 478.3,564.5 478.0,564.1C477.8,563.6 477.4,563.2 477.2,562.8C476.9,562.4 476.7,561.9 476.5,561.5C476.3,561.0 476.2,560.5 476.1,560.0C476.0,559.6 475.8,559.1 475.7,558.7C475.6,558.2 475.5,557.8 475.4,557.4C475.2,556.9 475.1,556.5 475.1,556.1C475.1,555.6 475.2,555.1 475.2,554.7C475.2,554.3 475.2,553.8 475.3,553.4C475.3,553.0 475.3,552.6 475.3,552.2C475.3,551.8 475.4,551.4 475.4,551.0C475.4,550.6 475.4,550.2 475.5,549.8C475.6,549.4 475.8,549.0 476.0,548.7C476.3,548.4 476.7,548.1 477.0,547.8C477.3,547.5 477.6,547.2 477.9,547.0C478.2,546.7 478.5,546.4 478.7,546.2C479.0,546.0 479.2,545.7 479.5,545.5C479.7,545.3 480.0,545.1 480.3,544.9C480.6,544.7 480.9,544.6 481.2,544.5C481.5,544.3 481.8,544.2 482.1,544.1C482.3,543.9 482.6,543.8 482.9,543.7C483.1,543.6 483.4,543.5 483.6,543.4C483.9,543.2 484.1,543.1 484.4,543.0C484.6,542.9 484.9,542.8 485.1,542.7C485.4,542.6 485.6,542.5 485.9,542.4C486.1,542.3 486.4,542.2 486.6,542.1C486.9,542.1 487.1,542.0 487.4,541.9C487.7,541.9 487.9,541.8 488.2,541.7C488.5,541.6 488.7,541.6 489.0,541.5C489.3,541.4 489.6,541.3 489.9,541.3C490.1,541.2 490.4,541.1 490.8,541.0C491.1,540.9 491.4,540.8 491.7,540.7C492.1,540.7 492.4,540.9 492.6,541.0C492.9,541.1 493.2,541.2 493.5,541.4C493.8,541.5 494.1,541.6 494.3,541.8C494.6,542.0 494.8,542.2 494.9,542.6C495.0,542.9 494.9,543.5 495.0,543.9C495.0,544.3 495.0,544.7 495.0,545.0C495.0,545.3 495.0,545.6 495.0,545.9C495.1,546.2 495.1,546.5 495.1,546.7C495.1,547.0 495.1,547.2 495.1,547.5C495.1,547.7 495.1,547.9 495.1,548.1C495.1,548.4 495.2,548.6 495.2,548.8C495.2,549.0 495.2,549.2 495.2,549.3C495.1,549.5 495.1,549.7 495.1,549.9C495.1,550.1 495.0,550.3 495.0,550.5C495.0,550.7 495.0,550.8 495.0,551.0Z" fill="none" stroke="#151515" stroke-width="0.9"/>
<path d="M494.5,551.0C494.4,551.2 494.4,551.3 494.4,551.5C494.4,551.6 494.4,551.8 494.3,551.9C494.3,552.1 494.3,552.3 494.3,552.4C494.3,552.6 494.2,552.7 494.2,552.9C494.2,553.1 494.2,553.2 494.2,553.4C494.1,553.6 494.1,553.8 494.1,553.9C494.1,554.1 494.0,554.3 494.0,554.5C494.0,554.7 494.0,554.9 493.9,555.1C493.9,555.4 493.9,555.6 493.9,555.9C493.8,556.1 493.7,556.3 493.6,556.5C493.6,556.8 493.5,557.0 493.4,557.3C493.3,557.5 493.2,557.8 493.1,558.1C493.0,558.4 492.9,558.8 492.8,559.1C492.7,559.5 492.5,559.9 492.4,560.3C492.2,560.8 492.1,561.4 491.9,561.8C491.7,562.3 491.4,562.7 491.1,563.1C490.8,563.5 490.5,563.9 490.2,564.4C489.8,564.9 489.4,565.5 489.0,565.9C488.6,566.4 488.1,566.7 487.6,566.9C487.1,567.1 486.6,567.2 486.1,567.3C485.6,567.5 485.0,567.8 484.5,567.7C484.0,567.7 483.6,567.2 483.2,567.0C482.8,566.7 482.3,566.5 481.9,566.2C481.5,566.0 481.0,565.8 480.7,565.4C480.3,565.1 480.1,564.6 479.8,564.2C479.5,563.8 479.2,563.4 479.0,563.0C478.7,562.6 478.4,562.2 478.2,561.8C477.9,561.4 477.7,561.0 477.6,560.6C477.4,560.2 477.3,559.7 477.2,559.3C477.1,558.8 476.9,558.4 476.8,558.0C476.7,557.6 476.6,557.2 476.5,556.8C476.4,556.4 476.3,556.0 476.3,555.6C476.2,555.2 476.3,554.8 476.3,554.4C476.4,554.0 476.4,553.6 476.4,553.2C476.4,552.8 476.4,552.5 476.5,552.1C476.5,551.7 476.5,551.4 476.5,551.0C476.5,550.6 476.5,550.3 476.6,549.9C476.7,549.6 476.9,549.2 477.1,548.9C477.3,548.6 477.7,548.3 478.0,548.1C478.3,547.8 478.6,547.5 478.8,547.3C479.1,547.1 479.3,546.8 479.6,546.6C479.8,546.4 480.0,546.2 480.3,546.0C480.5,545.8 480.7,545.6 481.0,545.4C481.3,545.2 481.6,545.1 481.9,545.0C482.1,544.9 482.4,544.8 482.6,544.6C482.9,544.5 483.1,544.4 483.4,544.3C483.6,544.2 483.9,544.1 484.1,544.0C484.3,543.9 484.6,543.8 484.8,543.7C485.0,543.6 485.2,543.5 485.4,543.4C485.7,543.3 485.9,543.2 486.1,543.1C486.3,543.0 486.6,542.9 486.8,542.9C487.1,542.8 487.3,542.7 487.5,542.7C487.8,542.6 488.0,542.5 488.3,542.5C488.5,542.4 488.7,542.4 489.0,542.3C489.3,542.2 489.5,542.1 489.8,542.1C490.1,542.0 490.3,541.9 490.6,541.8C490.9,541.8 491.2,541.6 491.5,541.6C491.8,541.6 492.1,541.7 492.3,541.8C492.6,541.9 492.9,542.0 493.1,542.2C493.4,542.3 493.7,542.3 493.9,542.5C494.1,542.7 494.3,542.9 494.4,543.3C494.5,543.6 494.4,544.1 494.5,544.5C494.5,544.9 494.5,545.2 494.5,545.5C494.5,545.8 494.5,546.1 494.5,546.4C494.6,546.6 494.6,546.9 494.6,547.1C494.6,547.3 494.6,547.6 494.6,547.8C494.6,548.0 494.6,548.2 494.6,548.4C494.6,548.6 494.6,548.8 494.6,548.9C494.7,549.1 494.7,549.3 494.6,549.5C494.6,549.7 494.6,549.8 494.6,550.0C494.6,550.2 494.5,550.4 494.5,550.5C494.5,550.7 494.5,550.8 494.5,551.0Z" fill="none" stroke="#151515" stroke-width="0.9"/>
<path d="M494.0,551.0C493.9,551.1 493.9,551.3 493.9,551.4C493.9,551.6 493.9,551.7 493.9,551.9C493.8,552.0 493.8,552.1 493.8,552.3C493.8,552.4 493.8,552.6 493.7,552.7C493.7,552.9 493.7,553.0 493.7,553.2C493.7,553.3 493.6,553.5 493.6,553.7C493.6,553.8 493.6,554.0 493.6,554.2C493.5,554.4 493.5,554.6 493.5,554.8C493.5,555.0 493.5,555.2 493.4,555.4C493.4,555.6 493.3,555.8 493.2,556.0C493.2,556.3 493.1,556.5 493.0,556.7C492.9,557.0 492.8,557.2 492.7,557.5C492.7,557.8 492.6,558.1 492.4,558.4C492.3,558.7 492.2,559.1 492.1,559.5C492.0,559.9 491.8,560.4 491.6,560.8C491.4,561.3 491.2,561.6 490.9,562.0C490.7,562.4 490.4,562.7 490.1,563.2C489.7,563.6 489.4,564.2 489.0,564.6C488.6,565.0 488.2,565.3 487.7,565.5C487.3,565.7 486.8,565.7 486.4,565.9C485.9,566.0 485.4,566.3 484.9,566.2C484.5,566.2 484.1,565.7 483.7,565.5C483.3,565.3 482.9,565.1 482.5,564.8C482.2,564.6 481.7,564.4 481.4,564.1C481.1,563.8 480.9,563.3 480.6,563.0C480.4,562.6 480.1,562.2 479.9,561.9C479.6,561.5 479.4,561.2 479.2,560.8C478.9,560.5 478.8,560.1 478.6,559.7C478.5,559.3 478.4,558.9 478.3,558.5C478.1,558.1 478.0,557.8 477.9,557.4C477.8,557.0 477.7,556.7 477.6,556.3C477.5,555.9 477.4,555.6 477.4,555.2C477.4,554.8 477.5,554.5 477.5,554.1C477.5,553.7 477.5,553.4 477.5,553.0C477.6,552.7 477.6,552.3 477.6,552.0C477.6,551.7 477.6,551.3 477.7,551.0C477.7,550.7 477.6,550.3 477.7,550.0C477.8,549.7 478.0,549.4 478.2,549.1C478.4,548.8 478.7,548.6 479.0,548.3C479.3,548.1 479.5,547.9 479.8,547.6C480.0,547.4 480.2,547.2 480.4,547.0C480.6,546.8 480.8,546.6 481.1,546.4C481.3,546.2 481.5,546.0 481.7,545.9C482.0,545.8 482.3,545.7 482.5,545.5C482.8,545.4 483.0,545.3 483.2,545.2C483.5,545.1 483.7,545.0 483.9,544.9C484.1,544.8 484.3,544.7 484.5,544.6C484.8,544.5 485.0,544.4 485.2,544.4C485.4,544.3 485.6,544.2 485.8,544.1C486.0,544.0 486.2,543.9 486.4,543.8C486.6,543.7 486.8,543.7 487.0,543.6C487.2,543.5 487.4,543.5 487.7,543.4C487.9,543.4 488.1,543.3 488.3,543.3C488.5,543.2 488.8,543.1 489.0,543.1C489.2,543.0 489.5,542.9 489.7,542.9C490.0,542.8 490.2,542.7 490.5,542.7C490.7,542.6 491.0,542.5 491.3,542.5C491.6,542.5 491.8,542.6 492.0,542.6C492.3,542.7 492.5,542.9 492.7,543.0C493.0,543.1 493.3,543.1 493.4,543.3C493.6,543.5 493.8,543.7 493.9,544.0C494.0,544.3 494.0,544.7 494.0,545.1C494.0,545.4 494.0,545.7 494.0,546.0C494.0,546.3 494.0,546.5 494.0,546.8C494.0,547.0 494.1,547.2 494.1,547.5C494.1,547.7 494.1,547.9 494.1,548.1C494.1,548.3 494.1,548.4 494.1,548.6C494.1,548.8 494.1,549.0 494.1,549.1C494.1,549.3 494.1,549.5 494.1,549.6C494.1,549.8 494.1,549.9 494.1,550.1C494.1,550.3 494.0,550.4 494.0,550.6C494.0,550.7 494.0,550.9 494.0,551.0Z" fill="none" stroke="#151515" stroke-width="0.9"/>
<path d="M493.5,551.0C493.4,551.1 493.4,551.3 493.4,551.4C493.4,551.5 493.4,551.6 493.4,551.8C493.4,551.9 493.3,552.0 493.3,552.2C493.3,552.3 493.3,552.4 493.3,552.6C493.3,552.7 493.2,552.8 493.2,553.0C493.2,553.1 493.2,553.3 493.2,553.4C493.1,553.6 493.1,553.7 493.1,553.9C493.1,554.0 493.1,554.2 493.0,554.4C493.0,554.6 493.0,554.8 493.0,555.0C492.9,555.2 492.9,555.3 492.8,555.5C492.7,555.7 492.7,555.9 492.6,556.1C492.5,556.4 492.5,556.6 492.4,556.8C492.3,557.1 492.2,557.4 492.1,557.6C492.0,557.9 491.9,558.3 491.8,558.6C491.7,559.0 491.5,559.5 491.4,559.9C491.2,560.2 491.0,560.5 490.7,560.9C490.5,561.2 490.2,561.6 490.0,561.9C489.7,562.3 489.3,562.9 489.0,563.2C488.7,563.6 488.3,563.8 487.9,564.0C487.5,564.2 487.1,564.3 486.6,564.4C486.2,564.5 485.7,564.7 485.3,564.7C484.9,564.6 484.6,564.3 484.2,564.1C483.9,563.9 483.5,563.7 483.2,563.5C482.8,563.3 482.5,563.1 482.2,562.8C481.9,562.5 481.7,562.1 481.5,561.8C481.2,561.4 481.0,561.1 480.8,560.8C480.6,560.5 480.3,560.2 480.1,559.9C480.0,559.5 479.8,559.2 479.6,558.9C479.5,558.5 479.4,558.1 479.3,557.8C479.2,557.4 479.1,557.1 479.0,556.7C478.9,556.4 478.8,556.1 478.8,555.8C478.7,555.4 478.6,555.1 478.6,554.8C478.6,554.5 478.6,554.1 478.6,553.8C478.7,553.4 478.7,553.1 478.7,552.8C478.7,552.5 478.7,552.2 478.7,551.9C478.8,551.6 478.8,551.3 478.8,551.0C478.8,550.7 478.8,550.4 478.8,550.1C478.9,549.8 479.1,549.5 479.3,549.3C479.5,549.0 479.8,548.8 480.0,548.6C480.2,548.4 480.5,548.2 480.7,548.0C480.9,547.8 481.1,547.6 481.3,547.4C481.5,547.2 481.7,547.0 481.9,546.9C482.0,546.7 482.2,546.5 482.4,546.4C482.7,546.3 482.9,546.2 483.2,546.1C483.4,546.0 483.6,545.9 483.8,545.8C484.0,545.7 484.2,545.6 484.4,545.5C484.6,545.4 484.8,545.4 485.0,545.3C485.2,545.2 485.4,545.1 485.5,545.0C485.7,544.9 485.9,544.9 486.1,544.8C486.3,544.7 486.5,544.6 486.6,544.5C486.8,544.5 487.0,544.4 487.2,544.3C487.4,544.3 487.6,544.2 487.8,544.2C488.0,544.1 488.2,544.1 488.4,544.0C488.6,544.0 488.8,543.9 489.0,543.9C489.2,543.8 489.4,543.8 489.6,543.7C489.9,543.6 490.1,543.6 490.3,543.5C490.6,543.4 490.8,543.3 491.1,543.3C491.3,543.3 491.5,543.4 491.7,543.5C492.0,543.6 492.2,543.7 492.4,543.8C492.6,543.9 492.8,543.9 493.0,544.1C493.2,544.2 493.4,544.4 493.4,544.7C493.5,544.9 493.5,545.4 493.5,545.7C493.5,546.0 493.5,546.2 493.5,546.5C493.5,546.8 493.5,547.0 493.5,547.2C493.5,547.4 493.6,547.6 493.6,547.8C493.6,548.0 493.6,548.2 493.6,548.4C493.6,548.5 493.6,548.7 493.6,548.9C493.6,549.0 493.6,549.2 493.6,549.3C493.6,549.5 493.6,549.6 493.6,549.8C493.6,549.9 493.6,550.1 493.6,550.2C493.5,550.3 493.5,550.5 493.5,550.6C493.5,550.7 493.5,550.9 493.5,551.0Z" fill="none" stroke="#151515" stroke-width="0.9"/>
<path d="M493.0,551.0C493.0,551.1 492.9,551.2 492.9,551.3C492.9,551.5 492.9,551.6 492.9,551.7C492.9,551.8 492.9,551.9 492.8,552.0C492.8,552.1 492.8,552.3 492.8,552.4C492.8,552.5 492.8,552.6 492.8,552.7C492.7,552.9 492.7,553.0 492.7,553.1C492.7,553.3 492.7,553.4 492.7,553.6C492.6,553.7 492.6,553.9 492.6,554.0C492.6,554.2 492.6,554.4 492.5,554.5C492.5,554.7 492.4,554.9 492.4,555.0C492.3,555.2 492.3,555.4 492.2,555.6C492.1,555.8 492.1,556.0 492.0,556.2C491.9,556.4 491.8,556.6 491.8,556.9C491.7,557.2 491.6,557.5 491.5,557.8C491.4,558.1 491.3,558.5 491.1,558.9C491.0,559.2 490.8,559.5 490.6,559.8C490.3,560.1 490.1,560.4 489.9,560.7C489.6,561.1 489.3,561.6 489.0,561.9C488.7,562.2 488.3,562.4 488.0,562.6C487.6,562.7 487.3,562.8 486.9,562.9C486.5,563.0 486.1,563.2 485.7,563.2C485.4,563.1 485.1,562.8 484.8,562.6C484.5,562.4 484.1,562.3 483.8,562.1C483.5,561.9 483.2,561.8 482.9,561.5C482.7,561.3 482.5,560.9 482.3,560.6C482.1,560.3 481.9,560.0 481.7,559.7C481.5,559.4 481.3,559.2 481.1,558.9C481.0,558.6 480.8,558.3 480.7,558.0C480.6,557.7 480.5,557.3 480.4,557.0C480.3,556.7 480.2,556.4 480.1,556.1C480.1,555.8 480.0,555.5 479.9,555.2C479.8,555.0 479.8,554.7 479.7,554.4C479.7,554.1 479.8,553.8 479.8,553.5C479.8,553.2 479.8,552.9 479.8,552.6C479.9,552.3 479.9,552.1 479.9,551.8C479.9,551.5 479.9,551.3 479.9,551.0C479.9,550.7 479.9,550.5 480.0,550.2C480.0,550.0 480.2,549.7 480.3,549.5C480.5,549.2 480.8,549.1 481.0,548.9C481.2,548.7 481.4,548.5 481.6,548.3C481.8,548.1 482.0,548.0 482.1,547.8C482.3,547.6 482.5,547.5 482.6,547.3C482.8,547.2 483.0,547.0 483.2,546.9C483.4,546.8 483.6,546.7 483.8,546.6C484.0,546.5 484.2,546.5 484.4,546.4C484.6,546.3 484.7,546.2 484.9,546.1C485.1,546.1 485.3,546.0 485.4,545.9C485.6,545.8 485.8,545.8 485.9,545.7C486.1,545.6 486.3,545.5 486.4,545.5C486.6,545.4 486.7,545.3 486.9,545.2C487.1,545.2 487.2,545.1 487.4,545.1C487.6,545.0 487.8,545.0 487.9,544.9C488.1,544.9 488.3,544.9 488.5,544.8C488.6,544.8 488.8,544.7 489.0,544.7C489.2,544.6 489.4,544.6 489.6,544.5C489.8,544.5 490.0,544.4 490.2,544.3C490.4,544.3 490.6,544.2 490.8,544.2C491.0,544.2 491.2,544.2 491.4,544.3C491.6,544.4 491.8,544.5 492.0,544.6C492.2,544.7 492.4,544.7 492.6,544.8C492.7,545.0 492.9,545.1 492.9,545.4C493.0,545.6 493.0,546.0 493.0,546.3C493.0,546.5 493.0,546.8 493.0,547.0C493.0,547.2 493.0,547.4 493.0,547.6C493.0,547.8 493.0,548.0 493.1,548.2C493.1,548.3 493.1,548.5 493.1,548.6C493.1,548.8 493.1,548.9 493.1,549.1C493.1,549.2 493.1,549.4 493.1,549.5C493.1,549.6 493.1,549.8 493.1,549.9C493.1,550.0 493.1,550.2 493.1,550.3C493.0,550.4 493.0,550.5 493.0,550.6C493.0,550.8 493.0,550.9 493.0,551.0Z" fill="none" stroke="#151515" stroke-width="0.9"/>
<path d="M492.5,551.0C492.5,551.1 492.4,551.2 492.4,551.3C492.4,551.4 492.4,551.5 492.4,551.6C492.4,551.7 492.4,551.8 492.4,551.9C492.3,552.0 492.3,552.1 492.3,552.2C492.3,552.3 492.3,552.4 492.3,552.5C492.3,552.6 492.3,552.8 492.2,552.9C492.2,553.0 492.2,553.1 492.2,553.2C492.2,553.4 492.2,553.5 492.1,553.6C492.1,553.8 492.1,553.9 492.1,554.1C492.1,554.2 492.0,554.4 492.0,554.5C491.9,554.7 491.9,554.8 491.8,555.0C491.7,555.2 491.7,555.3 491.6,555.5C491.6,555.7 491.5,555.9 491.4,556.2C491.3,556.4 491.3,556.6 491.2,556.9C491.1,557.2 491.0,557.6 490.8,557.9C490.7,558.2 490.5,558.4 490.4,558.7C490.2,559.0 490.0,559.2 489.7,559.5C489.5,559.8 489.3,560.2 489.0,560.5C488.7,560.8 488.4,561.0 488.1,561.1C487.8,561.3 487.5,561.3 487.2,561.4C486.8,561.5 486.5,561.7 486.1,561.6C485.8,561.6 485.6,561.3 485.3,561.2C485.0,561.0 484.7,560.9 484.5,560.7C484.2,560.5 483.9,560.4 483.7,560.2C483.5,560.0 483.3,559.6 483.1,559.4C483.0,559.1 482.8,558.9 482.6,558.6C482.4,558.4 482.3,558.1 482.1,557.9C482.0,557.6 481.8,557.4 481.7,557.1C481.6,556.8 481.6,556.5 481.5,556.3C481.4,556.0 481.3,555.7 481.3,555.5C481.2,555.2 481.1,555.0 481.0,554.7C481.0,554.5 480.9,554.2 480.9,554.0C480.9,553.7 480.9,553.4 480.9,553.2C481.0,552.9 481.0,552.7 481.0,552.4C481.0,552.2 481.0,551.9 481.0,551.7C481.0,551.5 481.1,551.2 481.1,551.0C481.1,550.8 481.0,550.5 481.1,550.3C481.2,550.1 481.3,549.9 481.4,549.7C481.6,549.5 481.8,549.3 482.0,549.1C482.2,549.0 482.4,548.8 482.5,548.6C482.7,548.5 482.8,548.3 483.0,548.2C483.2,548.1 483.3,547.9 483.4,547.8C483.6,547.7 483.7,547.5 483.9,547.4C484.1,547.3 484.3,547.3 484.5,547.2C484.6,547.1 484.8,547.0 485.0,547.0C485.1,546.9 485.3,546.8 485.4,546.7C485.6,546.7 485.7,546.6 485.9,546.5C486.0,546.5 486.2,546.4 486.3,546.3C486.5,546.3 486.6,546.2 486.7,546.2C486.9,546.1 487.0,546.0 487.2,546.0C487.3,545.9 487.5,545.9 487.6,545.8C487.8,545.8 487.9,545.7 488.1,545.7C488.2,545.7 488.4,545.6 488.5,545.6C488.7,545.5 488.8,545.5 489.0,545.5C489.2,545.4 489.3,545.4 489.5,545.3C489.7,545.3 489.8,545.2 490.0,545.2C490.2,545.1 490.4,545.0 490.6,545.0C490.8,545.0 491.0,545.1 491.1,545.2C491.3,545.2 491.5,545.3 491.6,545.4C491.8,545.5 492.0,545.5 492.1,545.6C492.3,545.7 492.4,545.9 492.4,546.1C492.5,546.3 492.5,546.6 492.5,546.9C492.5,547.1 492.5,547.3 492.5,547.5C492.5,547.7 492.5,547.9 492.5,548.0C492.5,548.2 492.5,548.4 492.5,548.5C492.6,548.7 492.6,548.8 492.6,548.9C492.6,549.1 492.6,549.2 492.6,549.3C492.6,549.5 492.6,549.6 492.6,549.7C492.6,549.8 492.6,549.9 492.6,550.0C492.6,550.2 492.6,550.3 492.6,550.4C492.5,550.5 492.5,550.6 492.5,550.7C492.5,550.8 492.5,550.9 492.5,551.0Z" fill="none" stroke="#151515" stroke-width="0.9"/>
<path d="M492.0,551.0C492.0,551.1 492.0,551.2 491.9,551.3C491.9,551.3 491.9,551.4 491.9,551.5C491.9,551.6 491.9,551.7 491.9,551.8C491.9,551.9 491.9,551.9 491.8,552.0C491.8,552.1 491.8,552.2 491.8,552.3C491.8,552.4 491.8,552.5 491.8,552.6C491.8,552.7 491.8,552.8 491.7,552.9C491.7,553.0 491.7,553.1 491.7,553.3C491.7,553.4 491.7,553.5 491.6,553.6C491.6,553.8 491.6,553.9 491.5,554.0C491.5,554.2 491.4,554.3 491.4,554.4C491.4,554.6 491.3,554.7 491.2,554.9C491.2,555.1 491.1,555.2 491.1,555.4C491.0,555.6 490.9,555.8 490.9,556.1C490.8,556.3 490.7,556.7 490.6,556.9C490.5,557.2 490.3,557.4 490.2,557.6C490.0,557.8 489.8,558.0 489.6,558.3C489.4,558.6 489.2,558.9 489.0,559.1C488.8,559.4 488.5,559.6 488.2,559.7C488.0,559.8 487.7,559.8 487.4,559.9C487.1,560.0 486.8,560.2 486.6,560.1C486.3,560.1 486.1,559.8 485.8,559.7C485.6,559.6 485.4,559.4 485.1,559.3C484.9,559.2 484.6,559.1 484.5,558.9C484.3,558.7 484.1,558.4 484.0,558.2C483.8,558.0 483.7,557.7 483.5,557.5C483.4,557.3 483.2,557.1 483.1,556.9C483.0,556.7 482.9,556.5 482.8,556.2C482.7,556.0 482.6,555.7 482.6,555.5C482.5,555.3 482.4,555.1 482.4,554.8C482.3,554.6 482.2,554.4 482.2,554.2C482.1,554.0 482.1,553.8 482.0,553.5C482.0,553.3 482.1,553.1 482.1,552.9C482.1,552.6 482.1,552.4 482.1,552.2C482.1,552.0 482.2,551.8 482.2,551.6C482.2,551.4 482.2,551.2 482.2,551.0C482.2,550.8 482.2,550.6 482.2,550.4C482.3,550.2 482.4,550.0 482.5,549.9C482.6,549.7 482.8,549.5 483.0,549.4C483.2,549.2 483.3,549.1 483.5,549.0C483.6,548.8 483.7,548.7 483.9,548.6C484.0,548.5 484.1,548.4 484.2,548.2C484.4,548.1 484.5,548.0 484.6,547.9C484.8,547.9 485.0,547.8 485.1,547.7C485.3,547.7 485.4,547.6 485.5,547.5C485.7,547.5 485.8,547.4 485.9,547.4C486.1,547.3 486.2,547.2 486.3,547.2C486.5,547.1 486.6,547.1 486.7,547.0C486.8,547.0 486.9,546.9 487.1,546.8C487.2,546.8 487.3,546.7 487.4,546.7C487.6,546.6 487.7,546.6 487.8,546.6C487.9,546.5 488.1,546.5 488.2,546.5C488.3,546.4 488.5,546.4 488.6,546.4C488.7,546.3 488.9,546.3 489.0,546.2C489.1,546.2 489.3,546.2 489.4,546.1C489.6,546.1 489.7,546.0 489.9,546.0C490.0,546.0 490.2,545.9 490.4,545.9C490.5,545.9 490.7,545.9 490.8,546.0C491.0,546.0 491.1,546.1 491.2,546.2C491.4,546.2 491.6,546.3 491.7,546.4C491.8,546.5 491.9,546.6 492.0,546.8C492.0,547.0 492.0,547.2 492.0,547.4C492.0,547.7 492.0,547.8 492.0,548.0C492.0,548.2 492.0,548.3 492.0,548.5C492.0,548.6 492.0,548.7 492.0,548.9C492.0,549.0 492.0,549.1 492.1,549.2C492.1,549.4 492.1,549.5 492.1,549.6C492.1,549.7 492.1,549.8 492.1,549.9C492.1,550.0 492.1,550.1 492.1,550.2C492.1,550.3 492.1,550.4 492.0,550.5C492.0,550.6 492.0,550.6 492.0,550.7C492.0,550.8 492.0,550.9 492.0,551.0Z" fill="none" stroke="#151515" stroke-width="0.9"/>
<path d="M495.2,551.0C495.1,551.2 495.1,551.4 495.1,551.5C495.1,551.7 495.0,551.9 495.0,552.1C495.0,552.2 495.0,552.4 495.0,552.6C494.9,552.8 494.9,553.0 494.9,553.1C494.9,553.3 494.8,553.5 494.8,553.7C494.8,553.9 494.8,554.1 494.7,554.3C494.7,554.5 494.7,554.7 494.7,555.0C494.6,555.2 494.6,555.4 494.6,555.7C494.5,555.9 494.5,556.2 494.5,556.5C494.4,556.7 494.3,557.0 494.2,557.2C494.2,557.5 494.1,557.8 494.0,558.1C493.9,558.4 493.8,558.7 493.6,559.0C493.5,559.4 493.4,559.8 493.3,560.2C493.1,560.6 493.0,561.0 492.8,561.5C492.7,562.0 492.5,562.7 492.3,563.2C492.0,563.7 491.7,564.2 491.4,564.6C491.1,565.1 490.7,565.5 490.3,566.1C489.9,566.6 489.5,567.4 489.0,567.8C488.5,568.3 488.0,568.7 487.4,568.9C486.9,569.2 486.3,569.3 485.8,569.4C485.2,569.6 484.5,569.9 483.9,569.9C483.4,569.8 482.9,569.3 482.4,569.0C482.0,568.7 481.5,568.5 481.0,568.2C480.5,567.9 480.0,567.7 479.6,567.3C479.2,566.9 478.9,566.3 478.6,565.8C478.3,565.4 478.0,564.9 477.7,564.5C477.4,564.1 477.1,563.7 476.8,563.2C476.5,562.8 476.3,562.3 476.1,561.8C475.9,561.3 475.8,560.8 475.7,560.3C475.5,559.8 475.4,559.4 475.3,558.9C475.2,558.5 475.0,558.0 474.9,557.6C474.8,557.1 474.7,556.7 474.6,556.2C474.6,555.8 474.7,555.3 474.7,554.8C474.7,554.4 474.8,553.9 474.8,553.5C474.8,553.1 474.8,552.7 474.9,552.2C474.9,551.8 474.9,551.4 474.9,551.0C475.0,550.6 474.9,550.2 475.0,549.8C475.1,549.4 475.3,549.0 475.6,548.6C475.9,548.3 476.3,548.0 476.6,547.7C476.9,547.4 477.2,547.1 477.5,546.8C477.8,546.6 478.1,546.3 478.4,546.0C478.6,545.8 478.9,545.5 479.2,545.3C479.4,545.1 479.7,544.9 480.0,544.7C480.3,544.5 480.6,544.4 480.9,544.2C481.3,544.1 481.5,544.0 481.8,543.8C482.1,543.7 482.4,543.6 482.7,543.5C482.9,543.3 483.2,543.2 483.5,543.1C483.7,543.0 484.0,542.9 484.2,542.8C484.5,542.6 484.7,542.5 485.0,542.4C485.2,542.3 485.5,542.2 485.8,542.1C486.0,542.0 486.3,541.9 486.5,541.8C486.8,541.8 487.1,541.7 487.3,541.6C487.6,541.5 487.9,541.5 488.2,541.4C488.4,541.3 488.7,541.3 489.0,541.2C489.3,541.1 489.6,541.0 489.9,540.9C490.2,540.9 490.5,540.8 490.8,540.7C491.1,540.6 491.5,540.4 491.8,540.4C492.2,540.4 492.5,540.5 492.8,540.6C493.1,540.7 493.4,540.9 493.6,541.0C493.9,541.2 494.3,541.2 494.5,541.4C494.8,541.7 495.0,541.9 495.1,542.3C495.2,542.7 495.1,543.2 495.2,543.7C495.2,544.1 495.2,544.4 495.2,544.8C495.2,545.1 495.2,545.5 495.2,545.8C495.3,546.1 495.3,546.3 495.3,546.6C495.3,546.9 495.3,547.1 495.3,547.4C495.3,547.6 495.3,547.8 495.3,548.0C495.3,548.3 495.4,548.5 495.4,548.7C495.4,548.9 495.4,549.1 495.4,549.3C495.4,549.5 495.3,549.7 495.3,549.9C495.3,550.1 495.2,550.3 495.2,550.5C495.2,550.6 495.2,550.8 495.2,551.0Z" fill="#1e1e1e" stroke="#111" stroke-width="0.9"/>
<path d="M493.9,551.0C493.9,551.1 493.9,551.3 493.9,551.4C493.9,551.6 493.8,551.7 493.8,551.8C493.8,552.0 493.8,552.1 493.8,552.3C493.7,552.4 493.7,552.6 493.7,552.7C493.7,552.9 493.7,553.0 493.7,553.2C493.6,553.3 493.6,553.5 493.6,553.7C493.6,553.8 493.5,554.0 493.5,554.2C493.5,554.4 493.5,554.5 493.5,554.7C493.4,554.9 493.4,555.2 493.4,555.4C493.3,555.6 493.3,555.8 493.2,556.0C493.1,556.2 493.0,556.4 493.0,556.7C492.9,556.9 492.8,557.2 492.7,557.4C492.6,557.7 492.5,558.0 492.4,558.3C492.3,558.7 492.2,559.0 492.1,559.4C491.9,559.8 491.8,560.3 491.6,560.8C491.4,561.2 491.2,561.5 490.9,561.9C490.7,562.3 490.4,562.6 490.1,563.1C489.7,563.5 489.4,564.1 489.0,564.5C488.6,564.9 488.2,565.1 487.7,565.4C487.3,565.6 486.9,565.6 486.4,565.7C485.9,565.9 485.4,566.1 485.0,566.1C484.5,566.0 484.2,565.6 483.8,565.4C483.4,565.2 483.0,565.0 482.6,564.7C482.2,564.5 481.8,564.3 481.5,564.0C481.2,563.7 480.9,563.2 480.7,562.9C480.4,562.5 480.2,562.1 479.9,561.8C479.7,561.4 479.4,561.1 479.2,560.8C479.0,560.4 478.8,560.0 478.7,559.7C478.5,559.3 478.5,558.8 478.3,558.5C478.2,558.1 478.1,557.7 478.0,557.3C477.9,557.0 477.8,556.6 477.7,556.3C477.6,555.9 477.5,555.5 477.5,555.2C477.5,554.8 477.6,554.4 477.6,554.1C477.6,553.7 477.6,553.3 477.6,553.0C477.7,552.7 477.7,552.3 477.7,552.0C477.7,551.7 477.7,551.3 477.8,551.0C477.8,550.7 477.7,550.3 477.8,550.0C477.9,549.7 478.1,549.4 478.3,549.1C478.5,548.8 478.8,548.6 479.1,548.3C479.3,548.1 479.6,547.9 479.8,547.7C480.1,547.4 480.3,547.2 480.5,547.0C480.7,546.8 480.9,546.6 481.1,546.5C481.3,546.3 481.5,546.1 481.8,545.9C482.0,545.8 482.3,545.7 482.6,545.6C482.8,545.5 483.0,545.4 483.3,545.3C483.5,545.2 483.7,545.1 483.9,545.0C484.2,544.9 484.4,544.8 484.6,544.7C484.8,544.6 485.0,544.5 485.2,544.4C485.4,544.3 485.6,544.2 485.8,544.1C486.0,544.0 486.2,543.9 486.4,543.9C486.6,543.8 486.8,543.7 487.0,543.7C487.2,543.6 487.5,543.6 487.7,543.5C487.9,543.4 488.1,543.4 488.3,543.3C488.5,543.3 488.8,543.2 489.0,543.1C489.2,543.1 489.5,543.0 489.7,542.9C489.9,542.9 490.2,542.8 490.5,542.7C490.7,542.7 491.0,542.5 491.3,542.5C491.5,542.5 491.8,542.6 492.0,542.7C492.3,542.8 492.5,542.9 492.7,543.0C492.9,543.1 493.2,543.2 493.4,543.4C493.6,543.5 493.8,543.7 493.9,544.0C494.0,544.3 493.9,544.8 493.9,545.1C493.9,545.5 494.0,545.8 494.0,546.0C494.0,546.3 494.0,546.6 494.0,546.8C494.0,547.0 494.0,547.3 494.0,547.5C494.0,547.7 494.0,547.9 494.0,548.1C494.1,548.3 494.1,548.5 494.1,548.6C494.1,548.8 494.1,549.0 494.1,549.1C494.1,549.3 494.1,549.5 494.1,549.6C494.1,549.8 494.1,550.0 494.0,550.1C494.0,550.3 494.0,550.4 494.0,550.6C494.0,550.7 493.9,550.9 493.9,551.0Z" fill="none" stroke="#555" stroke-width="0.5"/>
<path d="M492.7,551.0C492.7,551.1 492.7,551.2 492.7,551.3C492.6,551.4 492.6,551.5 492.6,551.6C492.6,551.7 492.6,551.8 492.6,552.0C492.6,552.1 492.5,552.2 492.5,552.3C492.5,552.4 492.5,552.5 492.5,552.6C492.5,552.7 492.5,552.9 492.4,553.0C492.4,553.1 492.4,553.2 492.4,553.4C492.4,553.5 492.4,553.7 492.3,553.8C492.3,554.0 492.3,554.1 492.3,554.3C492.2,554.4 492.2,554.6 492.1,554.7C492.1,554.9 492.0,555.1 492.0,555.2C491.9,555.4 491.9,555.6 491.8,555.8C491.7,556.0 491.6,556.3 491.6,556.5C491.5,556.7 491.4,557.0 491.3,557.3C491.2,557.6 491.1,558.0 491.0,558.3C490.8,558.6 490.6,558.9 490.4,559.2C490.2,559.5 490.0,559.7 489.8,560.1C489.6,560.4 489.3,560.8 489.0,561.1C488.7,561.4 488.4,561.6 488.1,561.8C487.7,561.9 487.4,562.0 487.1,562.1C486.7,562.1 486.3,562.4 486.0,562.3C485.6,562.3 485.4,562.0 485.1,561.8C484.8,561.6 484.5,561.5 484.2,561.3C483.9,561.1 483.6,561.0 483.4,560.8C483.1,560.5 483.0,560.2 482.8,559.9C482.6,559.6 482.4,559.4 482.2,559.1C482.0,558.8 481.8,558.6 481.7,558.3C481.5,558.1 481.4,557.8 481.3,557.5C481.2,557.2 481.1,556.9 481.0,556.6C480.9,556.3 480.8,556.0 480.8,555.8C480.7,555.5 480.6,555.2 480.5,554.9C480.5,554.7 480.4,554.4 480.4,554.1C480.4,553.9 480.4,553.6 480.4,553.3C480.4,553.0 480.5,552.8 480.5,552.5C480.5,552.2 480.5,552.0 480.5,551.7C480.5,551.5 480.6,551.2 480.6,551.0C480.6,550.8 480.5,550.5 480.6,550.3C480.7,550.0 480.8,549.8 481.0,549.6C481.1,549.4 481.4,549.2 481.6,549.0C481.8,548.8 481.9,548.7 482.1,548.5C482.3,548.3 482.5,548.2 482.6,548.0C482.8,547.9 482.9,547.7 483.1,547.6C483.3,547.5 483.4,547.3 483.6,547.2C483.8,547.1 484.0,547.0 484.2,546.9C484.4,546.9 484.5,546.8 484.7,546.7C484.9,546.6 485.0,546.6 485.2,546.5C485.4,546.4 485.5,546.3 485.7,546.3C485.8,546.2 486.0,546.1 486.1,546.1C486.3,546.0 486.4,545.9 486.6,545.8C486.7,545.8 486.9,545.7 487.1,545.6C487.2,545.6 487.4,545.5 487.5,545.5C487.7,545.5 487.8,545.4 488.0,545.4C488.2,545.3 488.3,545.3 488.5,545.2C488.7,545.2 488.8,545.2 489.0,545.1C489.2,545.1 489.3,545.0 489.5,545.0C489.7,544.9 489.9,544.9 490.1,544.8C490.3,544.8 490.5,544.6 490.7,544.6C490.9,544.6 491.1,544.7 491.3,544.8C491.4,544.8 491.6,544.9 491.8,545.0C492.0,545.1 492.2,545.1 492.3,545.3C492.5,545.4 492.6,545.6 492.7,545.8C492.7,546.0 492.7,546.3 492.7,546.6C492.7,546.8 492.7,547.1 492.7,547.3C492.7,547.5 492.7,547.7 492.7,547.9C492.8,548.0 492.8,548.2 492.8,548.4C492.8,548.5 492.8,548.7 492.8,548.8C492.8,549.0 492.8,549.1 492.8,549.2C492.8,549.4 492.8,549.5 492.8,549.6C492.8,549.7 492.8,549.9 492.8,550.0C492.8,550.1 492.8,550.2 492.8,550.3C492.8,550.5 492.7,550.6 492.7,550.7C492.7,550.8 492.7,550.9 492.7,551.0Z" fill="none" stroke="#555" stroke-width="0.5"/>
<path d="M491.5,551.0C491.5,551.1 491.4,551.1 491.4,551.2C491.4,551.3 491.4,551.4 491.4,551.4C491.4,551.5 491.4,551.6 491.4,551.6C491.4,551.7 491.4,551.8 491.4,551.9C491.3,551.9 491.3,552.0 491.3,552.1C491.3,552.2 491.3,552.2 491.3,552.3C491.3,552.4 491.3,552.5 491.3,552.6C491.3,552.7 491.2,552.8 491.2,552.9C491.2,553.0 491.2,553.1 491.2,553.2C491.2,553.3 491.1,553.4 491.1,553.5C491.1,553.6 491.0,553.7 491.0,553.8C490.9,554.0 490.9,554.1 490.9,554.2C490.8,554.4 490.8,554.5 490.7,554.7C490.7,554.8 490.6,555.0 490.5,555.2C490.5,555.4 490.4,555.7 490.3,555.9C490.2,556.1 490.1,556.3 490.0,556.5C489.8,556.6 489.7,556.8 489.5,557.0C489.4,557.2 489.2,557.5 489.0,557.7C488.8,557.9 488.6,558.1 488.4,558.2C488.2,558.3 487.9,558.3 487.7,558.4C487.5,558.4 487.2,558.6 487.0,558.5C486.8,558.5 486.6,558.3 486.4,558.2C486.2,558.1 486.0,558.0 485.8,557.9C485.6,557.8 485.4,557.7 485.2,557.5C485.1,557.4 485.0,557.1 484.8,556.9C484.7,556.8 484.6,556.6 484.5,556.4C484.4,556.2 484.2,556.1 484.1,555.9C484.0,555.7 483.9,555.5 483.8,555.3C483.8,555.1 483.7,554.9 483.7,554.7C483.6,554.5 483.6,554.4 483.5,554.2C483.5,554.0 483.4,553.8 483.4,553.6C483.3,553.5 483.3,553.3 483.3,553.1C483.2,552.9 483.3,552.7 483.3,552.5C483.3,552.3 483.3,552.2 483.3,552.0C483.3,551.8 483.3,551.7 483.3,551.5C483.4,551.3 483.4,551.2 483.4,551.0C483.4,550.8 483.4,550.7 483.4,550.5C483.4,550.4 483.5,550.2 483.6,550.1C483.7,549.9 483.9,549.8 484.0,549.7C484.2,549.6 484.3,549.4 484.4,549.3C484.5,549.2 484.6,549.1 484.7,549.0C484.9,548.9 485.0,548.8 485.1,548.7C485.2,548.6 485.3,548.5 485.4,548.5C485.5,548.4 485.7,548.4 485.8,548.3C485.9,548.2 486.0,548.2 486.1,548.1C486.3,548.1 486.4,548.0 486.5,548.0C486.6,547.9 486.7,547.9 486.8,547.8C486.9,547.8 487.0,547.7 487.1,547.7C487.2,547.7 487.3,547.6 487.4,547.6C487.5,547.5 487.6,547.5 487.7,547.4C487.8,547.4 487.9,547.4 488.0,547.3C488.1,547.3 488.2,547.3 488.3,547.2C488.4,547.2 488.6,547.2 488.7,547.2C488.8,547.1 488.9,547.1 489.0,547.1C489.1,547.0 489.2,547.0 489.4,547.0C489.5,546.9 489.6,546.9 489.7,546.9C489.9,546.8 490.0,546.8 490.1,546.8C490.3,546.8 490.4,546.8 490.5,546.9C490.6,546.9 490.7,547.0 490.9,547.0C491.0,547.1 491.1,547.1 491.2,547.2C491.3,547.3 491.4,547.4 491.4,547.5C491.5,547.7 491.5,547.9 491.5,548.1C491.5,548.2 491.5,548.4 491.5,548.5C491.5,548.7 491.5,548.8 491.5,548.9C491.5,549.0 491.5,549.1 491.5,549.2C491.5,549.3 491.5,549.4 491.5,549.5C491.5,549.6 491.5,549.7 491.5,549.8C491.5,549.9 491.5,550.0 491.5,550.1C491.5,550.2 491.6,550.2 491.5,550.3C491.5,550.4 491.5,550.5 491.5,550.6C491.5,550.6 491.5,550.7 491.5,550.8C491.5,550.9 491.5,550.9 491.5,551.0Z" fill="none" stroke="#555" stroke-width="0.5"/>
<ellipse cx="488.5" cy="551" rx="1.1" ry="2.0" fill="#ccc"/>
<ellipse cx="484" cy="557" rx="1.2" ry="1.3" fill="#999"/>
<ellipse cx="481.5" cy="562" rx="1.0" ry="1.1" fill="#888"/>
<rect x="433.0" y="508.5" width="82.70" height="82.60" fill="none" stroke="#444" stroke-width="1.1"/>
<line x1="431.8" y1="515.3833333333333" x2="433.0" y2="515.3833333333333" stroke="#333" stroke-width="0.8" />
<line x1="431.8" y1="522.2666666666667" x2="433.0" y2="522.2666666666667" stroke="#333" stroke-width="0.8" />
<line x1="431.0" y1="529.15" x2="433.0" y2="529.15" stroke="#333" stroke-width="0.8" />
<line x1="431.8" y1="536.0333333333333" x2="433.0" y2="536.0333333333333" stroke="#333" stroke-width="0.8" />
<line x1="431.8" y1="542.9166666666666" x2="433.0" y2="542.9166666666666" stroke="#333" stroke-width="0.8" />
<line x1="431.0" y1="549.8" x2="433.0" y2="549.8" stroke="#333" stroke-width="0.8" />
<line x1="431.8" y1="556.6833333333334" x2="433.0" y2="556.6833333333334" stroke="#333" stroke-width="0.8" />
<line x1="431.8" y1="563.5666666666667" x2="433.0" y2="563.5666666666667" stroke="#333" stroke-width="0.8" />
<line x1="431.0" y1="570.45" x2="433.0" y2="570.45" stroke="#333" stroke-width="0.8" />
<line x1="431.8" y1="577.3333333333334" x2="433.0" y2="577.3333333333334" stroke="#333" stroke-width="0.8" />
<line x1="431.8" y1="584.2166666666667" x2="433.0" y2="584.2166666666667" stroke="#333" stroke-width="0.8" />
<line x1="439.89166666666665" y1="591.1" x2="439.89166666666665" y2="592.3000000000001" stroke="#333" stroke-width="0.8" />
<line x1="446.78333333333336" y1="591.1" x2="446.78333333333336" y2="592.3000000000001" stroke="#333" stroke-width="0.8" />
<line x1="453.675" y1="591.1" x2="453.675" y2="593.1" stroke="#333" stroke-width="0.8" />
<line x1="460.56666666666666" y1="591.1" x2="460.56666666666666" y2="592.3000000000001" stroke="#333" stroke-width="0.8" />
<line x1="467.45833333333337" y1="591.1" x2="467.45833333333337" y2="592.3000000000001" stroke="#333" stroke-width="0.8" />
<line x1="474.35" y1="591.1" x2="474.35" y2="593.1" stroke="#333" stroke-width="0.8" />
<line x1="481.2416666666667" y1="591.1" x2="481.2416666666667" y2="592.3000000000001" stroke="#333" stroke-width="0.8" />
<line x1="488.1333333333334" y1="591.1" x2="488.1333333333334" y2="592.3000000000001" stroke="#333" stroke-width="0.8" />
<line x1="495.02500000000003" y1="591.1" x2="495.02500000000003" y2="593.1" stroke="#333" stroke-width="0.8" />
<line x1="501.9166666666667" y1="591.1" x2="501.9166666666667" y2="592.3000000000001" stroke="#333" stroke-width="0.8" />
<line x1="508.8083333333334" y1="591.1" x2="508.8083333333334" y2="592.3000000000001" stroke="#333" stroke-width="0.8" />
<text x="452.6" y="503.8" font-size="8.9" font-weight="normal" font-style="normal" fill="#000" stroke="#000" stroke-width="0.35" text-anchor="start" >Act-rTreg</text>
<text x="435.3" y="519" font-size="9" font-weight="normal" font-style="normal" fill="#3c3c88" stroke="#3c3c88" stroke-width="0.35" text-anchor="start" >0.8</text>
<text x="511" y="519" font-size="9" font-weight="normal" font-style="normal" fill="#3c3c88" stroke="#3c3c88" stroke-width="0.35" text-anchor="end" >64</text>
<text x="435.3" y="588.8" font-size="9" font-weight="normal" font-style="normal" fill="#3c3c88" stroke="#3c3c88" stroke-width="0.35" text-anchor="start" >2.0</text>
<text x="511.2" y="588.8" font-size="9" font-weight="normal" font-style="normal" fill="#3c3c88" stroke="#3c3c88" stroke-width="0.35" text-anchor="end" >33</text>
<text x="0" y="0" font-size="8.8" fill="#000" font-weight="normal" stroke="#000" stroke-width="0.35"  text-anchor="middle" transform="translate(240.5,560) rotate(-90)">TIGIT-APC</text>
<line x1="245.6" y1="604.8" x2="418" y2="604.8" stroke="#000" stroke-width="1.9" />
<path d="M415.5,600.8 L426.4,604.8 L415.5,608.8 Z" fill="#000"/>
<text x="439.6" y="605.9" font-size="8.6" font-weight="normal" font-style="normal" fill="#000" stroke="#000" stroke-width="0.35" text-anchor="start" >CD25-PE*Cy7</text>
</svg>
</body></html>
